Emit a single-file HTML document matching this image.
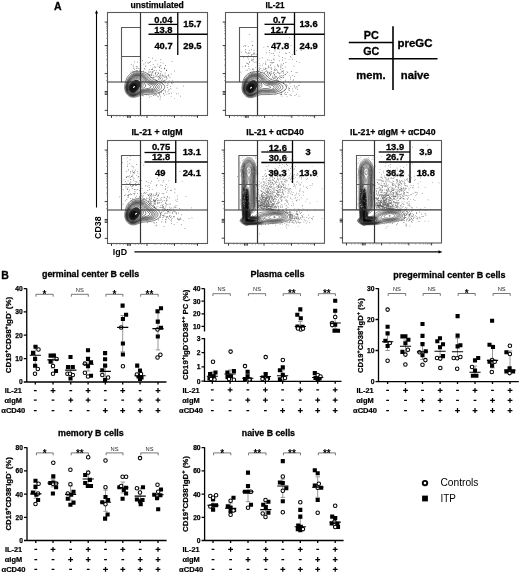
<!DOCTYPE html>
<html><head><meta charset="utf-8"><title>Figure</title>
<style>html,body{margin:0;padding:0;background:#fff;}svg{display:block;}text{font-family:"Liberation Sans", Arial, sans-serif;}</style>
</head><body>
<svg width="520" height="573" viewBox="0 0 520 573" font-family='"Liberation Sans", Arial, sans-serif'>
<rect width="520" height="573" fill="#fff"/>
<text x="54" y="9.6" font-size="10.5" font-weight="bold" stroke="#000" stroke-width="0.3" fill="#000">A</text>
<line x1="96.5" y1="12" x2="96.5" y2="207.5" stroke="#000" stroke-width="1.1"/>
<path d="M96.5 10 L98 13.5 L95 13.5 Z" fill="#000"/>
<text transform="translate(101,227.7) rotate(-90)" font-size="9.4" font-weight="bold" text-anchor="middle" textLength="22.5" lengthAdjust="spacingAndGlyphs">CD38</text>
<text x="112.8" y="254.6" font-size="9" font-weight="bold" textLength="14.2" lengthAdjust="spacingAndGlyphs" fill="#000">IgD</text>
<line x1="134.4" y1="251.9" x2="439.5" y2="251.9" stroke="#000" stroke-width="1.1"/>
<path d="M442.5 251.9 L438.5 250.3 L438.5 253.5 Z" fill="#000"/>
<rect x="107.5" y="12.5" width="100" height="103" fill="none" stroke="#5a5a5a" stroke-width="1.1"/>
<path d="M104.7 22.08h2.8 M104.7 45.56h2.8 M104.7 73.58h2.8 M104.7 110.35h2.8 M104.7 91.54h2.8 M104.7 92.94h2.8 M104.7 94.34h2.8 M111.5 115.5v2.4 M147 115.5v2.4 M174.5 115.5v2.4 M197.5 115.5v2.4 M127.6 115.5v2.4 M129 115.5v2.4 M130.4 115.5v2.4" stroke="#222" stroke-width="0.9" fill="none"/>
<path d="M106 23.25h1.5 M106 24.66h1.5 M106 26.31h1.5 M106 28.18h1.5 M106 30.53h1.5 M106 33.82h1.5 M106 38.52h1.5 M106 46.96h1.5 M106 48.64h1.5 M106 50.61h1.5 M106 52.85h1.5 M106 55.65h1.5 M106 59.57h1.5 M106 65.17h1.5 M106 76.67h1.5 M106 80.53h1.5 M155.25 115.5v1.5 M160.75 115.5v1.5 M164.6 115.5v1.5 M167.35 115.5v1.5 M169.55 115.5v1.5 M171.47 115.5v1.5 M173.12 115.5v1.5 M181.4 115.5v1.5 M186 115.5v1.5 M189.22 115.5v1.5 M191.52 115.5v1.5 M193.36 115.5v1.5 M194.97 115.5v1.5 M196.35 115.5v1.5 M116.6 115.5v1.5 M135.3 115.5v1.5 M120 115.5v1.5 M138.5 115.5v1.5 M123.4 115.5v1.5 M141.7 115.5v1.5 M125.95 115.5v1.5 M144.1 115.5v1.5" stroke="#777" stroke-width="0.6" fill="none"/>
<rect x="225.5" y="12.5" width="99" height="103" fill="none" stroke="#5a5a5a" stroke-width="1.1"/>
<path d="M222.7 22.08h2.8 M222.7 45.56h2.8 M222.7 73.58h2.8 M222.7 110.35h2.8 M222.7 91.54h2.8 M222.7 92.94h2.8 M222.7 94.34h2.8 M229.46 115.5v2.4 M264.61 115.5v2.4 M291.83 115.5v2.4 M314.6 115.5v2.4 M245.38 115.5v2.4 M246.78 115.5v2.4 M248.19 115.5v2.4" stroke="#222" stroke-width="0.9" fill="none"/>
<path d="M224 23.25h1.5 M224 24.66h1.5 M224 26.31h1.5 M224 28.18h1.5 M224 30.53h1.5 M224 33.82h1.5 M224 38.52h1.5 M224 46.96h1.5 M224 48.64h1.5 M224 50.61h1.5 M224 52.85h1.5 M224 55.65h1.5 M224 59.57h1.5 M224 65.17h1.5 M224 76.67h1.5 M224 80.53h1.5 M272.77 115.5v1.5 M278.22 115.5v1.5 M282.03 115.5v1.5 M284.75 115.5v1.5 M286.93 115.5v1.5 M288.84 115.5v1.5 M290.47 115.5v1.5 M298.66 115.5v1.5 M303.22 115.5v1.5 M306.4 115.5v1.5 M308.68 115.5v1.5 M310.5 115.5v1.5 M312.1 115.5v1.5 M313.46 115.5v1.5 M234.51 115.5v1.5 M253.02 115.5v1.5 M237.88 115.5v1.5 M256.19 115.5v1.5 M241.24 115.5v1.5 M259.36 115.5v1.5 M243.77 115.5v1.5 M261.73 115.5v1.5" stroke="#777" stroke-width="0.6" fill="none"/>
<rect x="107.5" y="140.5" width="100" height="103" fill="none" stroke="#5a5a5a" stroke-width="1.1"/>
<path d="M104.7 150.08h2.8 M104.7 173.56h2.8 M104.7 201.58h2.8 M104.7 238.35h2.8 M104.7 219.54h2.8 M104.7 220.94h2.8 M104.7 222.34h2.8 M111.5 243.5v2.4 M147 243.5v2.4 M174.5 243.5v2.4 M197.5 243.5v2.4 M127.6 243.5v2.4 M129 243.5v2.4 M130.4 243.5v2.4" stroke="#222" stroke-width="0.9" fill="none"/>
<path d="M106 151.25h1.5 M106 152.66h1.5 M106 154.31h1.5 M106 156.18h1.5 M106 158.53h1.5 M106 161.82h1.5 M106 166.52h1.5 M106 174.96h1.5 M106 176.64h1.5 M106 178.61h1.5 M106 180.85h1.5 M106 183.65h1.5 M106 187.57h1.5 M106 193.17h1.5 M106 204.67h1.5 M106 208.53h1.5 M155.25 243.5v1.5 M160.75 243.5v1.5 M164.6 243.5v1.5 M167.35 243.5v1.5 M169.55 243.5v1.5 M171.47 243.5v1.5 M173.12 243.5v1.5 M181.4 243.5v1.5 M186 243.5v1.5 M189.22 243.5v1.5 M191.52 243.5v1.5 M193.36 243.5v1.5 M194.97 243.5v1.5 M196.35 243.5v1.5 M116.6 243.5v1.5 M135.3 243.5v1.5 M120 243.5v1.5 M138.5 243.5v1.5 M123.4 243.5v1.5 M141.7 243.5v1.5 M125.95 243.5v1.5 M144.1 243.5v1.5" stroke="#777" stroke-width="0.6" fill="none"/>
<rect x="224.5" y="140.5" width="100" height="102.8" fill="none" stroke="#5a5a5a" stroke-width="1.1"/>
<path d="M221.7 150.06h2.8 M221.7 173.5h2.8 M221.7 201.46h2.8 M221.7 238.16h2.8 M221.7 219.39h2.8 M221.7 220.79h2.8 M221.7 222.19h2.8 M228.5 243.3v2.4 M264 243.3v2.4 M291.5 243.3v2.4 M314.5 243.3v2.4 M244.6 243.3v2.4 M246 243.3v2.4 M247.4 243.3v2.4" stroke="#222" stroke-width="0.9" fill="none"/>
<path d="M223 151.23h1.5 M223 152.64h1.5 M223 154.28h1.5 M223 156.15h1.5 M223 158.5h1.5 M223 161.78h1.5 M223 166.47h1.5 M223 174.9h1.5 M223 176.57h1.5 M223 178.53h1.5 M223 180.77h1.5 M223 183.56h1.5 M223 187.48h1.5 M223 193.07h1.5 M223 204.54h1.5 M223 208.4h1.5 M272.25 243.3v1.5 M277.75 243.3v1.5 M281.6 243.3v1.5 M284.35 243.3v1.5 M286.55 243.3v1.5 M288.48 243.3v1.5 M290.12 243.3v1.5 M298.4 243.3v1.5 M303 243.3v1.5 M306.22 243.3v1.5 M308.52 243.3v1.5 M310.36 243.3v1.5 M311.97 243.3v1.5 M313.35 243.3v1.5 M233.6 243.3v1.5 M252.3 243.3v1.5 M237 243.3v1.5 M255.5 243.3v1.5 M240.4 243.3v1.5 M258.7 243.3v1.5 M242.95 243.3v1.5 M261.1 243.3v1.5" stroke="#777" stroke-width="0.6" fill="none"/>
<rect x="342.5" y="140.5" width="99" height="102.5" fill="none" stroke="#5a5a5a" stroke-width="1.1"/>
<path d="M339.7 150.03h2.8 M339.7 173.4h2.8 M339.7 201.28h2.8 M339.7 237.88h2.8 M339.7 219.15h2.8 M339.7 220.55h2.8 M339.7 221.95h2.8 M346.46 243v2.4 M381.61 243v2.4 M408.83 243v2.4 M431.6 243v2.4 M362.39 243v2.4 M363.79 243v2.4 M365.19 243v2.4" stroke="#222" stroke-width="0.9" fill="none"/>
<path d="M341 151.2h1.5 M341 152.6h1.5 M341 154.24h1.5 M341 156.11h1.5 M341 158.45h1.5 M341 161.72h1.5 M341 166.39h1.5 M341 174.8h1.5 M341 176.47h1.5 M341 178.42h1.5 M341 180.65h1.5 M341 183.44h1.5 M341 187.34h1.5 M341 192.92h1.5 M341 204.36h1.5 M341 208.2h1.5 M389.77 243v1.5 M395.22 243v1.5 M399.03 243v1.5 M401.75 243v1.5 M403.93 243v1.5 M405.84 243v1.5 M407.47 243v1.5 M415.66 243v1.5 M420.22 243v1.5 M423.4 243v1.5 M425.68 243v1.5 M427.5 243v1.5 M429.1 243v1.5 M430.46 243v1.5 M351.51 243v1.5 M370.02 243v1.5 M354.88 243v1.5 M373.19 243v1.5 M358.24 243v1.5 M376.36 243v1.5 M360.77 243v1.5 M378.73 243v1.5" stroke="#777" stroke-width="0.6" fill="none"/>
<path d="M178.1 92.9h0.7v0.7h-0.7zM151.6 74.9h0.7v0.7h-0.7zM150.8 96.4h0.7v0.7h-0.7zM160.5 82.5h0.7v0.7h-0.7zM156.2 94.1h0.7v0.7h-0.7zM160.3 73.2h0.7v0.7h-0.7zM150.5 77.3h0.7v0.7h-0.7zM160 65.6h0.7v0.7h-0.7zM166.1 78.7h0.7v0.7h-0.7zM171.2 82.3h0.7v0.7h-0.7zM150.3 61.3h0.7v0.7h-0.7zM166.4 93.9h0.7v0.7h-0.7zM164.8 72.7h0.7v0.7h-0.7zM148.9 74.2h0.7v0.7h-0.7zM161.6 90.5h0.7v0.7h-0.7zM170.9 73.5h0.7v0.7h-0.7zM171.6 83h0.7v0.7h-0.7zM159.3 80.7h0.7v0.7h-0.7zM158.7 76h0.7v0.7h-0.7zM160.6 74.8h0.7v0.7h-0.7zM159.1 66.8h0.7v0.7h-0.7zM152 72.1h0.7v0.7h-0.7zM150.2 71.5h0.7v0.7h-0.7zM164.7 91.4h0.7v0.7h-0.7zM156.8 75.7h0.7v0.7h-0.7zM160.4 95.8h0.7v0.7h-0.7zM155.7 80.8h0.7v0.7h-0.7zM146.2 94.6h0.7v0.7h-0.7zM154.3 70.2h0.7v0.7h-0.7zM139.8 69.5h0.7v0.7h-0.7zM157.1 74.2h0.7v0.7h-0.7zM166 76.2h0.7v0.7h-0.7zM154.2 94.3h0.7v0.7h-0.7zM155.2 73.7h0.7v0.7h-0.7zM151.8 77h0.7v0.7h-0.7zM143.9 68h0.7v0.7h-0.7zM166 70.1h0.7v0.7h-0.7zM155.3 72.7h0.7v0.7h-0.7zM150.9 75.1h0.7v0.7h-0.7zM163.1 80.9h0.7v0.7h-0.7zM148.8 70.8h0.7v0.7h-0.7zM159.8 65.6h0.7v0.7h-0.7zM151.2 69.3h0.7v0.7h-0.7zM135.8 71.8h0.7v0.7h-0.7zM135.8 68.4h0.7v0.7h-0.7zM151.7 94.4h0.7v0.7h-0.7zM159.2 67.3h0.7v0.7h-0.7zM155.4 79.6h0.7v0.7h-0.7zM152 67.8h0.7v0.7h-0.7zM160.5 59.3h0.7v0.7h-0.7zM158.1 79.2h0.7v0.7h-0.7zM161.2 91.4h0.7v0.7h-0.7zM159.6 78.8h0.7v0.7h-0.7zM155.2 79.4h0.7v0.7h-0.7zM153.1 75.2h0.7v0.7h-0.7zM164.9 82.7h0.7v0.7h-0.7zM166.1 77.1h0.7v0.7h-0.7zM161.4 82.1h0.7v0.7h-0.7zM153.9 66.7h0.7v0.7h-0.7zM159.5 75.1h0.7v0.7h-0.7zM139.7 67.9h0.7v0.7h-0.7zM130.8 64.2h0.7v0.7h-0.7zM160 82.6h0.7v0.7h-0.7zM174 98.4h0.7v0.7h-0.7zM151.2 74.6h0.7v0.7h-0.7zM152.9 76.8h0.7v0.7h-0.7zM156.8 80.7h0.7v0.7h-0.7zM168.6 93.6h0.7v0.7h-0.7zM152 57.8h0.7v0.7h-0.7zM156.6 75.7h0.7v0.7h-0.7zM137.1 61.8h0.7v0.7h-0.7zM145.1 62.5h0.7v0.7h-0.7zM163 89.6h0.7v0.7h-0.7zM164.3 94.7h0.7v0.7h-0.7zM176.6 87.8h0.7v0.7h-0.7zM158.3 72.8h0.7v0.7h-0.7zM167.7 75h0.7v0.7h-0.7zM151.6 77.2h0.7v0.7h-0.7zM162.7 75.8h0.7v0.7h-0.7zM171.8 61.2h0.7v0.7h-0.7zM161.5 79.8h0.7v0.7h-0.7zM139.9 70.5h0.7v0.7h-0.7zM162.7 62.7h0.7v0.7h-0.7zM164 68.5h0.7v0.7h-0.7zM136.7 67.8h0.7v0.7h-0.7zM168.4 82.6h0.7v0.7h-0.7zM157.2 95.7h0.7v0.7h-0.7zM157.9 78.4h0.7v0.7h-0.7zM169.7 77.2h0.7v0.7h-0.7zM168 76.4h0.7v0.7h-0.7zM164.8 90.2h0.7v0.7h-0.7zM162 75.1h0.7v0.7h-0.7zM160.9 68.3h0.7v0.7h-0.7zM145.4 66.1h0.7v0.7h-0.7zM148.5 94.7h0.7v0.7h-0.7zM133.3 71.2h0.7v0.7h-0.7zM152.9 64.2h0.7v0.7h-0.7zM151.8 71.6h0.7v0.7h-0.7zM149.2 74.7h0.7v0.7h-0.7zM157.6 66.4h0.7v0.7h-0.7zM180.3 95.8h0.7v0.7h-0.7zM159.1 94.8h0.7v0.7h-0.7zM168.5 74.6h0.7v0.7h-0.7zM167 85h0.7v0.7h-0.7zM158.9 92.5h0.7v0.7h-0.7zM157.5 63.8h0.7v0.7h-0.7zM165.1 65h0.7v0.7h-0.7zM166.5 85.1h0.7v0.7h-0.7zM160.3 70.9h0.7v0.7h-0.7zM165.9 76.6h0.7v0.7h-0.7zM149.4 72.4h0.7v0.7h-0.7zM149.3 62.1h0.7v0.7h-0.7zM172.7 82.5h0.7v0.7h-0.7zM132.9 64.8h0.7v0.7h-0.7zM162.4 77.8h0.7v0.7h-0.7zM167.8 83.9h0.7v0.7h-0.7zM157.6 71.9h0.7v0.7h-0.7zM163.5 75.7h0.7v0.7h-0.7zM151.4 74.3h0.7v0.7h-0.7zM152.7 73.4h0.7v0.7h-0.7zM162.3 74.5h0.7v0.7h-0.7zM162.4 79.6h0.7v0.7h-0.7zM156.3 80.2h0.7v0.7h-0.7zM132.1 70.8h0.7v0.7h-0.7zM159.3 77.6h0.7v0.7h-0.7zM154.6 66.4h0.7v0.7h-0.7zM167.9 89.4h0.7v0.7h-0.7zM160.7 77h0.7v0.7h-0.7zM156.3 70.5h0.7v0.7h-0.7zM148 62.8h0.7v0.7h-0.7zM163 93.2h0.7v0.7h-0.7zM164.7 74.8h0.7v0.7h-0.7zM139.7 71.5h0.7v0.7h-0.7zM144.6 68.7h0.7v0.7h-0.7zM155.5 72.1h0.7v0.7h-0.7zM159.1 93.4h0.7v0.7h-0.7zM160.3 96.9h0.7v0.7h-0.7zM163.4 93.6h0.7v0.7h-0.7zM155.3 67.3h0.7v0.7h-0.7zM135.4 70.4h0.7v0.7h-0.7zM165.1 76.6h0.7v0.7h-0.7zM153.3 70.7h0.7v0.7h-0.7zM160.7 80.5h0.7v0.7h-0.7zM157.3 81.6h0.7v0.7h-0.7zM133.5 71.8h0.7v0.7h-0.7zM170.8 96.4h0.7v0.7h-0.7zM153.3 95.1h0.7v0.7h-0.7zM135.9 66.1h0.7v0.7h-0.7zM150.5 65.4h0.7v0.7h-0.7zM156.4 75.5h0.7v0.7h-0.7zM155.4 60.2h0.7v0.7h-0.7zM133.9 71.1h0.7v0.7h-0.7zM171.9 80.6h0.7v0.7h-0.7zM134.3 61.6h0.7v0.7h-0.7zM168.8 80.6h0.7v0.7h-0.7zM154 76.9h0.7v0.7h-0.7zM166.3 70.4h0.7v0.7h-0.7zM162.1 83.8h0.7v0.7h-0.7zM158 73.4h0.7v0.7h-0.7zM137.1 70.3h0.7v0.7h-0.7zM164 80.2h0.7v0.7h-0.7zM159 70.2h0.7v0.7h-0.7zM170.5 88.1h0.7v0.7h-0.7zM161 92.4h0.7v0.7h-0.7zM164.4 68.1h0.7v0.7h-0.7zM160.4 75.7h0.7v0.7h-0.7zM171.3 92.7h0.7v0.7h-0.7zM157.9 76.2h0.7v0.7h-0.7zM166.9 77.9h0.7v0.7h-0.7zM142.9 95.6h0.7v0.7h-0.7zM157.6 76.9h0.7v0.7h-0.7zM148.3 71.8h0.7v0.7h-0.7zM148.9 96.8h0.7v0.7h-0.7zM140.4 71.4h0.7v0.7h-0.7zM138.5 68.1h0.7v0.7h-0.7zM154.8 75.8h0.7v0.7h-0.7zM147.7 73h0.7v0.7h-0.7zM163.5 81.2h0.7v0.7h-0.7zM134 69.4h0.7v0.7h-0.7zM168.9 92.9h0.7v0.7h-0.7zM153.4 95.2h0.7v0.7h-0.7zM160.5 92.1h0.7v0.7h-0.7zM142 60.3h0.7v0.7h-0.7zM152.2 69.3h0.7v0.7h-0.7zM166.3 69.7h0.7v0.7h-0.7zM159.4 93.8h0.7v0.7h-0.7zM165.2 91.7h0.7v0.7h-0.7zM160.2 62.4h0.7v0.7h-0.7zM168.1 74.8h0.7v0.7h-0.7zM159.7 74.6h0.7v0.7h-0.7zM132.8 66.5h0.7v0.7h-0.7zM130.5 71.8h0.7v0.7h-0.7zM167 87.1h0.7v0.7h-0.7zM163.1 80.4h0.7v0.7h-0.7zM161.7 81.5h0.7v0.7h-0.7zM155.1 73.5h0.7v0.7h-0.7zM176.2 93.5h0.7v0.7h-0.7zM174.2 70.8h0.7v0.7h-0.7zM146.7 73.7h0.7v0.7h-0.7zM155.5 76.4h0.7v0.7h-0.7zM136.2 70.3h0.7v0.7h-0.7zM145.5 64.9h0.7v0.7h-0.7zM133.5 67.7h0.7v0.7h-0.7zM158.2 93.1h0.7v0.7h-0.7zM148.5 57.3h0.7v0.7h-0.7zM143.5 63.7h0.7v0.7h-0.7zM151.5 69.3h0.7v0.7h-0.7zM149.4 75.6h0.7v0.7h-0.7zM167.6 91.5h0.7v0.7h-0.7zM164.6 81.7h0.7v0.7h-0.7zM159.7 99h0.7v0.7h-0.7zM139.1 69.9h0.7v0.7h-0.7zM171.5 82.9h0.7v0.7h-0.7zM143.1 70.8h0.7v0.7h-0.7zM133.1 67.9h0.7v0.7h-0.7zM170.1 86.2h0.7v0.7h-0.7zM149 69.3h0.7v0.7h-0.7zM147.6 62.5h0.7v0.7h-0.7zM142.2 95h0.7v0.7h-0.7zM155 93.9h0.7v0.7h-0.7zM166.9 83h0.7v0.7h-0.7zM161.3 71.5h0.7v0.7h-0.7zM149.8 74.6h0.7v0.7h-0.7zM153.3 77.6h0.7v0.7h-0.7zM158.3 96.5h0.7v0.7h-0.7zM136.8 66.5h0.7v0.7h-0.7zM165.8 76.9h0.7v0.7h-0.7zM168.3 89.9h0.7v0.7h-0.7zM183.1 85.7h0.7v0.7h-0.7zM164.8 79.8h0.7v0.7h-0.7zM147.7 74.7h0.7v0.7h-0.7zM155.6 95h0.7v0.7h-0.7zM160.3 78.2h0.7v0.7h-0.7zM164 67.8h0.7v0.7h-0.7zM160.5 65.4h0.7v0.7h-0.7zM151.3 72.7h0.7v0.7h-0.7zM152.3 71.5h0.7v0.7h-0.7zM159.1 76.9h0.7v0.7h-0.7zM164.3 76.7h0.7v0.7h-0.7zM169.1 88.9h0.7v0.7h-0.7z" fill="#555"/>
<path d="M135.3 80 136.5 79.9 137.5 80.1 138.3 80.5 139.1 81.2 139.8 82.2 140.1 83.2 140.2 84.5 140.1 85.8 139.6 87 138.6 88.8 136.2 91.6 134.2 92.8 133 93 132 92.9 130.3 92 129.2 90.5 128.7 88.5 128.8 86.5 129.7 84.5 131.2 82.5 133.2 80.9Z" fill="#333" fill-rule="evenodd"/>
<path d="M133.6 83.5 135 83.4 136.2 84.1 136.8 85.2 136.9 87 136.3 89 135.2 90.5 134 91.3 132.5 91.5 131.2 91 130.5 90.2 130 89 130 87.5 130.3 86.2 131.1 85 132.2 84.1Z" fill="#0a0a0a" fill-rule="evenodd"/>
<path d="M135.9 71.5 139 71.3 142 71.6 144.8 72.3 147 73.4 149 75 151.7 78 152.9 79 154.9 80 160.2 82.1 162.9 83.8 164 85 164.6 86.2 164.7 87.5 164.2 88.8 162.9 90.2 160.8 91.7 158 92.8 155 93.6 151 94.1 143.2 94.6 141.2 95.1 136.2 96.9 134 97.3 131.2 97.1 129 96.1 127.6 95 126.4 93.5 125.4 91.5 124.9 89.8 124.7 88 124.7 86 125.6 81.2 127.1 77.5 128.1 76 129.3 74.8 130.8 73.5 132.2 72.7 134 72ZM136.8 72.8 139.2 72.7 141.5 73 143.8 73.6 145.8 74.6 147.5 76 150 78.9 151.2 80 153.1 81 158 83 160.3 84.5 161.1 85.5 161.5 86.5 161.5 87.5 161.1 88.5 160 89.7 158.5 90.7 156.5 91.6 154 92.3 150.5 92.8 145 93 143 93.3 140.8 94 136.2 95.9 134.2 96.5 132.8 96.5 131.5 96.4 129.2 95.4 128 94.3 127 93 126.2 91.5 125.7 89.8 125.5 88 125.6 86 126.6 81.8 128.3 78 129.4 76.5 130.5 75.4 131.8 74.4 133.2 73.7 135 73.1ZM136.1 73.8 138.2 73.6 140.8 73.8 142.8 74.4 144.8 75.4 146.5 76.8 149 79.8 150.1 80.8 151.9 81.8 156.1 83.5 158.1 84.8 158.8 85.5 159.2 86.5 159.2 87.5 158.9 88.2 158.3 89 157.3 89.8 154.5 91 150.8 91.8 145 92.1 143 92.4 141 93 136.8 95.1 134.8 95.8 133.2 96 132 95.9 130.8 95.6 129.5 95 128.3 94 127.3 92.8 126.7 91.5 126.2 90 126 87 126.7 83.5 128.3 79.5 130.2 76.7 131.5 75.6 132.8 74.8 134.2 74.2ZM135.7 74.5 137.8 74.3 140 74.5 142.2 75.1 144 76 145.6 77.2 148 80.3 149.2 81.4 150.8 82.3 154.8 84 156.5 85.2 157.3 86.5 157.4 87.2 157.1 88 155.8 89.2 153.7 90.2 150.5 91 145 91.3 143 91.6 141 92.4 136.8 94.7 134.8 95.4 132.2 95.6 131 95.3 129.8 94.7 128.8 93.9 127.8 92.8 126.6 90.2 126.3 87.2 126.9 84.2 128.4 80.5 130.4 77.5 131.5 76.4 132.8 75.6 134.2 74.9ZM136.1 75 138 74.9 140 75.1 141.8 75.7 143.5 76.6 145.1 78 147.2 80.8 148.2 81.8 149.8 82.8 153.5 84.5 154.9 85.5 155.6 86.8 155.5 87.5 155.2 88 153.8 89.2 151.5 89.9 149.2 90.3 144.8 90.6 142.5 91.1 140.5 92 136.5 94.4 134.5 95.2 133.2 95.3 132 95.2 130.8 94.9 129.8 94.3 128.8 93.5 127.9 92.5 126.8 90 126.6 87.2 127.2 84.2 128.9 80.5 130.8 77.8 132 76.7 133.2 75.9 134.8 75.3ZM136.1 75.5 138 75.4 139.8 75.6 141.5 76.2 143 77.1 144.5 78.5 146.5 81.3 147.5 82.4 148.8 83.2 152.2 85 153.2 85.8 153.8 86.8 153.5 87.8 152.5 88.6 150.7 89.2 144.8 89.9 142.8 90.5 140.5 91.6 136.5 94.1 134.5 94.9 133.2 95.1 132 95 130.8 94.6 129.8 94 128.8 93.2 128 92.2 127.1 90 126.8 87.2 127.4 84.5 129.1 80.8 131 78.2 133.2 76.4 134.5 75.9ZM137.1 76 140 76.4 141.4 77 142.6 77.8 144 79.2 146.4 83 147.5 83.9 150.4 85.8 151 86.5 151 87 150.4 87.8 149.2 88.2 145 89 142.8 89.7 140.5 91 136.8 93.6 135.2 94.3 133.2 94.8 131.5 94.6 130.2 94 129.2 93.3 128.4 92.2 127.7 91 127.2 89.5 127.1 88 127.6 85 128.4 83 129.3 81.2 130.5 79.5 131.6 78.2 132.8 77.4 134.2 76.6 135.8 76.1ZM135.3 77 137 76.8 138.8 77 140.5 77.6 141.8 78.5 142.7 79.5 143.6 81 145.4 85 145.6 86 145.4 86.5 144.7 87.2 136.2 93.4 134 94.3 132 94.3 130 93.4 129 92.5 128.3 91.5 127.8 90.2 127.5 89 127.6 86.2 128.7 83.2 130.9 80 133 78ZM135.8 77.8 137.2 77.7 138.8 78 140 78.6 141.2 79.5 142 80.8 142.7 82.5 143.1 84.2 143 85.8 142.6 86.8 141.6 88 136.5 92.7 135.2 93.4 134 93.9 132.8 94 131.8 93.8 130.8 93.4 129.8 92.8 128.5 91 128 89.7 127.8 88.5 128.1 86 129.2 83.2 131.5 80.2 133.5 78.6ZM135.6 78.8 137 78.7 138.2 79 139.3 79.5 140.2 80.3 141 81.5 141.5 83 141.7 84.5 141.5 85.8 141 87 140.1 88.2 136.5 92.1 135.2 92.9 134 93.4 132.8 93.5 131.8 93.4 130 92.4 128.8 90.8 128.2 88.5 128.4 86.2 129.5 83.8 131.5 81.2 133.5 79.6ZM135.3 80 136.5 79.9 137.5 80.1 138.3 80.5 139.1 81.2 139.8 82.2 140.1 83.2 140.2 84.5 140.1 85.8 139.6 87 138.6 88.8 136.2 91.6 134.2 92.8 133 93 132 92.9 130.3 92 129.2 90.5 128.7 88.5 128.8 86.5 129.7 84.5 131.2 82.5 133.2 80.9ZM134.2 81.8 136 81.5 136.8 81.8 137.6 82.2 138.2 83 138.5 83.9 138.5 86 137.5 88.8 135.9 91 134.2 92.1 133.2 92.4 132.2 92.3 130.9 91.8 129.8 90.5 129.2 88.8 129.3 87 130 85.2 131 83.8 132.5 82.6ZM133.7 83 135.2 82.9 136.6 83.5 137.3 84.8 137.4 86.8 136.8 88.8 135.6 90.5 134 91.6 132.5 91.8 131.2 91.3 130.2 90.3 129.8 89 129.7 87.5 130.2 86 131 84.7 132.2 83.7ZM132.9 84.2 134.2 84 135.5 84.5 136.2 85.5 136.4 87 136.1 88.5 135.2 90 134 90.9 132.8 91.2 131.8 90.9 131 90.2 130.4 89.2 130.2 88 130.5 86.8 131 85.8 132 84.8ZM132.8 85.2 133.8 85.1 134.8 85.5 135.3 86.2 135.5 87.2 135.3 88.5 134.8 89.5 134 90.2 133 90.5 132.2 90.4 131.5 89.9 131 89 130.9 88.2 131 87.2 131.3 86.5 132 85.7ZM132.7 86.2 133.5 86.1 134 86.3 134.4 86.8 134.6 87.5 134.5 88.2 134.1 89 133.5 89.5 133 89.7 132 89.2 131.6 88.2 131.9 87Z" fill="none" stroke="#1a1a1a" stroke-width="0.55" stroke-linejoin="round"/>
<ellipse cx="134" cy="87" rx="1.2" ry="0.7" fill="#fff" transform="rotate(-35 134 87)"/>
<path d="M271.7 62.8h0.7v0.7h-0.7zM298.2 85.1h0.7v0.7h-0.7zM253 57.6h0.7v0.7h-0.7zM287.4 92.2h0.7v0.7h-0.7zM251.7 41.3h0.7v0.7h-0.7zM286.8 95.9h0.7v0.7h-0.7zM274.7 94.1h0.7v0.7h-0.7zM283.4 77.3h0.7v0.7h-0.7zM296.1 50.3h0.7v0.7h-0.7zM266.4 70h0.7v0.7h-0.7zM288.8 88.2h0.7v0.7h-0.7zM280.7 66.5h0.7v0.7h-0.7zM294.3 84.9h0.7v0.7h-0.7zM252.8 60.7h0.7v0.7h-0.7zM259.2 69.8h0.7v0.7h-0.7zM299.1 85.4h0.7v0.7h-0.7zM283.2 72.7h0.7v0.7h-0.7zM290.3 86.4h0.7v0.7h-0.7zM275.7 73h0.7v0.7h-0.7zM288.4 89.5h0.7v0.7h-0.7zM268.1 64.9h0.7v0.7h-0.7zM273.3 72h0.7v0.7h-0.7zM273.8 78.1h0.7v0.7h-0.7zM243.1 45.9h0.7v0.7h-0.7zM290.2 56.1h0.7v0.7h-0.7zM290.7 95h0.7v0.7h-0.7zM273.3 73.1h0.7v0.7h-0.7zM299.7 82.1h0.7v0.7h-0.7zM286.2 53h0.7v0.7h-0.7zM268.6 71.8h0.7v0.7h-0.7zM279.1 56.4h0.7v0.7h-0.7zM267.7 73.7h0.7v0.7h-0.7zM258 71.4h0.7v0.7h-0.7zM295.4 54.3h0.7v0.7h-0.7zM264.8 70.9h0.7v0.7h-0.7zM240.9 51.8h0.7v0.7h-0.7zM259.7 65.2h0.7v0.7h-0.7zM273.2 53.1h0.7v0.7h-0.7zM285.1 52.7h0.7v0.7h-0.7zM283.3 63.3h0.7v0.7h-0.7zM281.4 75.3h0.7v0.7h-0.7zM274.1 77.6h0.7v0.7h-0.7zM272.6 62.2h0.7v0.7h-0.7zM294.2 86.6h0.7v0.7h-0.7zM248 64.3h0.7v0.7h-0.7zM271.5 53.3h0.7v0.7h-0.7zM276.8 77.4h0.7v0.7h-0.7zM248.4 55.6h0.7v0.7h-0.7zM292.6 90.8h0.7v0.7h-0.7zM284.5 74.5h0.7v0.7h-0.7zM279.6 74.9h0.7v0.7h-0.7zM252.4 44.7h0.7v0.7h-0.7zM267 72.5h0.7v0.7h-0.7zM277.8 65.1h0.7v0.7h-0.7zM290.8 56.9h0.7v0.7h-0.7zM276.1 76.5h0.7v0.7h-0.7zM277.9 80.4h0.7v0.7h-0.7zM269.3 52.6h0.7v0.7h-0.7zM270.3 74h0.7v0.7h-0.7zM278.2 55.4h0.7v0.7h-0.7zM273.7 59.5h0.7v0.7h-0.7zM277.4 65.6h0.7v0.7h-0.7zM280.2 78.9h0.7v0.7h-0.7zM267.3 46.1h0.7v0.7h-0.7zM257.7 70.1h0.7v0.7h-0.7zM265.4 69.4h0.7v0.7h-0.7zM283 42.9h0.7v0.7h-0.7zM252 45h0.7v0.7h-0.7zM247.4 57h0.7v0.7h-0.7zM245.4 45.5h0.7v0.7h-0.7zM272.7 76.9h0.7v0.7h-0.7zM271 73.3h0.7v0.7h-0.7zM248.1 52.6h0.7v0.7h-0.7zM278 72.3h0.7v0.7h-0.7zM296.4 61.3h0.7v0.7h-0.7zM268.7 66.5h0.7v0.7h-0.7zM285.5 62.2h0.7v0.7h-0.7zM250.3 72.3h0.7v0.7h-0.7zM285.8 73.4h0.7v0.7h-0.7zM280.8 63.7h0.7v0.7h-0.7zM252.7 54.1h0.7v0.7h-0.7zM290.7 45.3h0.7v0.7h-0.7zM252.8 59.2h0.7v0.7h-0.7zM274.5 66.5h0.7v0.7h-0.7zM246.7 53.5h0.7v0.7h-0.7zM279.2 51.8h0.7v0.7h-0.7zM283.1 83.1h0.7v0.7h-0.7zM277.4 80.8h0.7v0.7h-0.7zM287.4 84.9h0.7v0.7h-0.7zM272.2 77h0.7v0.7h-0.7zM244.5 45h0.7v0.7h-0.7zM291.8 54.6h0.7v0.7h-0.7zM259.1 62.9h0.7v0.7h-0.7zM257.2 67.8h0.7v0.7h-0.7zM292.4 75h0.7v0.7h-0.7zM281.3 71.4h0.7v0.7h-0.7zM265 67.7h0.7v0.7h-0.7zM270.4 73.8h0.7v0.7h-0.7zM277.2 78h0.7v0.7h-0.7zM275.2 76.2h0.7v0.7h-0.7zM295.2 87.8h0.7v0.7h-0.7zM281.3 93.7h0.7v0.7h-0.7zM259.5 57.9h0.7v0.7h-0.7zM254.1 53.3h0.7v0.7h-0.7zM278.9 48.8h0.7v0.7h-0.7zM257.4 64.9h0.7v0.7h-0.7zM276.8 80.2h0.7v0.7h-0.7zM245.3 49.2h0.7v0.7h-0.7zM288.8 59.4h0.7v0.7h-0.7zM273.4 62h0.7v0.7h-0.7zM284.8 94h0.7v0.7h-0.7zM283.2 75.2h0.7v0.7h-0.7zM270.9 67.3h0.7v0.7h-0.7zM286.6 70.9h0.7v0.7h-0.7zM263.4 68.6h0.7v0.7h-0.7zM269.4 73.1h0.7v0.7h-0.7zM281.2 92.3h0.7v0.7h-0.7zM248.4 58.7h0.7v0.7h-0.7zM270.5 64.4h0.7v0.7h-0.7zM252.4 59.8h0.7v0.7h-0.7zM262.8 63.4h0.7v0.7h-0.7zM245.3 66.3h0.7v0.7h-0.7zM246.1 62.8h0.7v0.7h-0.7zM294 76.2h0.7v0.7h-0.7zM253.4 70.6h0.7v0.7h-0.7zM272 75.8h0.7v0.7h-0.7zM269.9 74.6h0.7v0.7h-0.7zM288.9 74.9h0.7v0.7h-0.7zM256.9 60.7h0.7v0.7h-0.7zM291.9 59.3h0.7v0.7h-0.7zM279.5 76.3h0.7v0.7h-0.7zM265.5 64.1h0.7v0.7h-0.7zM285.2 74.4h0.7v0.7h-0.7zM253.7 50h0.7v0.7h-0.7zM283.2 82h0.7v0.7h-0.7zM282.4 68.1h0.7v0.7h-0.7zM285.4 79.8h0.7v0.7h-0.7zM270.8 77.9h0.7v0.7h-0.7zM248.9 34.1h0.7v0.7h-0.7zM252.4 68.5h0.7v0.7h-0.7zM248.2 45.9h0.7v0.7h-0.7zM293.3 79.6h0.7v0.7h-0.7zM249 61.2h0.7v0.7h-0.7zM279.2 78h0.7v0.7h-0.7zM290 78.7h0.7v0.7h-0.7zM266.8 71.1h0.7v0.7h-0.7zM283.1 72.6h0.7v0.7h-0.7zM264 72.6h0.7v0.7h-0.7zM274.9 77.3h0.7v0.7h-0.7zM255.3 67.4h0.7v0.7h-0.7zM281.5 77.5h0.7v0.7h-0.7zM270.6 72.4h0.7v0.7h-0.7zM270.4 75.1h0.7v0.7h-0.7zM255.6 61.8h0.7v0.7h-0.7zM284.8 66.8h0.7v0.7h-0.7zM288.9 52h0.7v0.7h-0.7zM282.5 70.7h0.7v0.7h-0.7zM291.3 71.3h0.7v0.7h-0.7zM265.2 63.2h0.7v0.7h-0.7zM269.1 72.3h0.7v0.7h-0.7zM265.2 68.2h0.7v0.7h-0.7zM248.5 53h0.7v0.7h-0.7zM287.3 72.1h0.7v0.7h-0.7zM252.6 72.2h0.7v0.7h-0.7zM285.1 92h0.7v0.7h-0.7zM260.4 72h0.7v0.7h-0.7zM245.8 70.4h0.7v0.7h-0.7zM280.9 77h0.7v0.7h-0.7zM271 71.3h0.7v0.7h-0.7zM251.2 60.2h0.7v0.7h-0.7zM259.3 67.5h0.7v0.7h-0.7zM298.8 95.7h0.7v0.7h-0.7zM274.6 50.6h0.7v0.7h-0.7zM247.4 56h0.7v0.7h-0.7zM269.2 50.3h0.7v0.7h-0.7zM253.7 53.8h0.7v0.7h-0.7zM249.7 69.5h0.7v0.7h-0.7zM274.5 70.6h0.7v0.7h-0.7zM268.4 67.2h0.7v0.7h-0.7zM257 69.8h0.7v0.7h-0.7zM271 60h0.7v0.7h-0.7zM273.7 76.4h0.7v0.7h-0.7zM296.5 86.2h0.7v0.7h-0.7zM263.7 72.4h0.7v0.7h-0.7zM244.9 65h0.7v0.7h-0.7zM281.4 94.2h0.7v0.7h-0.7zM288.7 81.6h0.7v0.7h-0.7zM245 51.6h0.7v0.7h-0.7zM248.5 66.1h0.7v0.7h-0.7zM278.5 72.7h0.7v0.7h-0.7zM274.3 69.2h0.7v0.7h-0.7zM275.5 69.7h0.7v0.7h-0.7zM246.9 69.8h0.7v0.7h-0.7zM273.7 70.4h0.7v0.7h-0.7zM282.2 71.3h0.7v0.7h-0.7zM278.5 80.7h0.7v0.7h-0.7zM289.6 83h0.7v0.7h-0.7zM280.7 93.9h0.7v0.7h-0.7zM299.1 62.4h0.7v0.7h-0.7zM296.7 87.6h0.7v0.7h-0.7zM249.2 62h0.7v0.7h-0.7zM271.4 62.3h0.7v0.7h-0.7zM294.6 95.3h0.7v0.7h-0.7zM245.4 45.7h0.7v0.7h-0.7zM251.4 54.1h0.7v0.7h-0.7zM240.5 71.7h0.7v0.7h-0.7zM289.1 88.1h0.7v0.7h-0.7zM284.9 74h0.7v0.7h-0.7zM247 63.2h0.7v0.7h-0.7zM270.6 73.4h0.7v0.7h-0.7zM271.1 69.1h0.7v0.7h-0.7zM274.9 78.6h0.7v0.7h-0.7zM284.8 80.9h0.7v0.7h-0.7zM279.7 72.9h0.7v0.7h-0.7zM296.7 72.3h0.7v0.7h-0.7zM286.2 84.5h0.7v0.7h-0.7zM248.6 68.2h0.7v0.7h-0.7zM255.8 54h0.7v0.7h-0.7zM282.1 57.1h0.7v0.7h-0.7zM262.1 64.7h0.7v0.7h-0.7zM280.5 67.6h0.7v0.7h-0.7zM268.9 73.1h0.7v0.7h-0.7zM274.1 71.9h0.7v0.7h-0.7zM268.2 75h0.7v0.7h-0.7zM292.2 88.5h0.7v0.7h-0.7zM279.9 94.2h0.7v0.7h-0.7zM295.6 72.4h0.7v0.7h-0.7zM285.9 94.2h0.7v0.7h-0.7zM262.2 57.5h0.7v0.7h-0.7zM267 72h0.7v0.7h-0.7zM283.3 70.6h0.7v0.7h-0.7zM281.9 64.7h0.7v0.7h-0.7zM280.7 72.6h0.7v0.7h-0.7zM276.3 76.6h0.7v0.7h-0.7zM279 60.6h0.7v0.7h-0.7zM268.2 66.6h0.7v0.7h-0.7zM294.1 48.9h0.7v0.7h-0.7zM296.2 93.8h0.7v0.7h-0.7zM249.6 52.8h0.7v0.7h-0.7zM278 80.8h0.7v0.7h-0.7zM273.9 75h0.7v0.7h-0.7zM275.9 69.1h0.7v0.7h-0.7zM269.9 62h0.7v0.7h-0.7zM274.1 74.1h0.7v0.7h-0.7zM288.9 37.5h0.7v0.7h-0.7zM280.4 69.3h0.7v0.7h-0.7zM292.7 79.9h0.7v0.7h-0.7zM247.9 62.9h0.7v0.7h-0.7zM266 75.5h0.7v0.7h-0.7zM285.8 85.7h0.7v0.7h-0.7zM293.6 65.7h0.7v0.7h-0.7zM260.5 68.1h0.7v0.7h-0.7zM264.3 72.6h0.7v0.7h-0.7zM277.2 64h0.7v0.7h-0.7zM251.9 69.3h0.7v0.7h-0.7zM285 80.8h0.7v0.7h-0.7zM280.1 76.4h0.7v0.7h-0.7zM253.4 68.8h0.7v0.7h-0.7zM282.3 59.7h0.7v0.7h-0.7zM297 89h0.7v0.7h-0.7zM277.5 72.2h0.7v0.7h-0.7zM244.1 79.2h0.7v0.7h-0.7zM284.7 58h0.7v0.7h-0.7zM259 69.2h0.7v0.7h-0.7zM280.1 76.9h0.7v0.7h-0.7zM256.7 71.1h0.7v0.7h-0.7zM282.9 77.4h0.7v0.7h-0.7zM265.5 61.6h0.7v0.7h-0.7zM267.9 46.5h0.7v0.7h-0.7zM252.9 52.8h0.7v0.7h-0.7zM288.4 87.5h0.7v0.7h-0.7zM262.5 70.6h0.7v0.7h-0.7zM270.8 71.2h0.7v0.7h-0.7zM256.9 63.1h0.7v0.7h-0.7zM284.2 93.4h0.7v0.7h-0.7zM281 93.8h0.7v0.7h-0.7zM270 65.3h0.7v0.7h-0.7zM265.8 71.4h0.7v0.7h-0.7zM242.4 66.6h0.7v0.7h-0.7zM251.3 55h0.7v0.7h-0.7zM250.6 72.5h0.7v0.7h-0.7zM269.2 75.9h0.7v0.7h-0.7zM273.5 58.8h0.7v0.7h-0.7zM275.8 80.1h0.7v0.7h-0.7zM273.9 55.3h0.7v0.7h-0.7zM253.9 52.4h0.7v0.7h-0.7zM267 59.6h0.7v0.7h-0.7zM266.7 73.6h0.7v0.7h-0.7zM300.9 50.3h0.7v0.7h-0.7zM245.8 52.3h0.7v0.7h-0.7zM270.7 68h0.7v0.7h-0.7zM281.6 95.8h0.7v0.7h-0.7zM279.3 73.5h0.7v0.7h-0.7zM273.2 78.2h0.7v0.7h-0.7zM280.4 65.6h0.7v0.7h-0.7zM277.4 70.4h0.7v0.7h-0.7zM249.1 50.2h0.7v0.7h-0.7zM266 52.5h0.7v0.7h-0.7zM284.4 89.7h0.7v0.7h-0.7zM251.1 49h0.7v0.7h-0.7zM277.1 71.6h0.7v0.7h-0.7zM251.5 58.8h0.7v0.7h-0.7zM254.1 61.9h0.7v0.7h-0.7zM277.3 78.8h0.7v0.7h-0.7zM266.6 68.3h0.7v0.7h-0.7zM278 66h0.7v0.7h-0.7zM285.8 85.7h0.7v0.7h-0.7zM243.2 57.3h0.7v0.7h-0.7zM276.3 79h0.7v0.7h-0.7zM264.4 69.4h0.7v0.7h-0.7zM274.3 74.2h0.7v0.7h-0.7zM276 69h0.7v0.7h-0.7zM274.7 67.9h0.7v0.7h-0.7zM290.1 76.7h0.7v0.7h-0.7zM261.6 70.4h0.7v0.7h-0.7zM289.2 90.1h0.7v0.7h-0.7zM263.5 47.4h0.7v0.7h-0.7zM268.7 59.7h0.7v0.7h-0.7zM289.7 94.5h0.7v0.7h-0.7zM282.5 75.7h0.7v0.7h-0.7zM278.4 77.2h0.7v0.7h-0.7zM263.6 68.9h0.7v0.7h-0.7z" fill="#555"/>
<path d="M252.9 80.2 254 80.2 255 80.5 255.8 81 256.5 81.8 257.1 82.8 257.3 83.8 257.4 85 257.1 86.2 255.7 89.2 254.6 90.8 253.4 92 252.2 92.8 251.2 93.2 250 93.3 249 93.1 247.5 92.2 246.3 90.5 245.9 88.5 246.2 86.5 247.2 84.5 248.8 82.6 251 80.9Z" fill="#333" fill-rule="evenodd"/>
<path d="M251.1 83.8 252.5 83.8 253.6 84.5 254.1 85.8 254.1 87.5 253.6 89.2 252.5 90.8 251.2 91.7 249.8 91.8 248.5 91.3 247.8 90.4 247.3 89.2 247.3 87.8 247.6 86.5 248.5 85.2 249.8 84.3Z" fill="#0a0a0a" fill-rule="evenodd"/>
<path d="M253.5 71.8 255.5 71.6 257.8 71.6 259.8 71.9 262 72.6 263.8 73.4 265.2 74.4 266.5 75.5 269 78.2 270.5 79.2 272.7 80 279.2 81.6 282.8 82.9 284.8 84.2 286.1 85.8 286.5 87.2 286.1 88.8 284.9 90.2 282.8 91.7 280 92.8 276.8 93.7 270.8 94.5 261 94.6 258.5 95.2 253.8 97.1 251.5 97.6 249.2 97.6 247 96.8 245.5 95.8 244.2 94.5 243.1 92.8 242.4 91 242.1 89.2 242 87.2 242.2 85 242.7 82.5 243.3 80.2 244.2 78.2 245.3 76.5 246.5 75.1 248 73.9 249.8 72.9 251.5 72.2ZM254.6 73 258.2 73.2 261.5 74.1 264.2 75.8 267.4 79.2 269 80.4 271 81.2 277.2 82.7 280.2 83.9 281.8 85 282.6 86 283 87.2 282.7 88.5 281.6 89.8 280 90.8 277.8 91.7 275 92.5 269.8 93.1 262.8 93.1 260.8 93.3 258.4 94 253.8 96.2 251.2 96.8 249 96.7 247 96 245.8 95.1 244.6 93.8 243.7 92.2 243.1 90.5 242.8 88.8 242.8 86.8 243.1 84.8 243.8 82.2 245.5 78.5 246.5 77 247.8 75.7 249.2 74.6 250.8 73.9 252.5 73.3ZM253.6 74 255.8 73.9 257.8 74.1 259.8 74.6 261.5 75.3 263.5 76.8 266.2 80 267.8 81.2 269.9 82 275.9 83.5 278.8 84.8 279.8 85.7 280.3 86.5 280.5 87.5 280.2 88.3 279.4 89.2 278 90.2 276.2 91 274 91.6 269.5 92.2 262.8 92.1 260.8 92.3 258.2 93.2 253.5 95.7 251.5 96.2 249.2 96.2 247.2 95.5 246 94.7 245 93.5 244.2 92.2 243.6 90.8 243.3 89.2 243.3 87.5 243.9 84 245.6 79.8 247.6 77 248.8 76 250.2 75 252 74.3ZM253.3 74.8 255 74.6 257 74.7 259 75.2 260.8 75.9 262.8 77.4 265.2 80.6 266.8 81.8 268.8 82.6 274.5 84.1 277 85.3 277.8 86 278.2 86.7 278.3 87.5 278 88.2 277.2 89.1 276 89.9 272.5 90.9 269 91.4 262.8 91.3 260.5 91.6 258.2 92.5 253.8 95.1 251.8 95.8 249.5 95.9 247.2 95.1 246.1 94.2 245.2 93.2 244.5 92 244 90.8 243.7 89.2 243.6 87.8 244.1 84.8 245.8 80.5 247.8 77.7 249 76.6 250.3 75.8 251.8 75.1ZM253.8 75.2 255.5 75.2 257.2 75.4 258.8 75.8 260.2 76.5 262.1 78 264.5 81.2 265.5 82.2 267.5 83.2 272.5 84.5 274.5 85.2 275.3 85.8 276 86.5 276.3 87.2 276.1 88 275.4 88.8 274.5 89.3 271.5 90.3 268 90.6 262.5 90.5 260.5 90.9 258.2 91.9 253.8 94.7 251.7 95.5 249.5 95.6 247.5 94.9 246.5 94.2 245.5 93.2 244.9 92.2 244.3 90.7 243.9 89.2 243.9 87.8 244.4 84.8 246.2 80.8 248.2 77.9 249.5 76.8 250.8 76.1 252.2 75.5ZM253.7 75.8 256.8 75.9 258.2 76.3 259.8 77 261.6 78.5 263.8 81.8 264.8 82.8 266.5 83.8 271 85 272.9 85.8 274.1 86.8 274.2 87.2 274.1 87.8 273 88.8 270.5 89.6 267.8 89.8 262.8 89.8 260.8 90.2 258.5 91.3 253.8 94.4 251.8 95.2 249.5 95.3 247.5 94.6 246.5 93.9 245.7 93 244.9 91.8 244.4 90.5 244.1 87.8 244.6 85 246.3 81.2 247.4 79.5 248.5 78.3 250.8 76.6 252.2 76ZM252.7 76.5 254.2 76.3 256 76.4 257.8 76.9 259.1 77.5 260.1 78.2 261 79.2 263 82.8 264 84 265.5 84.9 269.7 86.2 270.4 86.8 270.6 87.5 270 88 268.5 88.4 263.2 88.6 261.2 89.1 258.8 90.4 254 93.9 252 94.8 249.8 95 248.8 94.9 247.5 94.3 245.8 92.8 244.7 90.5 244.4 88 244.8 85.5 246.2 82.2 248.2 79.3 250.2 77.5ZM252.7 77.2 254.5 77.1 256.2 77.3 258 78 259.2 78.9 260.3 80.2 261 81.8 261.8 84.5 261.9 86 261.6 86.8 260.7 87.8 254 93.4 252.8 94.1 251.5 94.5 250.2 94.7 249.2 94.6 247.2 93.7 246.2 92.8 245.6 91.8 245 90.5 244.8 89.2 244.9 86.5 246 83.5 248.2 80.2 250.2 78.3 251.5 77.6ZM253.5 78 255 78 256.2 78.3 257.5 79 258.6 80 259.4 81.2 259.9 83 260.1 84.5 259.9 86 259.3 87.2 258.4 88.5 254 92.8 252.8 93.6 251.5 94.1 250.2 94.3 249 94.1 248 93.7 247 93 245.7 91.2 245.3 90 245.1 88.8 245.4 86.2 246.6 83.5 249 80.3 251.2 78.6ZM253.2 79 254.5 79 255.8 79.3 256.8 79.9 257.6 80.8 258.3 82 258.7 83.2 258.7 84.8 258.5 86 258 87.2 257 88.8 255.2 91 253.8 92.4 252.8 93.1 251.5 93.6 250.2 93.8 249 93.7 247.2 92.7 246.5 91.8 245.9 90.8 245.5 88.5 245.8 86.2 247 83.8 249 81.3 251 79.7ZM252.9 80.2 254 80.2 255 80.5 255.8 81 256.5 81.8 257.1 82.8 257.3 83.8 257.4 85 257.1 86.2 255.7 89.2 254.6 90.8 253.4 92 252.2 92.8 251.2 93.2 250 93.3 249 93.1 247.5 92.2 246.3 90.5 245.9 88.5 246.2 86.5 247.2 84.5 248.8 82.6 251 80.9ZM251.7 82 253.5 81.9 254.2 82.1 255 82.7 255.5 83.5 255.8 84.5 255.7 86.5 254.8 89 253.2 91.2 251.5 92.4 250.5 92.7 249.5 92.6 248.1 92 247.1 90.8 246.5 89 246.6 87.2 247.1 85.8 248.2 84.2 249.8 82.9ZM251.3 83.2 252.8 83.2 253.5 83.6 254 84 254.6 85.5 254.6 87.2 253.9 89.2 252.8 90.9 251.2 91.9 249.8 92.1 248.5 91.6 247.5 90.5 247 89 247.1 87.5 247.6 86 248.5 84.8 249.8 83.8ZM250.4 84.5 251.8 84.4 252.8 84.8 253.4 85.8 253.7 87.2 253.4 88.8 252.5 90.3 251.2 91.3 250 91.5 249 91.2 248.2 90.5 247.7 89.5 247.5 88.2 247.8 87 248.3 86 249.2 85.1ZM250.2 85.5 251.2 85.4 252 85.8 252.6 86.5 252.8 87.5 252.6 88.8 252.1 89.8 251.3 90.5 250.2 90.8 249.5 90.6 248.8 90.1 248.3 89.2 248.1 88.5 248.3 87.5 248.8 86.6 249.5 85.8ZM250.2 86.5 250.8 86.4 251.4 86.8 251.8 87.2 251.9 88 251.5 89.2 250.9 89.8 250.2 90 249.8 89.9 249.2 89.5 248.9 88.5 249.2 87.2Z" fill="none" stroke="#1a1a1a" stroke-width="0.55" stroke-linejoin="round"/>
<ellipse cx="251" cy="87.8" rx="1.2" ry="0.7" fill="#fff" transform="rotate(-35 251 87.8)"/>
<path d="M129.2 189.8h0.7v0.7h-0.7zM153.9 206.3h0.7v0.7h-0.7zM135.1 183.1h0.7v0.7h-0.7zM156.4 207.8h0.7v0.7h-0.7zM156.5 194.2h0.7v0.7h-0.7zM142 196.9h0.7v0.7h-0.7zM161.4 221.5h0.7v0.7h-0.7zM158.6 203h0.7v0.7h-0.7zM151.3 201.1h0.7v0.7h-0.7zM149.5 198.5h0.7v0.7h-0.7zM137.7 176.8h0.7v0.7h-0.7zM177.5 219h0.7v0.7h-0.7zM160 173.9h0.7v0.7h-0.7zM125.5 194.6h0.7v0.7h-0.7zM180.6 218.8h0.7v0.7h-0.7zM167.6 186.7h0.7v0.7h-0.7zM156.3 184.7h0.7v0.7h-0.7zM157.8 202.4h0.7v0.7h-0.7zM160.1 205.4h0.7v0.7h-0.7zM134.8 189.2h0.7v0.7h-0.7zM133.3 185.1h0.7v0.7h-0.7zM161.8 207.2h0.7v0.7h-0.7zM149.3 203.8h0.7v0.7h-0.7zM153.4 203.8h0.7v0.7h-0.7zM143.4 193.1h0.7v0.7h-0.7zM148.4 201.9h0.7v0.7h-0.7zM163.6 197h0.7v0.7h-0.7zM129 194.3h0.7v0.7h-0.7zM151.2 196.8h0.7v0.7h-0.7zM131.5 184.2h0.7v0.7h-0.7zM161.9 193.2h0.7v0.7h-0.7zM163.4 215h0.7v0.7h-0.7zM174.7 211.2h0.7v0.7h-0.7zM128.3 195.1h0.7v0.7h-0.7zM174.2 211.4h0.7v0.7h-0.7zM191.4 207.6h0.7v0.7h-0.7zM180.9 224.2h0.7v0.7h-0.7zM136.6 182.1h0.7v0.7h-0.7zM152.9 193.7h0.7v0.7h-0.7zM156.5 192.2h0.7v0.7h-0.7zM165.5 222h0.7v0.7h-0.7zM148.9 187.1h0.7v0.7h-0.7zM132.8 167.6h0.7v0.7h-0.7zM178.5 219.4h0.7v0.7h-0.7zM124.4 184.4h0.7v0.7h-0.7zM128.1 176.5h0.7v0.7h-0.7zM132.4 175.8h0.7v0.7h-0.7zM157.7 195.1h0.7v0.7h-0.7zM157.9 199.7h0.7v0.7h-0.7zM156.8 196.2h0.7v0.7h-0.7zM146 191.9h0.7v0.7h-0.7zM134.9 197.2h0.7v0.7h-0.7zM167 209h0.7v0.7h-0.7zM170.2 217.2h0.7v0.7h-0.7zM153.1 199.8h0.7v0.7h-0.7zM139.3 197.3h0.7v0.7h-0.7zM155.3 203.6h0.7v0.7h-0.7zM160.9 202.2h0.7v0.7h-0.7zM130.8 200.4h0.7v0.7h-0.7zM130.1 181.4h0.7v0.7h-0.7zM129.7 159.5h0.7v0.7h-0.7zM175.8 213.2h0.7v0.7h-0.7zM162.9 215h0.7v0.7h-0.7zM155.8 199.5h0.7v0.7h-0.7zM168.1 211.3h0.7v0.7h-0.7zM131.6 165.8h0.7v0.7h-0.7zM164.5 208.8h0.7v0.7h-0.7zM134.6 192.7h0.7v0.7h-0.7zM163.1 206h0.7v0.7h-0.7zM176.7 222.4h0.7v0.7h-0.7zM156.3 222.2h0.7v0.7h-0.7zM154.1 206.7h0.7v0.7h-0.7zM172.2 213h0.7v0.7h-0.7zM164 199.9h0.7v0.7h-0.7zM171.1 216.6h0.7v0.7h-0.7zM122.8 155.2h0.7v0.7h-0.7zM144 192.2h0.7v0.7h-0.7zM167.6 217h0.7v0.7h-0.7zM170.6 220.4h0.7v0.7h-0.7zM121.5 181.1h0.7v0.7h-0.7zM127.9 169h0.7v0.7h-0.7zM145.6 199.1h0.7v0.7h-0.7zM159.9 199.7h0.7v0.7h-0.7zM163.7 226.1h0.7v0.7h-0.7zM141.6 188.2h0.7v0.7h-0.7zM164.2 210h0.7v0.7h-0.7zM165.7 201.4h0.7v0.7h-0.7zM158 194.5h0.7v0.7h-0.7zM148.7 185.1h0.7v0.7h-0.7zM131.5 194.3h0.7v0.7h-0.7zM155 199.8h0.7v0.7h-0.7zM157.5 200.6h0.7v0.7h-0.7zM176.1 212.4h0.7v0.7h-0.7zM124.1 195.1h0.7v0.7h-0.7zM125 181.1h0.7v0.7h-0.7zM149.2 196.6h0.7v0.7h-0.7zM119.4 196.5h0.7v0.7h-0.7zM188.7 218.1h0.7v0.7h-0.7zM161.8 210.6h0.7v0.7h-0.7zM176.6 201.1h0.7v0.7h-0.7zM150.7 198.7h0.7v0.7h-0.7zM154.5 201.1h0.7v0.7h-0.7zM173.9 216.3h0.7v0.7h-0.7zM160.5 184.6h0.7v0.7h-0.7zM156.7 206.3h0.7v0.7h-0.7zM158.6 180.6h0.7v0.7h-0.7zM174.6 206.3h0.7v0.7h-0.7zM128.3 191.6h0.7v0.7h-0.7zM131.9 188.3h0.7v0.7h-0.7zM132.9 177.5h0.7v0.7h-0.7zM120.8 185.9h0.7v0.7h-0.7zM134.2 171.3h0.7v0.7h-0.7zM154.3 200.5h0.7v0.7h-0.7zM165.8 210.2h0.7v0.7h-0.7zM178.6 219.7h0.7v0.7h-0.7zM163.2 207.9h0.7v0.7h-0.7zM172.8 211.1h0.7v0.7h-0.7zM154 203.8h0.7v0.7h-0.7zM152.6 195.6h0.7v0.7h-0.7zM130.1 172.6h0.7v0.7h-0.7zM165.6 219.7h0.7v0.7h-0.7zM170 190.1h0.7v0.7h-0.7zM166.6 199.5h0.7v0.7h-0.7zM175.5 207h0.7v0.7h-0.7zM165 186h0.7v0.7h-0.7zM163.4 216.6h0.7v0.7h-0.7zM155.6 225.6h0.7v0.7h-0.7zM130.7 194.4h0.7v0.7h-0.7zM134.6 191.1h0.7v0.7h-0.7zM132.5 170.2h0.7v0.7h-0.7zM169.6 210.5h0.7v0.7h-0.7zM154.8 207.1h0.7v0.7h-0.7zM170.8 206.9h0.7v0.7h-0.7zM139.1 190.3h0.7v0.7h-0.7zM172.8 210.6h0.7v0.7h-0.7zM168.9 216.3h0.7v0.7h-0.7zM132.2 185.3h0.7v0.7h-0.7zM156.6 184.4h0.7v0.7h-0.7zM179.3 208.1h0.7v0.7h-0.7zM157.2 200.5h0.7v0.7h-0.7zM156.1 198.5h0.7v0.7h-0.7zM162.4 205.5h0.7v0.7h-0.7zM148.9 200.4h0.7v0.7h-0.7zM165 219.4h0.7v0.7h-0.7zM152.4 188.9h0.7v0.7h-0.7zM157.1 198.3h0.7v0.7h-0.7zM168.9 219.4h0.7v0.7h-0.7zM161.2 212h0.7v0.7h-0.7zM137 189.2h0.7v0.7h-0.7zM162.2 205.7h0.7v0.7h-0.7zM154.4 206.4h0.7v0.7h-0.7zM162.5 209.2h0.7v0.7h-0.7zM159.4 199.9h0.7v0.7h-0.7zM127 195h0.7v0.7h-0.7zM160.6 207h0.7v0.7h-0.7zM162.5 217.3h0.7v0.7h-0.7zM151 193.1h0.7v0.7h-0.7zM153.8 207.2h0.7v0.7h-0.7zM130.5 182.4h0.7v0.7h-0.7zM130.8 175.8h0.7v0.7h-0.7zM171.8 218.1h0.7v0.7h-0.7zM183 220.4h0.7v0.7h-0.7zM165.4 188.2h0.7v0.7h-0.7zM127.7 197.4h0.7v0.7h-0.7zM167.4 196.7h0.7v0.7h-0.7zM151.8 201.5h0.7v0.7h-0.7zM167.2 211.6h0.7v0.7h-0.7zM191.6 217.6h0.7v0.7h-0.7zM148 195.2h0.7v0.7h-0.7zM124.8 200.5h0.7v0.7h-0.7zM150.5 202.1h0.7v0.7h-0.7zM184.6 228h0.7v0.7h-0.7zM167 209h0.7v0.7h-0.7zM153.8 199.8h0.7v0.7h-0.7zM162.7 204.3h0.7v0.7h-0.7zM171.1 223h0.7v0.7h-0.7zM169.2 209.3h0.7v0.7h-0.7zM164.6 215.8h0.7v0.7h-0.7zM165.1 189.3h0.7v0.7h-0.7zM127.7 180.6h0.7v0.7h-0.7zM164.1 196.8h0.7v0.7h-0.7zM150.2 204.6h0.7v0.7h-0.7zM132.8 172.6h0.7v0.7h-0.7zM138.4 176h0.7v0.7h-0.7zM125.9 171h0.7v0.7h-0.7zM159.9 197.9h0.7v0.7h-0.7zM178.5 218.8h0.7v0.7h-0.7zM126 176.5h0.7v0.7h-0.7zM159.9 217.3h0.7v0.7h-0.7zM173.8 217.4h0.7v0.7h-0.7zM134.3 172.8h0.7v0.7h-0.7zM137.8 198.4h0.7v0.7h-0.7zM165.9 204.7h0.7v0.7h-0.7zM136 174.9h0.7v0.7h-0.7zM127.3 166.1h0.7v0.7h-0.7zM133.3 184.3h0.7v0.7h-0.7zM149.4 197.1h0.7v0.7h-0.7zM161.5 197h0.7v0.7h-0.7zM173.4 208.7h0.7v0.7h-0.7zM136.1 195.8h0.7v0.7h-0.7zM135.1 185.2h0.7v0.7h-0.7zM175.5 179.1h0.7v0.7h-0.7zM167.4 203.9h0.7v0.7h-0.7zM179.9 217.7h0.7v0.7h-0.7zM170.2 203.8h0.7v0.7h-0.7zM145.9 181.1h0.7v0.7h-0.7zM145.1 192.8h0.7v0.7h-0.7zM162.7 181.7h0.7v0.7h-0.7zM131.4 176.1h0.7v0.7h-0.7zM174.5 192.5h0.7v0.7h-0.7zM153.9 197.2h0.7v0.7h-0.7zM133.9 194.6h0.7v0.7h-0.7zM158 219.5h0.7v0.7h-0.7zM132.5 174.6h0.7v0.7h-0.7zM150.4 182.7h0.7v0.7h-0.7zM148.2 195.1h0.7v0.7h-0.7zM155.7 194.3h0.7v0.7h-0.7zM140.7 161.9h0.7v0.7h-0.7zM149.9 200.3h0.7v0.7h-0.7zM149.3 198.7h0.7v0.7h-0.7zM130.3 198.1h0.7v0.7h-0.7zM129.7 183.3h0.7v0.7h-0.7zM168 218.4h0.7v0.7h-0.7zM149.9 201.2h0.7v0.7h-0.7zM149.6 193h0.7v0.7h-0.7zM155.4 201.7h0.7v0.7h-0.7zM169.7 215.1h0.7v0.7h-0.7zM126.7 188.1h0.7v0.7h-0.7zM166.2 198.2h0.7v0.7h-0.7zM175.5 207.2h0.7v0.7h-0.7zM150.6 195.8h0.7v0.7h-0.7zM181.9 181.4h0.7v0.7h-0.7zM149.3 189.2h0.7v0.7h-0.7zM142.9 199.7h0.7v0.7h-0.7zM155.3 200.6h0.7v0.7h-0.7zM150.9 203.1h0.7v0.7h-0.7zM137.7 198.2h0.7v0.7h-0.7zM134 189h0.7v0.7h-0.7zM126.5 183.3h0.7v0.7h-0.7zM133.1 179.8h0.7v0.7h-0.7zM150.8 194.2h0.7v0.7h-0.7zM162.3 215.1h0.7v0.7h-0.7zM156.1 193.2h0.7v0.7h-0.7zM165.5 207.4h0.7v0.7h-0.7zM130.9 186.6h0.7v0.7h-0.7zM132.6 199.2h0.7v0.7h-0.7zM131.9 198.3h0.7v0.7h-0.7zM150.8 194.9h0.7v0.7h-0.7zM148.2 201.4h0.7v0.7h-0.7zM154.5 222.8h0.7v0.7h-0.7zM134.2 193h0.7v0.7h-0.7zM125.6 186.5h0.7v0.7h-0.7zM163.2 210.8h0.7v0.7h-0.7zM130.3 193.6h0.7v0.7h-0.7zM130.2 185.1h0.7v0.7h-0.7zM165.2 202.5h0.7v0.7h-0.7zM161.9 185.1h0.7v0.7h-0.7zM128.2 204h0.7v0.7h-0.7zM141.1 193.6h0.7v0.7h-0.7zM167.1 216.3h0.7v0.7h-0.7zM179.6 171.1h0.7v0.7h-0.7zM171.3 220.9h0.7v0.7h-0.7zM141 195.5h0.7v0.7h-0.7zM127.4 164.5h0.7v0.7h-0.7zM165 209.1h0.7v0.7h-0.7zM174.5 188.4h0.7v0.7h-0.7zM171.2 189.7h0.7v0.7h-0.7zM130.1 179.1h0.7v0.7h-0.7zM132.9 193.4h0.7v0.7h-0.7zM140.9 180.2h0.7v0.7h-0.7zM149.1 199.3h0.7v0.7h-0.7zM146.2 197.8h0.7v0.7h-0.7zM143.5 198h0.7v0.7h-0.7zM160.8 213.5h0.7v0.7h-0.7zM153 199.2h0.7v0.7h-0.7zM154.3 202.8h0.7v0.7h-0.7zM170.7 209.5h0.7v0.7h-0.7zM176.4 213.7h0.7v0.7h-0.7zM161.7 204.9h0.7v0.7h-0.7zM169.1 209.6h0.7v0.7h-0.7zM161.2 199.6h0.7v0.7h-0.7zM122.8 189.5h0.7v0.7h-0.7zM168.2 211h0.7v0.7h-0.7zM165.3 203h0.7v0.7h-0.7zM145.3 185.5h0.7v0.7h-0.7zM127.4 161.6h0.7v0.7h-0.7zM153.5 200.4h0.7v0.7h-0.7zM136.6 189.6h0.7v0.7h-0.7zM162.3 219.4h0.7v0.7h-0.7zM158.9 210h0.7v0.7h-0.7zM133.6 172.1h0.7v0.7h-0.7zM150 200.4h0.7v0.7h-0.7zM165.2 221.6h0.7v0.7h-0.7zM175.7 205.2h0.7v0.7h-0.7zM130.2 155.8h0.7v0.7h-0.7zM166.8 216.3h0.7v0.7h-0.7zM165.9 184.1h0.7v0.7h-0.7zM159 202.2h0.7v0.7h-0.7zM174.9 211.9h0.7v0.7h-0.7zM162.4 209.3h0.7v0.7h-0.7zM166.7 213.3h0.7v0.7h-0.7zM149.7 202.8h0.7v0.7h-0.7zM126.9 189.4h0.7v0.7h-0.7zM172 212.3h0.7v0.7h-0.7zM137.3 193.2h0.7v0.7h-0.7zM153.5 222.3h0.7v0.7h-0.7zM166.9 210.5h0.7v0.7h-0.7zM151.2 180.7h0.7v0.7h-0.7zM132.4 186.3h0.7v0.7h-0.7zM127.7 186.8h0.7v0.7h-0.7zM166.4 191.8h0.7v0.7h-0.7zM126.8 157.5h0.7v0.7h-0.7zM165.7 218.7h0.7v0.7h-0.7zM130.7 179.4h0.7v0.7h-0.7zM128.5 194.3h0.7v0.7h-0.7zM149.6 200.9h0.7v0.7h-0.7zM142.2 195.7h0.7v0.7h-0.7zM132.8 171.9h0.7v0.7h-0.7zM139.9 197.7h0.7v0.7h-0.7zM178.8 218.8h0.7v0.7h-0.7zM174.6 188.9h0.7v0.7h-0.7zM147.5 190.3h0.7v0.7h-0.7zM152.6 205.1h0.7v0.7h-0.7zM167.1 189.9h0.7v0.7h-0.7zM148.4 200.8h0.7v0.7h-0.7zM167.4 209.3h0.7v0.7h-0.7zM153.9 201.1h0.7v0.7h-0.7zM143.8 198.2h0.7v0.7h-0.7zM169.1 197.6h0.7v0.7h-0.7zM157.8 217.9h0.7v0.7h-0.7zM138.4 182.9h0.7v0.7h-0.7zM154.9 200.7h0.7v0.7h-0.7zM147 222.1h0.7v0.7h-0.7zM162.6 204.3h0.7v0.7h-0.7zM158.1 208.9h0.7v0.7h-0.7zM153.3 205.4h0.7v0.7h-0.7zM132.7 166.4h0.7v0.7h-0.7zM134.7 181h0.7v0.7h-0.7zM157.1 178.1h0.7v0.7h-0.7zM129.1 175.6h0.7v0.7h-0.7zM167.7 212.2h0.7v0.7h-0.7zM162.4 207.6h0.7v0.7h-0.7zM126.4 176.9h0.7v0.7h-0.7zM127.7 196.8h0.7v0.7h-0.7zM123.7 179.4h0.7v0.7h-0.7zM168.8 203.8h0.7v0.7h-0.7zM151.1 194.1h0.7v0.7h-0.7zM165.5 206.4h0.7v0.7h-0.7zM178.1 212.7h0.7v0.7h-0.7zM126.5 199h0.7v0.7h-0.7zM166.3 217h0.7v0.7h-0.7zM163.3 180h0.7v0.7h-0.7zM135.9 185.2h0.7v0.7h-0.7zM153.8 195.3h0.7v0.7h-0.7zM166.1 203.5h0.7v0.7h-0.7zM169.6 212.6h0.7v0.7h-0.7zM157.3 203.6h0.7v0.7h-0.7zM173.7 207.2h0.7v0.7h-0.7zM136.2 181.4h0.7v0.7h-0.7zM150.8 198h0.7v0.7h-0.7zM138.9 196.2h0.7v0.7h-0.7zM157 202.5h0.7v0.7h-0.7zM181.1 214.5h0.7v0.7h-0.7zM166.6 200.4h0.7v0.7h-0.7zM175.5 199.8h0.7v0.7h-0.7zM139.8 181.3h0.7v0.7h-0.7zM139.4 180.1h0.7v0.7h-0.7zM169.3 206.8h0.7v0.7h-0.7zM177.2 195.6h0.7v0.7h-0.7zM165.9 215.9h0.7v0.7h-0.7zM147.6 194.2h0.7v0.7h-0.7zM147.8 182.2h0.7v0.7h-0.7zM132.9 184.6h0.7v0.7h-0.7zM185.7 196.1h0.7v0.7h-0.7zM125.9 177.2h0.7v0.7h-0.7zM122.7 203.7h0.7v0.7h-0.7zM135 169.7h0.7v0.7h-0.7zM154 202.7h0.7v0.7h-0.7zM143.1 195.5h0.7v0.7h-0.7zM127.9 170.4h0.7v0.7h-0.7zM137.7 172.9h0.7v0.7h-0.7zM170.6 208.2h0.7v0.7h-0.7zM169 215.7h0.7v0.7h-0.7zM166.9 196.2h0.7v0.7h-0.7zM127.4 176h0.7v0.7h-0.7zM173.8 224.1h0.7v0.7h-0.7zM164.5 208h0.7v0.7h-0.7zM177.1 218.1h0.7v0.7h-0.7zM131.7 171.4h0.7v0.7h-0.7zM137 171.1h0.7v0.7h-0.7zM166.1 199.9h0.7v0.7h-0.7zM158.8 192.8h0.7v0.7h-0.7zM136.2 164.3h0.7v0.7h-0.7zM158.2 195.5h0.7v0.7h-0.7zM163.1 193.5h0.7v0.7h-0.7zM148.9 194.6h0.7v0.7h-0.7zM143.6 193h0.7v0.7h-0.7zM150.1 195.2h0.7v0.7h-0.7zM143.5 164.8h0.7v0.7h-0.7zM135.7 197.9h0.7v0.7h-0.7zM122.1 162.5h0.7v0.7h-0.7zM173.1 216.1h0.7v0.7h-0.7zM165.1 212.7h0.7v0.7h-0.7zM130.1 171.2h0.7v0.7h-0.7zM127.4 189.1h0.7v0.7h-0.7zM163.9 200.1h0.7v0.7h-0.7zM177.2 198.7h0.7v0.7h-0.7zM168.5 180.5h0.7v0.7h-0.7zM155.9 185.6h0.7v0.7h-0.7zM164.3 213.5h0.7v0.7h-0.7zM153.5 201.6h0.7v0.7h-0.7zM133.8 178.4h0.7v0.7h-0.7zM179.6 218.8h0.7v0.7h-0.7zM128.1 195.5h0.7v0.7h-0.7zM161.5 211.8h0.7v0.7h-0.7zM147.6 198.2h0.7v0.7h-0.7zM129.8 177.2h0.7v0.7h-0.7zM129.3 163.2h0.7v0.7h-0.7zM155 195.1h0.7v0.7h-0.7zM171.2 219.5h0.7v0.7h-0.7zM159.6 207.3h0.7v0.7h-0.7zM129.1 182.8h0.7v0.7h-0.7zM156.4 224.7h0.7v0.7h-0.7zM147.4 185.7h0.7v0.7h-0.7zM162.3 200.7h0.7v0.7h-0.7zM163.1 207.3h0.7v0.7h-0.7zM155.2 203.7h0.7v0.7h-0.7z" fill="#555"/>
<path d="M135.2 207.5 136.5 207.4 137.5 207.6 138.3 208 139.2 208.8 139.8 209.8 140.1 210.8 140.3 212 140.1 213.2 139.7 214.5 138.8 216 137.5 217.8 136.2 219.1 134.2 220.3 133 220.5 132 220.4 130.3 219.5 129.2 218 128.7 216 128.8 214 129.7 212 131.2 210 133.2 208.4Z" fill="#333" fill-rule="evenodd"/>
<path d="M133.6 211 135 210.9 136.2 211.6 136.8 212.8 136.9 214.5 136.3 216.5 135.2 218 134 218.8 132.5 219 131.2 218.5 130.5 217.7 130 216.5 130 215 130.5 213.5 131.2 212.4 132.2 211.6Z" fill="#0a0a0a" fill-rule="evenodd"/>
<path d="M135.9 199 139.2 198.8 142.5 199.1 145.5 200.1 148 201.6 149.5 203 152.8 206.7 157.7 210 159.6 211.8 160.3 213 160.6 214.5 160.3 216 159.5 217.2 158.6 218.2 157.2 219.2 153.8 220.7 150 221.5 142.6 222.2 135.2 224.7 133.2 224.9 131.5 224.7 130 224.2 128.5 223.3 127.2 222 126.1 220.5 125.4 218.8 124.9 217 124.8 215 124.9 213 125.9 208 126.6 206 127.4 204.5 129.5 202 132.2 200.2 134 199.5ZM136.7 200.2 139.5 200.2 142.2 200.6 144.8 201.6 146.8 202.8 148 204 151 207.6 155.6 210.8 157.1 212.2 157.7 213.2 158 214.5 157.7 215.8 157.1 216.8 155.2 218.3 152.5 219.5 149.5 220.2 144.2 220.7 142.4 221 140.2 221.7 136.5 223.4 134.8 223.9 133 224 131.5 223.9 130 223.3 128.8 222.5 127.7 221.5 126.7 220 126.1 218.5 125.6 216.8 125.5 215 125.7 213 126.9 208.5 128.4 205.2 130.5 202.9 131.8 201.9 133.2 201.1 135 200.6ZM136 201.2 138.5 201.1 141 201.4 143.5 202.2 145.5 203.4 147 204.8 149.9 208.2 154.1 211.2 155.4 212.5 155.9 213.5 156.1 214.5 155.9 215.5 155.4 216.2 154 217.6 151.8 218.6 149 219.3 144.2 219.7 142.2 220.2 140 221 136.2 222.8 134.8 223.3 133.2 223.5 131.8 223.4 130.2 222.9 129 222.1 127.9 221 127.1 219.8 126.1 217 126.1 214 126.9 210.5 128.4 206.8 130.2 204.2 131.5 203.1 132.8 202.3 134.2 201.7ZM135.7 202 138 201.8 140.5 202.1 142.8 202.8 144.8 204 146.1 205.2 148.9 208.8 152.6 211.5 153.9 212.8 154.3 213.5 154.5 214.5 154.4 215.2 153.9 216 152.8 217.1 151 217.9 148.7 218.5 144.2 219 142.2 219.4 140.2 220.3 136.2 222.4 134.8 222.9 133.2 223.1 132 223.1 130.5 222.6 129.2 221.8 127.6 220 126.9 218.5 126.5 217.2 126.4 214.5 127.1 211.2 128.7 207.5 130.5 204.9 132.8 203.1 134.2 202.4ZM136.1 202.5 138.2 202.4 140.2 202.7 142.2 203.4 144.1 204.5 145.4 205.8 148 209.2 151.5 211.9 152.5 212.9 153.1 214.2 153 215 152.6 215.8 151.3 216.8 149.5 217.5 144 218.4 141.8 219 140 219.9 136.5 221.9 134.5 222.7 133 222.8 131.8 222.7 130.5 222.3 129.2 221.5 127.6 219.5 126.8 217 126.7 214.2 127.4 211.2 129.2 207.5 131 205.1 133.2 203.4 134.5 202.9ZM136 203 137.8 202.9 139.8 203.1 141.6 203.8 143.2 204.7 144.6 206 147.2 209.6 150.9 212.8 151.6 213.8 151.6 214.8 150.9 215.8 149.8 216.5 148.2 217 144.2 217.7 142.2 218.3 140.2 219.2 136.8 221.4 135.2 222.1 133.5 222.5 131.8 222.4 130.5 222 129.4 221.2 128.4 220.2 127.6 219 127.2 217.8 126.9 216.2 127.1 213.2 127.6 211.5 128.6 209.2 130.8 206 132 204.8 133.2 203.9 134.5 203.4ZM136.8 203.5 138.5 203.6 140 203.9 141.5 204.5 142.9 205.5 144 206.8 146.2 210.2 149.1 213 149.6 213.8 149.6 214.5 149.1 215.2 148 215.9 143.8 217 141.5 218 135.5 221.7 133.5 222.2 131.5 222.1 130.2 221.5 129.2 220.8 128.4 219.8 127.7 218.5 127.3 217.2 127.1 215.8 127.5 212.8 128.1 211 129.2 209 130.3 207.2 131.5 205.9 132.8 204.8 134 204.2 135.5 203.7ZM135.2 204.5 137 204.3 138.8 204.4 140.5 205.1 141.9 206 142.8 207 143.6 208.2 145.8 212.8 146 213.8 145.3 214.8 140.8 217.5 136.2 220.9 134 221.8 132 221.8 130 220.9 129 220 128.3 219 127.5 216.7 127.6 214 128.6 211 130.8 207.6 132.8 205.7 134 204.9ZM135.7 205.2 137.2 205.2 138.8 205.5 140 206 141.2 207 142.1 208.2 142.9 210 143.3 212 143.3 213.2 142.8 214.2 141.8 215.5 136.5 220.2 135.2 220.9 134 221.4 132.8 221.5 131.8 221.3 130.8 220.9 129.8 220.2 128.5 218.5 128 217.2 127.8 216 128.1 213.5 129.3 210.8 131.5 207.7 133.5 206.1ZM135.5 206.2 136.8 206.1 138 206.4 139.2 206.9 140.2 207.8 141.1 209 141.6 210.5 141.8 212 141.6 213.2 141.1 214.5 140.2 215.8 137.7 218.5 136.3 219.8 135.2 220.4 134 220.9 132.8 221 131.8 220.9 130 219.9 128.8 218.2 128.2 216 128.4 213.8 129.4 211.5 131.2 209 133.5 207.1ZM135.2 207.5 136.5 207.4 137.5 207.6 138.3 208 139.2 208.8 139.8 209.8 140.1 210.8 140.3 212 140.1 213.2 139.7 214.5 138.8 216 137.5 217.8 136.2 219.1 134.2 220.3 133 220.5 132 220.4 130.3 219.5 129.2 218 128.7 216 128.8 214 129.7 212 131.2 210 133.2 208.4ZM135.5 209 137 209.3 137.8 209.9 138.2 210.6 138.7 212.5 138.3 214.5 137.1 217 135.5 218.9 133.8 219.8 132.8 219.9 131.8 219.7 130.4 218.8 129.5 217.2 129.2 215.5 129.5 213.8 130.5 212 131.8 210.7 133.8 209.4ZM133.7 210.5 135.2 210.4 136.6 211 137.3 212.2 137.4 214.2 136.8 216.2 135.6 218 134 219.1 132.5 219.3 131.2 218.8 130.3 217.8 129.8 216.5 129.7 215 130.2 213.5 131 212.3 132.2 211.2ZM133 211.8 134.2 211.5 135.5 212 136.2 213 136.4 214.5 136.1 216 135.2 217.5 134 218.4 132.8 218.7 131.8 218.4 131 217.8 130.4 216.8 130.2 215.5 130.5 214.2 131 213.2 132 212.3ZM132.8 212.8 133.8 212.6 134.8 213 135.3 213.8 135.5 214.8 135.3 216 134.8 217 134 217.7 133 218 132.2 217.9 131.5 217.4 131 216.5 130.9 215.8 131 214.8 131.3 214 132 213.2ZM132.7 213.8 133.5 213.6 134 213.8 134.4 214.2 134.6 215 134.5 215.8 134.1 216.5 133.6 217 133 217.2 132 216.8 131.6 215.8 131.9 214.5Z" fill="none" stroke="#1a1a1a" stroke-width="0.55" stroke-linejoin="round"/>
<ellipse cx="136" cy="213.7" rx="1.2" ry="0.7" fill="#fff" transform="rotate(-35 136 213.7)"/>
<path d="M269.1 186.6h0.7v0.7h-0.7zM277.7 190.3h0.7v0.7h-0.7zM256.9 201h0.7v0.7h-0.7zM287.5 213.4h0.7v0.7h-0.7zM299.9 213.4h0.7v0.7h-0.7zM263.2 197.3h0.7v0.7h-0.7zM272.5 204.1h0.7v0.7h-0.7zM258.2 206.2h0.7v0.7h-0.7zM277.3 195h0.7v0.7h-0.7zM268.7 205.5h0.7v0.7h-0.7zM264.7 202.7h0.7v0.7h-0.7zM278.6 183.8h0.7v0.7h-0.7zM274.8 196.4h0.7v0.7h-0.7zM294.6 217.9h0.7v0.7h-0.7zM302.7 191h0.7v0.7h-0.7zM271.8 205.3h0.7v0.7h-0.7zM299.6 190.8h0.7v0.7h-0.7zM308 214.8h0.7v0.7h-0.7zM272.6 208.8h0.7v0.7h-0.7zM274.5 189.1h0.7v0.7h-0.7zM277.2 178.2h0.7v0.7h-0.7zM263.8 207.3h0.7v0.7h-0.7zM273.5 200.9h0.7v0.7h-0.7zM263.8 202.9h0.7v0.7h-0.7zM271.5 208.5h0.7v0.7h-0.7zM298.9 221.7h0.7v0.7h-0.7zM267.6 204.1h0.7v0.7h-0.7zM296.2 215.9h0.7v0.7h-0.7zM273.7 208.6h0.7v0.7h-0.7zM267.3 193.4h0.7v0.7h-0.7zM268 191h0.7v0.7h-0.7zM278.1 185.6h0.7v0.7h-0.7zM268.4 184.4h0.7v0.7h-0.7zM272.4 196.8h0.7v0.7h-0.7zM290.2 218.1h0.7v0.7h-0.7zM287.6 187.7h0.7v0.7h-0.7zM302.6 208.6h0.7v0.7h-0.7zM264.4 207.7h0.7v0.7h-0.7zM272.2 197.9h0.7v0.7h-0.7zM262.8 192.2h0.7v0.7h-0.7zM263.3 197.1h0.7v0.7h-0.7zM269.4 199.6h0.7v0.7h-0.7zM276.1 206.5h0.7v0.7h-0.7zM260.6 202h0.7v0.7h-0.7zM287.7 193.3h0.7v0.7h-0.7zM297 214h0.7v0.7h-0.7zM299.3 210.7h0.7v0.7h-0.7zM256.9 198.7h0.7v0.7h-0.7zM271.3 202.5h0.7v0.7h-0.7zM271.1 204.4h0.7v0.7h-0.7zM266.2 207.1h0.7v0.7h-0.7zM269.4 186.3h0.7v0.7h-0.7zM269.3 208.7h0.7v0.7h-0.7zM259.3 185.9h0.7v0.7h-0.7zM295.8 214.2h0.7v0.7h-0.7zM267.6 202.9h0.7v0.7h-0.7zM277 204.8h0.7v0.7h-0.7zM261 182.6h0.7v0.7h-0.7zM260 206.4h0.7v0.7h-0.7zM288.6 220.6h0.7v0.7h-0.7zM290.1 217.7h0.7v0.7h-0.7zM267.4 204.6h0.7v0.7h-0.7zM290 196.9h0.7v0.7h-0.7zM270.1 201.6h0.7v0.7h-0.7zM267.1 188h0.7v0.7h-0.7zM262.5 208.6h0.7v0.7h-0.7zM262 197.6h0.7v0.7h-0.7zM290.2 212.4h0.7v0.7h-0.7zM300.2 213.3h0.7v0.7h-0.7zM299.4 184.5h0.7v0.7h-0.7zM270 182.6h0.7v0.7h-0.7zM273.4 179.9h0.7v0.7h-0.7zM272.5 208.7h0.7v0.7h-0.7zM290.4 216.3h0.7v0.7h-0.7zM307.4 173.2h0.7v0.7h-0.7zM282.2 192h0.7v0.7h-0.7zM266.6 205.6h0.7v0.7h-0.7zM266.1 205h0.7v0.7h-0.7zM260.6 201.4h0.7v0.7h-0.7zM267.9 204.6h0.7v0.7h-0.7zM258.3 200.4h0.7v0.7h-0.7zM266.3 206h0.7v0.7h-0.7zM265.9 195.7h0.7v0.7h-0.7zM257 185.1h0.7v0.7h-0.7zM271.9 175.6h0.7v0.7h-0.7zM262.9 181h0.7v0.7h-0.7zM269 196.8h0.7v0.7h-0.7zM290.8 215.4h0.7v0.7h-0.7zM257.8 194.2h0.7v0.7h-0.7zM268 207.9h0.7v0.7h-0.7zM296.2 211h0.7v0.7h-0.7zM266.8 207.1h0.7v0.7h-0.7zM263 198.9h0.7v0.7h-0.7zM277.1 192.1h0.7v0.7h-0.7zM288.8 191.4h0.7v0.7h-0.7zM289.5 213.7h0.7v0.7h-0.7zM258.6 204.8h0.7v0.7h-0.7zM268 188.5h0.7v0.7h-0.7zM278.9 182.4h0.7v0.7h-0.7zM291.2 176.5h0.7v0.7h-0.7zM267.6 205.5h0.7v0.7h-0.7zM290.2 213.6h0.7v0.7h-0.7zM274.2 173h0.7v0.7h-0.7zM271.4 201.5h0.7v0.7h-0.7zM265.5 193.7h0.7v0.7h-0.7zM265.3 176.3h0.7v0.7h-0.7zM280.7 211.1h0.7v0.7h-0.7zM295 196.9h0.7v0.7h-0.7zM264.1 199.5h0.7v0.7h-0.7zM304.4 162.3h0.7v0.7h-0.7zM264.5 197.6h0.7v0.7h-0.7zM292.8 220.4h0.7v0.7h-0.7zM278 187h0.7v0.7h-0.7zM269.9 202.6h0.7v0.7h-0.7zM268.8 189.1h0.7v0.7h-0.7zM275.5 168.8h0.7v0.7h-0.7zM266.1 176h0.7v0.7h-0.7zM275.4 175.5h0.7v0.7h-0.7zM306.2 222.8h0.7v0.7h-0.7zM297.6 216.1h0.7v0.7h-0.7zM265.8 208.6h0.7v0.7h-0.7zM263.6 195.7h0.7v0.7h-0.7zM291.3 178.1h0.7v0.7h-0.7zM286.9 221.2h0.7v0.7h-0.7zM291.4 162.8h0.7v0.7h-0.7zM260.9 186.8h0.7v0.7h-0.7zM292.9 215.7h0.7v0.7h-0.7zM276.2 184h0.7v0.7h-0.7zM274.4 207.3h0.7v0.7h-0.7zM274.7 168.1h0.7v0.7h-0.7zM278 195.1h0.7v0.7h-0.7zM271.6 203.7h0.7v0.7h-0.7zM275.4 206.2h0.7v0.7h-0.7zM287.1 212.2h0.7v0.7h-0.7zM272.4 198.3h0.7v0.7h-0.7zM292.4 220.5h0.7v0.7h-0.7zM271.7 191.1h0.7v0.7h-0.7zM294.1 215.9h0.7v0.7h-0.7zM259.1 198h0.7v0.7h-0.7zM263.2 178.3h0.7v0.7h-0.7zM272.1 193.8h0.7v0.7h-0.7zM288.9 214h0.7v0.7h-0.7zM281.6 204.3h0.7v0.7h-0.7zM278.2 203.3h0.7v0.7h-0.7zM281.7 206.8h0.7v0.7h-0.7zM301.9 215.5h0.7v0.7h-0.7zM264.5 202.6h0.7v0.7h-0.7zM270.1 187.1h0.7v0.7h-0.7zM278.9 209.3h0.7v0.7h-0.7zM262.4 195h0.7v0.7h-0.7zM271.9 176.6h0.7v0.7h-0.7zM308.3 218.1h0.7v0.7h-0.7zM301.1 219.4h0.7v0.7h-0.7zM256.4 193h0.7v0.7h-0.7zM295.2 216.6h0.7v0.7h-0.7zM275.9 190h0.7v0.7h-0.7zM282.4 210.1h0.7v0.7h-0.7zM269.5 200.1h0.7v0.7h-0.7zM289.7 214h0.7v0.7h-0.7zM268.4 202.7h0.7v0.7h-0.7zM282.2 189.7h0.7v0.7h-0.7zM260.8 190.9h0.7v0.7h-0.7zM260.5 202.9h0.7v0.7h-0.7zM269.8 188.9h0.7v0.7h-0.7zM291.8 214.4h0.7v0.7h-0.7zM265.1 193.4h0.7v0.7h-0.7zM302.1 216.2h0.7v0.7h-0.7zM263.1 207.8h0.7v0.7h-0.7zM271.3 208h0.7v0.7h-0.7zM260.2 207.1h0.7v0.7h-0.7zM297.7 174.3h0.7v0.7h-0.7zM258.2 200.4h0.7v0.7h-0.7zM290.8 220.2h0.7v0.7h-0.7zM285.5 175.3h0.7v0.7h-0.7zM271.1 176.4h0.7v0.7h-0.7zM257.4 204.3h0.7v0.7h-0.7zM274.1 189.9h0.7v0.7h-0.7zM279.6 195.2h0.7v0.7h-0.7zM277.7 205.7h0.7v0.7h-0.7zM294.2 208.4h0.7v0.7h-0.7zM271.6 210.1h0.7v0.7h-0.7zM265.5 197.1h0.7v0.7h-0.7zM294.2 185.4h0.7v0.7h-0.7zM293.8 184.2h0.7v0.7h-0.7zM260.6 197.7h0.7v0.7h-0.7zM263 207.9h0.7v0.7h-0.7zM273 198.9h0.7v0.7h-0.7zM262.7 196.9h0.7v0.7h-0.7zM271.8 206.5h0.7v0.7h-0.7zM262 193.2h0.7v0.7h-0.7zM263 201.8h0.7v0.7h-0.7zM268.6 196.1h0.7v0.7h-0.7zM265.1 208.9h0.7v0.7h-0.7zM263.9 184.6h0.7v0.7h-0.7zM289.9 216.5h0.7v0.7h-0.7zM273.8 183.5h0.7v0.7h-0.7zM260.8 207.9h0.7v0.7h-0.7zM272.7 199.7h0.7v0.7h-0.7zM279.2 194.2h0.7v0.7h-0.7zM276.5 204.4h0.7v0.7h-0.7zM309.3 169.8h0.7v0.7h-0.7zM277.6 192.9h0.7v0.7h-0.7zM269.7 197.7h0.7v0.7h-0.7zM263.1 206.3h0.7v0.7h-0.7zM270.9 196.5h0.7v0.7h-0.7zM265 202.3h0.7v0.7h-0.7zM275.1 201.3h0.7v0.7h-0.7zM266.5 178.1h0.7v0.7h-0.7zM271.2 206.7h0.7v0.7h-0.7zM267.6 205.9h0.7v0.7h-0.7zM270.4 185.3h0.7v0.7h-0.7zM274.1 177.8h0.7v0.7h-0.7zM259.5 203.8h0.7v0.7h-0.7zM273.4 203.8h0.7v0.7h-0.7zM269.1 190.1h0.7v0.7h-0.7zM279.3 161.6h0.7v0.7h-0.7zM273.4 194.8h0.7v0.7h-0.7zM290.9 215.1h0.7v0.7h-0.7zM283.2 211.8h0.7v0.7h-0.7zM264.7 199.7h0.7v0.7h-0.7zM266.3 204.2h0.7v0.7h-0.7zM267.5 203.2h0.7v0.7h-0.7zM272 203.1h0.7v0.7h-0.7zM293.4 178h0.7v0.7h-0.7zM290.6 214.9h0.7v0.7h-0.7zM262.7 206.8h0.7v0.7h-0.7zM261.3 207.2h0.7v0.7h-0.7zM263.6 188.5h0.7v0.7h-0.7zM262 208.6h0.7v0.7h-0.7zM282.6 196.4h0.7v0.7h-0.7zM256.5 186h0.7v0.7h-0.7zM280.8 191.7h0.7v0.7h-0.7zM260.1 204.2h0.7v0.7h-0.7zM292.3 217.8h0.7v0.7h-0.7zM268.7 199.1h0.7v0.7h-0.7zM264.7 190.4h0.7v0.7h-0.7zM269.5 178.8h0.7v0.7h-0.7zM288.4 204.4h0.7v0.7h-0.7zM267 206.1h0.7v0.7h-0.7zM269.8 202h0.7v0.7h-0.7zM259.5 200.8h0.7v0.7h-0.7zM287.6 224.7h0.7v0.7h-0.7zM281.2 196h0.7v0.7h-0.7zM264.7 198.3h0.7v0.7h-0.7zM264.1 201.2h0.7v0.7h-0.7zM271.2 206.2h0.7v0.7h-0.7zM296.2 217.8h0.7v0.7h-0.7zM271.9 196.2h0.7v0.7h-0.7zM265.7 208.9h0.7v0.7h-0.7zM264.9 208.4h0.7v0.7h-0.7zM275.3 206.2h0.7v0.7h-0.7zM263 184.2h0.7v0.7h-0.7zM278 196.3h0.7v0.7h-0.7zM266 209.6h0.7v0.7h-0.7zM267.7 191.7h0.7v0.7h-0.7zM290.1 215.3h0.7v0.7h-0.7zM268.7 201.3h0.7v0.7h-0.7zM295.3 221.3h0.7v0.7h-0.7zM265.7 205.7h0.7v0.7h-0.7zM266.5 198.1h0.7v0.7h-0.7zM264.5 201.2h0.7v0.7h-0.7zM297.4 215.9h0.7v0.7h-0.7zM265.7 194.7h0.7v0.7h-0.7zM286.3 200.8h0.7v0.7h-0.7zM269.7 208.2h0.7v0.7h-0.7zM261.8 198.2h0.7v0.7h-0.7zM264.4 195.6h0.7v0.7h-0.7zM259.7 206.1h0.7v0.7h-0.7zM272.1 209.7h0.7v0.7h-0.7zM265 190.8h0.7v0.7h-0.7zM268.6 187.3h0.7v0.7h-0.7zM261.6 195.3h0.7v0.7h-0.7zM264 201.8h0.7v0.7h-0.7zM266 205.4h0.7v0.7h-0.7zM293.6 169.1h0.7v0.7h-0.7zM265.1 173.3h0.7v0.7h-0.7zM321.9 218.2h0.7v0.7h-0.7zM309.7 202.8h0.7v0.7h-0.7zM267.5 200.6h0.7v0.7h-0.7zM274.9 206.1h0.7v0.7h-0.7zM287.7 191.8h0.7v0.7h-0.7zM257 185.2h0.7v0.7h-0.7zM289.5 192.4h0.7v0.7h-0.7zM259.5 202.7h0.7v0.7h-0.7zM269 205.7h0.7v0.7h-0.7zM287.1 165.2h0.7v0.7h-0.7zM278.3 186.8h0.7v0.7h-0.7zM263.3 186.8h0.7v0.7h-0.7zM265.2 224h0.7v0.7h-0.7zM268.1 165.4h0.7v0.7h-0.7zM285 181.8h0.7v0.7h-0.7zM283.9 165.7h0.7v0.7h-0.7zM269.5 177.8h0.7v0.7h-0.7zM261.3 208.3h0.7v0.7h-0.7zM279.5 186.2h0.7v0.7h-0.7zM289.2 219.1h0.7v0.7h-0.7zM261.2 203.9h0.7v0.7h-0.7zM273.9 195.8h0.7v0.7h-0.7zM268.2 224h0.7v0.7h-0.7zM281.6 167.5h0.7v0.7h-0.7zM291.6 167.5h0.7v0.7h-0.7zM257.8 192.5h0.7v0.7h-0.7zM285.1 221.5h0.7v0.7h-0.7zM265 185.1h0.7v0.7h-0.7zM298.5 193.2h0.7v0.7h-0.7zM278.1 187.3h0.7v0.7h-0.7zM289.7 217.8h0.7v0.7h-0.7zM261.9 200.7h0.7v0.7h-0.7zM270.8 182.3h0.7v0.7h-0.7zM299.5 212.1h0.7v0.7h-0.7zM284.3 197.2h0.7v0.7h-0.7zM284.4 203.8h0.7v0.7h-0.7zM292.6 215.4h0.7v0.7h-0.7zM265 189.6h0.7v0.7h-0.7zM258.5 204.7h0.7v0.7h-0.7zM262.5 199.5h0.7v0.7h-0.7zM267.2 208.6h0.7v0.7h-0.7zM264.8 170.1h0.7v0.7h-0.7zM271.9 207h0.7v0.7h-0.7zM292.3 215.1h0.7v0.7h-0.7zM262.5 207.9h0.7v0.7h-0.7zM261.8 197.1h0.7v0.7h-0.7zM287.7 220h0.7v0.7h-0.7zM261.4 207.2h0.7v0.7h-0.7zM269 198.8h0.7v0.7h-0.7zM284.6 183.9h0.7v0.7h-0.7zM268.6 209.4h0.7v0.7h-0.7zM270.9 205.5h0.7v0.7h-0.7zM291.4 218h0.7v0.7h-0.7zM286.8 180.3h0.7v0.7h-0.7zM297.4 214h0.7v0.7h-0.7zM263.1 202.7h0.7v0.7h-0.7zM272.1 182.1h0.7v0.7h-0.7zM262.1 202.4h0.7v0.7h-0.7zM280 187.9h0.7v0.7h-0.7zM299.7 189.5h0.7v0.7h-0.7zM258.7 200.7h0.7v0.7h-0.7zM266.2 198.1h0.7v0.7h-0.7zM306.7 186.4h0.7v0.7h-0.7zM275.5 182.4h0.7v0.7h-0.7zM262.7 185.2h0.7v0.7h-0.7zM274.4 191.4h0.7v0.7h-0.7zM276.9 185.2h0.7v0.7h-0.7zM266.3 199.2h0.7v0.7h-0.7zM281.4 197.5h0.7v0.7h-0.7zM269.9 202.5h0.7v0.7h-0.7zM268.1 205.6h0.7v0.7h-0.7zM268.4 183.7h0.7v0.7h-0.7zM268.2 199.7h0.7v0.7h-0.7zM262.6 203h0.7v0.7h-0.7zM266.8 196.9h0.7v0.7h-0.7zM257.1 201.5h0.7v0.7h-0.7zM262.9 202.7h0.7v0.7h-0.7zM261.4 205.8h0.7v0.7h-0.7zM274 203.9h0.7v0.7h-0.7zM282.6 179.2h0.7v0.7h-0.7zM296.6 213.6h0.7v0.7h-0.7zM292.2 194.2h0.7v0.7h-0.7zM264.7 192.8h0.7v0.7h-0.7zM266 205.6h0.7v0.7h-0.7zM259.8 199.4h0.7v0.7h-0.7zM267.8 206.9h0.7v0.7h-0.7zM284.2 187h0.7v0.7h-0.7zM266.2 194.8h0.7v0.7h-0.7zM269.7 197.1h0.7v0.7h-0.7zM317.1 176.2h0.7v0.7h-0.7zM267.2 190.9h0.7v0.7h-0.7zM287.7 207.3h0.7v0.7h-0.7zM257.4 193.8h0.7v0.7h-0.7zM280.2 189.8h0.7v0.7h-0.7zM257 184.9h0.7v0.7h-0.7zM276.4 189.7h0.7v0.7h-0.7zM270.4 223.4h0.7v0.7h-0.7zM282.1 206.9h0.7v0.7h-0.7zM260.8 201.6h0.7v0.7h-0.7zM259.7 201.1h0.7v0.7h-0.7zM264.5 201.7h0.7v0.7h-0.7zM293.6 183.4h0.7v0.7h-0.7zM287.7 222h0.7v0.7h-0.7zM266.7 205.9h0.7v0.7h-0.7zM264.7 205.2h0.7v0.7h-0.7zM268.2 199.3h0.7v0.7h-0.7zM297.8 222.3h0.7v0.7h-0.7zM271.6 201.4h0.7v0.7h-0.7zM286.7 195.9h0.7v0.7h-0.7zM305.5 175.4h0.7v0.7h-0.7zM258.7 197.9h0.7v0.7h-0.7zM266.2 183.5h0.7v0.7h-0.7zM290.3 179.3h0.7v0.7h-0.7zM266.4 197.5h0.7v0.7h-0.7zM268.6 191.5h0.7v0.7h-0.7zM263.4 161.8h0.7v0.7h-0.7zM276 196.4h0.7v0.7h-0.7zM271.8 183.2h0.7v0.7h-0.7zM293.6 223.2h0.7v0.7h-0.7zM306.4 217.1h0.7v0.7h-0.7zM286.1 164.2h0.7v0.7h-0.7zM273.3 204.7h0.7v0.7h-0.7zM283.5 194.3h0.7v0.7h-0.7zM274.3 178.3h0.7v0.7h-0.7zM270 207h0.7v0.7h-0.7zM258.1 200.9h0.7v0.7h-0.7zM258.9 180.9h0.7v0.7h-0.7zM292.6 213.5h0.7v0.7h-0.7zM270.2 180.9h0.7v0.7h-0.7zM279.6 190.5h0.7v0.7h-0.7zM291.9 218.5h0.7v0.7h-0.7zM296.1 213.4h0.7v0.7h-0.7zM287.6 175.9h0.7v0.7h-0.7zM260.2 208.4h0.7v0.7h-0.7zM289.6 213.9h0.7v0.7h-0.7zM258.2 202.7h0.7v0.7h-0.7zM271.5 186.3h0.7v0.7h-0.7zM268.1 195.2h0.7v0.7h-0.7zM264.8 204.8h0.7v0.7h-0.7zM267.2 150.2h0.7v0.7h-0.7zM276.1 181.4h0.7v0.7h-0.7zM280.6 188.9h0.7v0.7h-0.7zM286.2 211.6h0.7v0.7h-0.7zM289.4 176.9h0.7v0.7h-0.7zM278.1 206.1h0.7v0.7h-0.7zM266.2 203.1h0.7v0.7h-0.7zM290.8 212.4h0.7v0.7h-0.7zM269.3 194.6h0.7v0.7h-0.7zM263 208.1h0.7v0.7h-0.7zM295.9 221.8h0.7v0.7h-0.7zM307.9 171.7h0.7v0.7h-0.7zM268 182.2h0.7v0.7h-0.7zM279.8 179h0.7v0.7h-0.7zM300.9 197.5h0.7v0.7h-0.7zM276.5 168.9h0.7v0.7h-0.7zM257.7 191.8h0.7v0.7h-0.7zM283.1 196.9h0.7v0.7h-0.7zM274.5 197.9h0.7v0.7h-0.7zM267.3 194.7h0.7v0.7h-0.7zM282.7 194.6h0.7v0.7h-0.7zM272.5 204.8h0.7v0.7h-0.7zM286.4 188.1h0.7v0.7h-0.7zM289.6 211.3h0.7v0.7h-0.7zM263.8 203.1h0.7v0.7h-0.7zM263.9 192.3h0.7v0.7h-0.7zM274.5 174.8h0.7v0.7h-0.7zM266.1 199.9h0.7v0.7h-0.7zM268.4 197.6h0.7v0.7h-0.7zM277.9 179.3h0.7v0.7h-0.7zM270.6 195.5h0.7v0.7h-0.7zM272.5 179.8h0.7v0.7h-0.7zM266.1 186.9h0.7v0.7h-0.7zM266.1 190.9h0.7v0.7h-0.7zM285.9 180.6h0.7v0.7h-0.7zM267.4 192.5h0.7v0.7h-0.7zM300.1 184.5h0.7v0.7h-0.7zM266.9 186.1h0.7v0.7h-0.7zM271.8 176.3h0.7v0.7h-0.7zM272.9 209.3h0.7v0.7h-0.7zM270.5 200.8h0.7v0.7h-0.7zM261.7 198.6h0.7v0.7h-0.7zM257.9 207.2h0.7v0.7h-0.7zM279.2 174.9h0.7v0.7h-0.7zM265.9 203.8h0.7v0.7h-0.7zM281.2 185.8h0.7v0.7h-0.7zM277.6 194.5h0.7v0.7h-0.7zM262.6 203.2h0.7v0.7h-0.7zM256.6 201.9h0.7v0.7h-0.7zM303.1 191.9h0.7v0.7h-0.7zM261 204.3h0.7v0.7h-0.7zM262.4 196.4h0.7v0.7h-0.7zM291.4 159.6h0.7v0.7h-0.7zM264.1 208h0.7v0.7h-0.7zM272.3 182.2h0.7v0.7h-0.7zM270.6 196.1h0.7v0.7h-0.7zM266.3 206h0.7v0.7h-0.7zM257.4 195.5h0.7v0.7h-0.7zM292 214.4h0.7v0.7h-0.7zM264.4 204.8h0.7v0.7h-0.7zM270.1 194.7h0.7v0.7h-0.7zM275.6 207.3h0.7v0.7h-0.7zM264.2 174.5h0.7v0.7h-0.7zM264.1 207.2h0.7v0.7h-0.7zM266.8 201.4h0.7v0.7h-0.7zM297.7 218.8h0.7v0.7h-0.7zM270.2 201.6h0.7v0.7h-0.7zM281.1 181.4h0.7v0.7h-0.7zM274.9 163.1h0.7v0.7h-0.7zM269.8 193.7h0.7v0.7h-0.7zM292.4 216.6h0.7v0.7h-0.7zM266.8 206.6h0.7v0.7h-0.7zM284.9 196.3h0.7v0.7h-0.7zM298.4 218.6h0.7v0.7h-0.7zM266.9 201h0.7v0.7h-0.7zM265.1 208.5h0.7v0.7h-0.7zM277.5 191.2h0.7v0.7h-0.7zM262.6 206h0.7v0.7h-0.7zM270.3 176.8h0.7v0.7h-0.7zM285.3 185.6h0.7v0.7h-0.7zM277.6 202.2h0.7v0.7h-0.7zM259.2 208h0.7v0.7h-0.7zM261.5 196.2h0.7v0.7h-0.7zM309.6 216.9h0.7v0.7h-0.7zM301.8 215.5h0.7v0.7h-0.7zM268 204.7h0.7v0.7h-0.7zM290.8 213.7h0.7v0.7h-0.7zM259 206.6h0.7v0.7h-0.7zM268.2 200.1h0.7v0.7h-0.7zM259.2 196.7h0.7v0.7h-0.7zM285.6 178.6h0.7v0.7h-0.7zM272.5 191.6h0.7v0.7h-0.7zM289.1 188.7h0.7v0.7h-0.7zM256.9 185.2h0.7v0.7h-0.7zM270.7 193.3h0.7v0.7h-0.7zM265.2 198.1h0.7v0.7h-0.7zM266.8 196.9h0.7v0.7h-0.7zM264.2 200.8h0.7v0.7h-0.7zM259.7 203.9h0.7v0.7h-0.7zM265.4 195.6h0.7v0.7h-0.7zM262.8 189h0.7v0.7h-0.7zM270.4 210h0.7v0.7h-0.7zM266.2 208.4h0.7v0.7h-0.7zM267.1 201.1h0.7v0.7h-0.7zM258.1 203.3h0.7v0.7h-0.7zM281.3 200.4h0.7v0.7h-0.7zM266.9 207h0.7v0.7h-0.7zM283.3 187.3h0.7v0.7h-0.7zM271.1 197.6h0.7v0.7h-0.7zM258.9 200.1h0.7v0.7h-0.7zM292.1 215.5h0.7v0.7h-0.7zM268.6 208.9h0.7v0.7h-0.7zM260.6 196.7h0.7v0.7h-0.7zM263.2 204.5h0.7v0.7h-0.7zM260 205.4h0.7v0.7h-0.7zM268.4 208.4h0.7v0.7h-0.7zM258.4 189.8h0.7v0.7h-0.7zM283.7 174.8h0.7v0.7h-0.7zM273.9 206.3h0.7v0.7h-0.7zM264.7 206.2h0.7v0.7h-0.7zM269.4 204.1h0.7v0.7h-0.7zM266.3 185.3h0.7v0.7h-0.7zM294.1 215.6h0.7v0.7h-0.7zM285.2 207.9h0.7v0.7h-0.7zM267.2 198.3h0.7v0.7h-0.7zM278.5 202.2h0.7v0.7h-0.7zM276.1 193.5h0.7v0.7h-0.7zM292.9 176.4h0.7v0.7h-0.7zM274.4 198.5h0.7v0.7h-0.7zM282 189.1h0.7v0.7h-0.7zM261.7 200.5h0.7v0.7h-0.7zM267.8 192.3h0.7v0.7h-0.7zM290.3 193.4h0.7v0.7h-0.7zM261.4 224.8h0.7v0.7h-0.7zM266.9 205.6h0.7v0.7h-0.7zM262.4 197.8h0.7v0.7h-0.7zM263 198.8h0.7v0.7h-0.7zM290.2 168.3h0.7v0.7h-0.7zM262.4 198.5h0.7v0.7h-0.7zM273.8 201.6h0.7v0.7h-0.7zM261.4 203.5h0.7v0.7h-0.7zM294.4 219.3h0.7v0.7h-0.7zM264.4 199.6h0.7v0.7h-0.7zM259.3 200.7h0.7v0.7h-0.7zM268.6 208.5h0.7v0.7h-0.7zM284.4 223.2h0.7v0.7h-0.7zM267.3 205.2h0.7v0.7h-0.7zM307.5 220.8h0.7v0.7h-0.7zM269.2 198.8h0.7v0.7h-0.7zM267.6 202.3h0.7v0.7h-0.7zM285.2 187.3h0.7v0.7h-0.7zM289.6 210.5h0.7v0.7h-0.7zM282.2 178.4h0.7v0.7h-0.7zM278 185.6h0.7v0.7h-0.7zM269.4 197.8h0.7v0.7h-0.7zM263.2 195h0.7v0.7h-0.7zM267.9 196.2h0.7v0.7h-0.7zM270.1 201.2h0.7v0.7h-0.7zM277 197.3h0.7v0.7h-0.7zM262.4 201.5h0.7v0.7h-0.7zM281.4 222.4h0.7v0.7h-0.7zM296.5 212.5h0.7v0.7h-0.7zM295.4 187.8h0.7v0.7h-0.7zM262.8 208h0.7v0.7h-0.7zM295.3 177.4h0.7v0.7h-0.7zM281.3 187.1h0.7v0.7h-0.7zM262.7 197h0.7v0.7h-0.7zM264.5 200.5h0.7v0.7h-0.7zM260.2 207h0.7v0.7h-0.7zM280.2 198.7h0.7v0.7h-0.7zM289.4 218.9h0.7v0.7h-0.7zM282.9 184.8h0.7v0.7h-0.7zM283.1 177.1h0.7v0.7h-0.7zM280.6 223.6h0.7v0.7h-0.7zM280.8 175.1h0.7v0.7h-0.7zM267.4 201.3h0.7v0.7h-0.7zM271.4 205.5h0.7v0.7h-0.7zM267.1 205.2h0.7v0.7h-0.7zM263.8 204.1h0.7v0.7h-0.7zM276.8 182.3h0.7v0.7h-0.7zM268.1 180.2h0.7v0.7h-0.7zM273.8 192.1h0.7v0.7h-0.7zM267.6 195.5h0.7v0.7h-0.7zM267.2 194.5h0.7v0.7h-0.7zM276.2 186.6h0.7v0.7h-0.7zM263.6 204.3h0.7v0.7h-0.7zM295.6 194.6h0.7v0.7h-0.7zM274.9 206.2h0.7v0.7h-0.7zM262.3 201.7h0.7v0.7h-0.7zM293.5 222.2h0.7v0.7h-0.7zM266.9 201.2h0.7v0.7h-0.7zM274.6 197.9h0.7v0.7h-0.7zM265.2 200.1h0.7v0.7h-0.7zM270.9 206.4h0.7v0.7h-0.7zM256.1 185.1h0.7v0.7h-0.7zM272.5 223.5h0.7v0.7h-0.7zM266.1 197.1h0.7v0.7h-0.7zM269.5 199.9h0.7v0.7h-0.7zM268.1 205.1h0.7v0.7h-0.7zM267.5 202.5h0.7v0.7h-0.7zM272.6 183.5h0.7v0.7h-0.7zM285.6 180.9h0.7v0.7h-0.7zM287.4 196.9h0.7v0.7h-0.7zM263.8 204.4h0.7v0.7h-0.7zM289.3 211h0.7v0.7h-0.7zM305.6 219.9h0.7v0.7h-0.7zM261.8 191h0.7v0.7h-0.7zM273.2 185.6h0.7v0.7h-0.7zM290.2 188.1h0.7v0.7h-0.7zM261.6 199.8h0.7v0.7h-0.7zM269.7 204.3h0.7v0.7h-0.7zM314.4 174.4h0.7v0.7h-0.7zM294.6 217.2h0.7v0.7h-0.7zM265.7 199.2h0.7v0.7h-0.7zM268.8 203.2h0.7v0.7h-0.7zM299.4 222.7h0.7v0.7h-0.7zM268.4 206.1h0.7v0.7h-0.7zM303.5 221.9h0.7v0.7h-0.7zM259.8 203.6h0.7v0.7h-0.7zM258 205.1h0.7v0.7h-0.7zM285.2 188.6h0.7v0.7h-0.7zM284.3 188.6h0.7v0.7h-0.7zM262.6 204.3h0.7v0.7h-0.7zM269.3 204.9h0.7v0.7h-0.7zM272.5 200.1h0.7v0.7h-0.7zM289.7 212.3h0.7v0.7h-0.7zM302.9 194.8h0.7v0.7h-0.7zM273.1 209.7h0.7v0.7h-0.7zM271.7 191h0.7v0.7h-0.7zM265.9 191.7h0.7v0.7h-0.7zM258.6 200.6h0.7v0.7h-0.7zM277.4 176.6h0.7v0.7h-0.7zM297.2 197.4h0.7v0.7h-0.7zM280.9 170.8h0.7v0.7h-0.7zM262.3 192.8h0.7v0.7h-0.7zM303.3 185.7h0.7v0.7h-0.7zM257.8 201.2h0.7v0.7h-0.7zM264.3 202.1h0.7v0.7h-0.7zM266.4 201.7h0.7v0.7h-0.7zM273 199h0.7v0.7h-0.7zM289.6 189.9h0.7v0.7h-0.7zM261.5 203.3h0.7v0.7h-0.7zM268.8 183h0.7v0.7h-0.7zM283.9 179.4h0.7v0.7h-0.7zM260.8 194.5h0.7v0.7h-0.7zM259.2 183.9h0.7v0.7h-0.7zM293.5 178.2h0.7v0.7h-0.7zM268.2 200h0.7v0.7h-0.7zM266 202.5h0.7v0.7h-0.7zM291.1 214.2h0.7v0.7h-0.7zM288.2 184.6h0.7v0.7h-0.7zM271.4 199.2h0.7v0.7h-0.7zM295.6 218.4h0.7v0.7h-0.7zM271.6 199.1h0.7v0.7h-0.7zM270.2 196.2h0.7v0.7h-0.7zM276.3 197.4h0.7v0.7h-0.7zM259.7 202.8h0.7v0.7h-0.7zM279.3 201.7h0.7v0.7h-0.7zM312.2 217.6h0.7v0.7h-0.7zM261.7 196.1h0.7v0.7h-0.7zM288.8 212.9h0.7v0.7h-0.7zM269.5 181.5h0.7v0.7h-0.7zM286.3 208.2h0.7v0.7h-0.7zM296.4 217.1h0.7v0.7h-0.7zM271.9 198.4h0.7v0.7h-0.7zM271.2 184.3h0.7v0.7h-0.7zM299 199.5h0.7v0.7h-0.7zM291.2 181.2h0.7v0.7h-0.7zM268 202.1h0.7v0.7h-0.7zM289.6 214.5h0.7v0.7h-0.7zM285.6 225.8h0.7v0.7h-0.7zM283.8 179.3h0.7v0.7h-0.7zM270.7 180.6h0.7v0.7h-0.7zM309.2 222.3h0.7v0.7h-0.7zM285.6 179.8h0.7v0.7h-0.7zM289.8 220.5h0.7v0.7h-0.7zM257.7 173h0.7v0.7h-0.7zM290.4 198.3h0.7v0.7h-0.7zM307.1 188.3h0.7v0.7h-0.7zM301.1 214.9h0.7v0.7h-0.7zM292.4 222.3h0.7v0.7h-0.7zM271 201.8h0.7v0.7h-0.7zM280.8 187.1h0.7v0.7h-0.7zM285.8 205.1h0.7v0.7h-0.7zM267.6 197h0.7v0.7h-0.7zM278.7 189.5h0.7v0.7h-0.7zM270.3 208.4h0.7v0.7h-0.7zM276.9 192.1h0.7v0.7h-0.7zM267.3 201.2h0.7v0.7h-0.7zM290.3 215.5h0.7v0.7h-0.7zM270.7 210h0.7v0.7h-0.7zM280.7 223.4h0.7v0.7h-0.7zM260.8 200.4h0.7v0.7h-0.7zM297.7 221.5h0.7v0.7h-0.7zM302 205.1h0.7v0.7h-0.7zM271 189.7h0.7v0.7h-0.7zM273 200.3h0.7v0.7h-0.7zM272.4 208.9h0.7v0.7h-0.7zM256.3 198.1h0.7v0.7h-0.7zM267.3 196.2h0.7v0.7h-0.7zM281.9 192.8h0.7v0.7h-0.7zM281.1 176.1h0.7v0.7h-0.7zM292.1 215.7h0.7v0.7h-0.7zM312.1 183.6h0.7v0.7h-0.7zM260.6 199.1h0.7v0.7h-0.7zM291.7 194.5h0.7v0.7h-0.7zM278.1 209.6h0.7v0.7h-0.7zM271.5 198.5h0.7v0.7h-0.7zM266.4 194.1h0.7v0.7h-0.7zM265.5 199.7h0.7v0.7h-0.7zM261.1 193.5h0.7v0.7h-0.7zM262.8 204.2h0.7v0.7h-0.7zM265.8 203.7h0.7v0.7h-0.7zM286 209.8h0.7v0.7h-0.7zM283.1 187.5h0.7v0.7h-0.7zM263.5 199.2h0.7v0.7h-0.7zM282 184.1h0.7v0.7h-0.7zM292.1 201.5h0.7v0.7h-0.7zM278.2 180.6h0.7v0.7h-0.7zM280.4 204.7h0.7v0.7h-0.7zM288.7 215.2h0.7v0.7h-0.7zM274.8 208.4h0.7v0.7h-0.7zM258.4 205h0.7v0.7h-0.7zM285.9 169.5h0.7v0.7h-0.7zM295 166.1h0.7v0.7h-0.7zM297.7 208.8h0.7v0.7h-0.7zM276.7 203h0.7v0.7h-0.7zM273.5 204.1h0.7v0.7h-0.7zM300.4 217.7h0.7v0.7h-0.7zM297.1 217.9h0.7v0.7h-0.7zM268.3 201.5h0.7v0.7h-0.7zM295.2 221.3h0.7v0.7h-0.7zM267.7 197.6h0.7v0.7h-0.7zM291.4 221.7h0.7v0.7h-0.7zM284 211h0.7v0.7h-0.7zM274.3 187.8h0.7v0.7h-0.7zM311.7 184.9h0.7v0.7h-0.7zM272.3 188h0.7v0.7h-0.7zM290.5 215.2h0.7v0.7h-0.7zM259.9 204.8h0.7v0.7h-0.7zM258.3 204.7h0.7v0.7h-0.7zM265.6 179.1h0.7v0.7h-0.7zM288.7 170.6h0.7v0.7h-0.7zM301.2 212.3h0.7v0.7h-0.7zM256.2 166.6h0.7v0.7h-0.7zM299.9 217.7h0.7v0.7h-0.7zM278 185.1h0.7v0.7h-0.7zM259.5 206.1h0.7v0.7h-0.7zM274 202.6h0.7v0.7h-0.7zM276.9 201.2h0.7v0.7h-0.7zM289.6 177.8h0.7v0.7h-0.7zM261.4 202.5h0.7v0.7h-0.7zM266.2 175.1h0.7v0.7h-0.7zM287.3 202.2h0.7v0.7h-0.7zM262.1 204.1h0.7v0.7h-0.7zM294.6 195.6h0.7v0.7h-0.7zM271.2 194.8h0.7v0.7h-0.7zM276.2 203h0.7v0.7h-0.7zM278.8 163.2h0.7v0.7h-0.7zM267.8 203.4h0.7v0.7h-0.7zM291.1 191.5h0.7v0.7h-0.7zM280.3 206.4h0.7v0.7h-0.7zM274.9 196.3h0.7v0.7h-0.7zM287.7 195.6h0.7v0.7h-0.7zM284.1 181.2h0.7v0.7h-0.7zM273 184.3h0.7v0.7h-0.7zM287.8 225h0.7v0.7h-0.7zM267.4 202.6h0.7v0.7h-0.7zM303.4 214.4h0.7v0.7h-0.7zM264.3 201.5h0.7v0.7h-0.7zM293.4 175.5h0.7v0.7h-0.7zM271.1 196.4h0.7v0.7h-0.7zM279.9 185h0.7v0.7h-0.7zM265.5 198.2h0.7v0.7h-0.7zM276.4 193.1h0.7v0.7h-0.7zM259.8 201h0.7v0.7h-0.7zM267.7 193.5h0.7v0.7h-0.7zM265.9 203.8h0.7v0.7h-0.7zM273.6 205h0.7v0.7h-0.7zM270.5 206h0.7v0.7h-0.7zM281.6 199.2h0.7v0.7h-0.7zM297.4 215.8h0.7v0.7h-0.7zM299.3 219.3h0.7v0.7h-0.7zM274.4 206.8h0.7v0.7h-0.7zM277.1 188h0.7v0.7h-0.7zM311.3 218.1h0.7v0.7h-0.7zM289.2 221.8h0.7v0.7h-0.7zM267.6 195.3h0.7v0.7h-0.7zM260.6 205.4h0.7v0.7h-0.7zM268.5 201.7h0.7v0.7h-0.7zM264.4 201.1h0.7v0.7h-0.7zM263.5 204.4h0.7v0.7h-0.7zM269.1 206.2h0.7v0.7h-0.7zM268.1 187.9h0.7v0.7h-0.7zM265.4 201.2h0.7v0.7h-0.7zM264.2 187.3h0.7v0.7h-0.7zM277.1 203.4h0.7v0.7h-0.7zM270.3 206.4h0.7v0.7h-0.7zM276.3 207.6h0.7v0.7h-0.7zM260.4 182.7h0.7v0.7h-0.7zM269.5 197.2h0.7v0.7h-0.7zM296.9 213.1h0.7v0.7h-0.7zM275 195h0.7v0.7h-0.7zM294.1 217.7h0.7v0.7h-0.7zM256.7 202.5h0.7v0.7h-0.7zM288.3 190.5h0.7v0.7h-0.7zM268.7 203.8h0.7v0.7h-0.7zM294.8 185.8h0.7v0.7h-0.7zM285.9 212.6h0.7v0.7h-0.7zM263.3 208.8h0.7v0.7h-0.7zM276.7 194.3h0.7v0.7h-0.7zM265.8 207.9h0.7v0.7h-0.7zM264.8 204.6h0.7v0.7h-0.7zM261.6 202.2h0.7v0.7h-0.7zM266.9 208.9h0.7v0.7h-0.7zM272 193.1h0.7v0.7h-0.7zM262.1 204.1h0.7v0.7h-0.7zM269.5 204.5h0.7v0.7h-0.7zM280.7 181.1h0.7v0.7h-0.7zM281 200.7h0.7v0.7h-0.7zM285.9 199.6h0.7v0.7h-0.7zM279.4 189h0.7v0.7h-0.7zM259.7 205.1h0.7v0.7h-0.7zM270.7 205.7h0.7v0.7h-0.7zM286.3 220.7h0.7v0.7h-0.7zM284.8 198.5h0.7v0.7h-0.7zM293.3 203.6h0.7v0.7h-0.7zM281.2 201h0.7v0.7h-0.7zM288.7 189.1h0.7v0.7h-0.7zM288.8 220.7h0.7v0.7h-0.7zM294.2 174.1h0.7v0.7h-0.7zM271.3 187.3h0.7v0.7h-0.7zM273.5 208.5h0.7v0.7h-0.7zM261 206.9h0.7v0.7h-0.7zM260.9 194.9h0.7v0.7h-0.7zM267.7 208.5h0.7v0.7h-0.7zM270.2 207.8h0.7v0.7h-0.7zM261.5 207.5h0.7v0.7h-0.7zM272 204.4h0.7v0.7h-0.7zM265.3 197.1h0.7v0.7h-0.7zM300.9 178.6h0.7v0.7h-0.7zM260.9 202.2h0.7v0.7h-0.7zM264 192.4h0.7v0.7h-0.7zM300.5 222.1h0.7v0.7h-0.7zM263.7 200.8h0.7v0.7h-0.7zM266.5 166.3h0.7v0.7h-0.7zM267.8 202.9h0.7v0.7h-0.7zM262.8 199.7h0.7v0.7h-0.7zM260.6 190h0.7v0.7h-0.7zM272 196.7h0.7v0.7h-0.7zM266.2 203.6h0.7v0.7h-0.7zM261.3 194.2h0.7v0.7h-0.7zM264.3 193.2h0.7v0.7h-0.7zM280.1 207.2h0.7v0.7h-0.7zM258.4 194.4h0.7v0.7h-0.7zM261.5 191.4h0.7v0.7h-0.7zM264.8 181.7h0.7v0.7h-0.7zM259.6 196.8h0.7v0.7h-0.7zM263 200.7h0.7v0.7h-0.7zM272.6 183.4h0.7v0.7h-0.7zM258.6 207.7h0.7v0.7h-0.7zM270.4 205.7h0.7v0.7h-0.7zM261.7 187.8h0.7v0.7h-0.7zM286.1 224.1h0.7v0.7h-0.7zM265.9 198.7h0.7v0.7h-0.7zM268.8 206h0.7v0.7h-0.7zM266.6 207h0.7v0.7h-0.7zM274.9 181.7h0.7v0.7h-0.7zM294.4 218.3h0.7v0.7h-0.7zM292.1 220.7h0.7v0.7h-0.7zM264.9 204.4h0.7v0.7h-0.7zM272.1 206h0.7v0.7h-0.7zM265.6 206.2h0.7v0.7h-0.7zM288.1 178.4h0.7v0.7h-0.7zM279.4 187.1h0.7v0.7h-0.7zM260.4 207.4h0.7v0.7h-0.7zM266.6 192.3h0.7v0.7h-0.7zM265 204.2h0.7v0.7h-0.7zM267.7 206.4h0.7v0.7h-0.7zM282 223.7h0.7v0.7h-0.7zM267.7 206.2h0.7v0.7h-0.7zM289.5 187.9h0.7v0.7h-0.7zM265.6 199.6h0.7v0.7h-0.7zM282.1 191.2h0.7v0.7h-0.7zM297.3 173.2h0.7v0.7h-0.7zM298.2 217.7h0.7v0.7h-0.7zM261.8 203.2h0.7v0.7h-0.7zM263.7 196.6h0.7v0.7h-0.7zM288.8 212.1h0.7v0.7h-0.7zM283 193.2h0.7v0.7h-0.7zM270.7 193.1h0.7v0.7h-0.7zM272.2 175.8h0.7v0.7h-0.7zM270.1 200.6h0.7v0.7h-0.7zM265.8 188.1h0.7v0.7h-0.7zM288.1 202.9h0.7v0.7h-0.7zM252.2 215.2h0.7v0.7h-0.7zM292.1 214.6h0.7v0.7h-0.7zM266.5 209h0.7v0.7h-0.7zM269.4 185.9h0.7v0.7h-0.7zM295.5 213.8h0.7v0.7h-0.7zM280.6 175.9h0.7v0.7h-0.7zM263.2 178.4h0.7v0.7h-0.7zM284.5 174.9h0.7v0.7h-0.7zM303.8 219.1h0.7v0.7h-0.7zM293.9 210.9h0.7v0.7h-0.7zM259.9 202.8h0.7v0.7h-0.7zM286.5 212.4h0.7v0.7h-0.7zM259.7 199.3h0.7v0.7h-0.7zM299.2 190.7h0.7v0.7h-0.7zM263.1 203.2h0.7v0.7h-0.7zM274.8 187h0.7v0.7h-0.7zM269.5 175.2h0.7v0.7h-0.7zM278.4 206h0.7v0.7h-0.7zM291.1 218.6h0.7v0.7h-0.7zM266.2 196.1h0.7v0.7h-0.7zM299.3 195.3h0.7v0.7h-0.7zM269.8 206.2h0.7v0.7h-0.7zM256.4 200.2h0.7v0.7h-0.7zM270.3 172.6h0.7v0.7h-0.7zM269.2 210.1h0.7v0.7h-0.7zM258.6 196.6h0.7v0.7h-0.7zM278.8 191.6h0.7v0.7h-0.7zM280.2 197.1h0.7v0.7h-0.7zM297.2 217.6h0.7v0.7h-0.7zM282.7 191.8h0.7v0.7h-0.7zM279.5 197.8h0.7v0.7h-0.7zM268.3 188.3h0.7v0.7h-0.7zM273.9 196.8h0.7v0.7h-0.7zM289.4 222.2h0.7v0.7h-0.7zM301 177.1h0.7v0.7h-0.7zM267.4 202.7h0.7v0.7h-0.7zM270.9 192h0.7v0.7h-0.7zM261.3 195.7h0.7v0.7h-0.7zM300.7 172.6h0.7v0.7h-0.7zM276.7 190.3h0.7v0.7h-0.7zM290.3 214.2h0.7v0.7h-0.7zM281.6 183.3h0.7v0.7h-0.7zM282.9 151.2h0.7v0.7h-0.7zM278.1 194.4h0.7v0.7h-0.7zM287.5 189.6h0.7v0.7h-0.7zM267.8 182.3h0.7v0.7h-0.7zM262.3 202h0.7v0.7h-0.7zM314.7 209.6h0.7v0.7h-0.7zM262 202h0.7v0.7h-0.7zM290.6 218.8h0.7v0.7h-0.7zM304.6 220.5h0.7v0.7h-0.7zM256.7 174.2h0.7v0.7h-0.7zM263.7 197.2h0.7v0.7h-0.7zM277 190.7h0.7v0.7h-0.7zM256.1 197.2h0.7v0.7h-0.7zM268.3 204.8h0.7v0.7h-0.7zM277.9 192.4h0.7v0.7h-0.7zM287.3 213.1h0.7v0.7h-0.7zM272.6 179.6h0.7v0.7h-0.7zM296.2 218.5h0.7v0.7h-0.7zM259 206.2h0.7v0.7h-0.7zM298.7 209.6h0.7v0.7h-0.7zM286.5 222.5h0.7v0.7h-0.7zM263.4 182.3h0.7v0.7h-0.7zM277.2 186.5h0.7v0.7h-0.7zM275.4 199.6h0.7v0.7h-0.7zM271.5 209.6h0.7v0.7h-0.7zM269.1 198.1h0.7v0.7h-0.7zM286.4 227.8h0.7v0.7h-0.7zM278.1 210.5h0.7v0.7h-0.7zM294.7 198.1h0.7v0.7h-0.7zM279.4 183.5h0.7v0.7h-0.7zM306.9 209.8h0.7v0.7h-0.7zM275.2 174.4h0.7v0.7h-0.7zM261 204.2h0.7v0.7h-0.7zM279.7 187h0.7v0.7h-0.7zM264.2 193.4h0.7v0.7h-0.7zM298.2 217.3h0.7v0.7h-0.7zM279 165.3h0.7v0.7h-0.7zM291.5 189.4h0.7v0.7h-0.7zM261.2 199.1h0.7v0.7h-0.7zM272.7 203.8h0.7v0.7h-0.7zM265.8 203h0.7v0.7h-0.7zM257.6 202.2h0.7v0.7h-0.7zM262.2 176.4h0.7v0.7h-0.7zM302.2 216.7h0.7v0.7h-0.7zM273 200.7h0.7v0.7h-0.7zM272.9 207h0.7v0.7h-0.7zM297.9 225.9h0.7v0.7h-0.7zM282.1 209.8h0.7v0.7h-0.7zM269.7 204.3h0.7v0.7h-0.7zM273.1 209.4h0.7v0.7h-0.7zM272.4 178.8h0.7v0.7h-0.7zM257.9 206.8h0.7v0.7h-0.7zM257.1 190.3h0.7v0.7h-0.7zM272.9 203.5h0.7v0.7h-0.7zM267 209.1h0.7v0.7h-0.7zM293.1 204.9h0.7v0.7h-0.7zM270.9 209.5h0.7v0.7h-0.7zM279.4 184.4h0.7v0.7h-0.7zM261.2 204.1h0.7v0.7h-0.7zM265.4 204.9h0.7v0.7h-0.7zM290.5 217h0.7v0.7h-0.7zM262.3 193.5h0.7v0.7h-0.7zM296.3 192.8h0.7v0.7h-0.7zM267.2 205.3h0.7v0.7h-0.7zM259.7 202.4h0.7v0.7h-0.7zM266.9 190.3h0.7v0.7h-0.7zM265.1 200.6h0.7v0.7h-0.7zM297.7 214.6h0.7v0.7h-0.7zM268.6 206.1h0.7v0.7h-0.7zM269.1 180.3h0.7v0.7h-0.7zM260.7 195.5h0.7v0.7h-0.7zM268.2 192.8h0.7v0.7h-0.7zM296.8 211.2h0.7v0.7h-0.7zM272.2 177.1h0.7v0.7h-0.7zM280.2 198.9h0.7v0.7h-0.7zM283 210.3h0.7v0.7h-0.7zM264.3 205.6h0.7v0.7h-0.7zM289.9 219.1h0.7v0.7h-0.7zM276.5 202.8h0.7v0.7h-0.7zM260.5 201.9h0.7v0.7h-0.7zM266.6 180.5h0.7v0.7h-0.7zM282.2 196.3h0.7v0.7h-0.7zM259.1 233.5h0.7v0.7h-0.7zM270.5 209.8h0.7v0.7h-0.7zM282.1 164.4h0.7v0.7h-0.7zM259.3 201.5h0.7v0.7h-0.7zM266.2 191.8h0.7v0.7h-0.7zM266 200.3h0.7v0.7h-0.7zM306.8 198.8h0.7v0.7h-0.7zM277.3 194.1h0.7v0.7h-0.7zM260.5 206.6h0.7v0.7h-0.7zM305.9 187.3h0.7v0.7h-0.7zM297.1 181.4h0.7v0.7h-0.7zM296.9 174.9h0.7v0.7h-0.7zM292.8 192.2h0.7v0.7h-0.7zM266.4 197h0.7v0.7h-0.7zM272.7 180.1h0.7v0.7h-0.7zM299 176.7h0.7v0.7h-0.7zM264.7 185.9h0.7v0.7h-0.7zM296.4 200.5h0.7v0.7h-0.7zM271 206.7h0.7v0.7h-0.7zM316.7 200.9h0.7v0.7h-0.7zM264.5 183.3h0.7v0.7h-0.7zM267.6 190.4h0.7v0.7h-0.7zM257.5 202h0.7v0.7h-0.7zM258.3 207.1h0.7v0.7h-0.7zM288.1 211.9h0.7v0.7h-0.7zM278.1 200.5h0.7v0.7h-0.7zM264.4 181.6h0.7v0.7h-0.7zM266.7 185.6h0.7v0.7h-0.7zM268.2 179.9h0.7v0.7h-0.7zM278.4 175.1h0.7v0.7h-0.7zM312.1 219.3h0.7v0.7h-0.7zM269.7 193.9h0.7v0.7h-0.7zM264 206h0.7v0.7h-0.7zM262.3 204.6h0.7v0.7h-0.7zM289.7 213.4h0.7v0.7h-0.7zM283.6 190h0.7v0.7h-0.7zM299.6 176.4h0.7v0.7h-0.7zM271.8 201.4h0.7v0.7h-0.7zM266.7 204.3h0.7v0.7h-0.7zM293.5 186.2h0.7v0.7h-0.7zM277.9 166.9h0.7v0.7h-0.7zM264.2 204h0.7v0.7h-0.7zM271.4 196.2h0.7v0.7h-0.7zM300.6 217h0.7v0.7h-0.7zM283.5 182.8h0.7v0.7h-0.7zM286 163.8h0.7v0.7h-0.7zM279.8 192h0.7v0.7h-0.7zM266.2 198.1h0.7v0.7h-0.7zM294 167.9h0.7v0.7h-0.7zM273.7 198.7h0.7v0.7h-0.7zM271.5 197.5h0.7v0.7h-0.7zM265.8 207.8h0.7v0.7h-0.7zM281.2 194.6h0.7v0.7h-0.7zM273.7 203h0.7v0.7h-0.7zM263.2 207.9h0.7v0.7h-0.7zM305.9 172.9h0.7v0.7h-0.7zM277.9 191.6h0.7v0.7h-0.7zM278.3 194.3h0.7v0.7h-0.7zM269 193h0.7v0.7h-0.7zM276.6 190.1h0.7v0.7h-0.7zM269.4 207.6h0.7v0.7h-0.7zM286.5 209.8h0.7v0.7h-0.7zM296.5 181.7h0.7v0.7h-0.7zM272.8 187.5h0.7v0.7h-0.7zM313.4 216.1h0.7v0.7h-0.7zM258 184.7h0.7v0.7h-0.7zM262.4 197.8h0.7v0.7h-0.7zM257.2 201.1h0.7v0.7h-0.7zM272.6 209.8h0.7v0.7h-0.7zM265 205h0.7v0.7h-0.7zM275.9 181.6h0.7v0.7h-0.7zM273.7 192.3h0.7v0.7h-0.7zM277.3 170.7h0.7v0.7h-0.7zM275.1 171.4h0.7v0.7h-0.7zM276.3 199h0.7v0.7h-0.7zM274.9 192.4h0.7v0.7h-0.7zM275.2 195.5h0.7v0.7h-0.7zM266.6 192h0.7v0.7h-0.7zM286.7 211.1h0.7v0.7h-0.7zM237.3 176h0.7v0.7h-0.7zM266.5 206.3h0.7v0.7h-0.7zM272.8 199.7h0.7v0.7h-0.7zM294.5 219.9h0.7v0.7h-0.7zM309.7 185h0.7v0.7h-0.7zM270 193.4h0.7v0.7h-0.7zM270.4 180h0.7v0.7h-0.7zM277.2 179.1h0.7v0.7h-0.7zM283.1 185h0.7v0.7h-0.7zM287.4 199.9h0.7v0.7h-0.7zM270.6 186.3h0.7v0.7h-0.7zM285.4 188.7h0.7v0.7h-0.7zM285.4 212.1h0.7v0.7h-0.7zM270.1 189.1h0.7v0.7h-0.7zM307.4 178.3h0.7v0.7h-0.7zM273.6 206.5h0.7v0.7h-0.7zM266.3 203.2h0.7v0.7h-0.7zM266.6 201.6h0.7v0.7h-0.7zM275.2 182.8h0.7v0.7h-0.7zM261 207h0.7v0.7h-0.7zM272.6 191.6h0.7v0.7h-0.7zM281.9 181.5h0.7v0.7h-0.7zM275.3 204.8h0.7v0.7h-0.7zM276.4 180.5h0.7v0.7h-0.7zM278.4 192.3h0.7v0.7h-0.7zM270.3 191.6h0.7v0.7h-0.7zM273.4 199.4h0.7v0.7h-0.7zM267.5 193.4h0.7v0.7h-0.7zM278.2 207.7h0.7v0.7h-0.7zM295.9 200.2h0.7v0.7h-0.7zM284.8 196.4h0.7v0.7h-0.7zM271.7 204.6h0.7v0.7h-0.7zM270.6 176.2h0.7v0.7h-0.7zM296 222.7h0.7v0.7h-0.7zM262 207.4h0.7v0.7h-0.7zM266.5 199.4h0.7v0.7h-0.7zM257.4 190.9h0.7v0.7h-0.7zM264 203.6h0.7v0.7h-0.7zM263.8 208.2h0.7v0.7h-0.7zM262.4 205.3h0.7v0.7h-0.7zM261.3 185.5h0.7v0.7h-0.7zM290.1 173.6h0.7v0.7h-0.7zM262.3 193.6h0.7v0.7h-0.7zM275.2 195.6h0.7v0.7h-0.7zM269.4 204.8h0.7v0.7h-0.7zM267.1 198.3h0.7v0.7h-0.7zM265.8 208.7h0.7v0.7h-0.7zM273.7 196.9h0.7v0.7h-0.7zM270.3 193.3h0.7v0.7h-0.7zM259.2 194.8h0.7v0.7h-0.7zM271.6 200.4h0.7v0.7h-0.7zM289.7 211.7h0.7v0.7h-0.7zM289.2 214h0.7v0.7h-0.7zM301.3 182.5h0.7v0.7h-0.7zM283 169.5h0.7v0.7h-0.7zM290 220h0.7v0.7h-0.7zM259.5 202.8h0.7v0.7h-0.7zM277.3 170.7h0.7v0.7h-0.7zM279.7 178.2h0.7v0.7h-0.7zM275.3 224.7h0.7v0.7h-0.7zM267.2 185.8h0.7v0.7h-0.7zM269.9 204.3h0.7v0.7h-0.7zM285 191.5h0.7v0.7h-0.7zM290.9 217.2h0.7v0.7h-0.7zM265.8 203.3h0.7v0.7h-0.7zM260.8 201h0.7v0.7h-0.7zM262.8 208.8h0.7v0.7h-0.7zM266 188.2h0.7v0.7h-0.7zM270 191.2h0.7v0.7h-0.7zM286.9 157.2h0.7v0.7h-0.7zM274.4 196.4h0.7v0.7h-0.7zM306.1 179.2h0.7v0.7h-0.7zM268.4 203.2h0.7v0.7h-0.7zM260 198.4h0.7v0.7h-0.7zM267.8 210.1h0.7v0.7h-0.7zM295.9 174.8h0.7v0.7h-0.7zM298.5 182.8h0.7v0.7h-0.7zM264.9 199.8h0.7v0.7h-0.7zM262.7 176h0.7v0.7h-0.7zM272.5 192.1h0.7v0.7h-0.7zM277.1 176.5h0.7v0.7h-0.7zM267.4 168.7h0.7v0.7h-0.7zM283.1 184.1h0.7v0.7h-0.7zM262.8 193.9h0.7v0.7h-0.7zM281.5 186.1h0.7v0.7h-0.7zM274.3 181h0.7v0.7h-0.7zM267.1 209.2h0.7v0.7h-0.7zM279.5 211.1h0.7v0.7h-0.7zM261.9 207.4h0.7v0.7h-0.7zM277.1 176.1h0.7v0.7h-0.7zM299.8 187.9h0.7v0.7h-0.7zM272.7 194.8h0.7v0.7h-0.7zM266.5 201.2h0.7v0.7h-0.7zM263.3 191.7h0.7v0.7h-0.7zM281 197.2h0.7v0.7h-0.7zM262.1 178.8h0.7v0.7h-0.7zM264.3 202.6h0.7v0.7h-0.7zM292.2 217h0.7v0.7h-0.7zM274.1 203.6h0.7v0.7h-0.7zM290.8 220h0.7v0.7h-0.7zM257.9 205.3h0.7v0.7h-0.7zM262.8 205.6h0.7v0.7h-0.7zM284.3 176.1h0.7v0.7h-0.7zM261.7 196.4h0.7v0.7h-0.7zM293.2 220.3h0.7v0.7h-0.7zM269.3 196.4h0.7v0.7h-0.7zM297.7 219.7h0.7v0.7h-0.7zM273.4 191.7h0.7v0.7h-0.7zM291.7 199.4h0.7v0.7h-0.7zM281.3 181.8h0.7v0.7h-0.7zM285.3 202.9h0.7v0.7h-0.7zM291.2 205.3h0.7v0.7h-0.7zM282.6 185.8h0.7v0.7h-0.7zM260.8 200.1h0.7v0.7h-0.7zM265.8 209.2h0.7v0.7h-0.7zM278.3 186.1h0.7v0.7h-0.7zM268.6 191.8h0.7v0.7h-0.7zM261.1 204.7h0.7v0.7h-0.7zM311.8 166.4h0.7v0.7h-0.7zM294.8 220.1h0.7v0.7h-0.7zM261.9 186h0.7v0.7h-0.7zM266 209.5h0.7v0.7h-0.7zM288 169.3h0.7v0.7h-0.7zM305 201.4h0.7v0.7h-0.7zM275.5 209.4h0.7v0.7h-0.7zM292.3 217.5h0.7v0.7h-0.7zM290.9 166h0.7v0.7h-0.7zM269.8 184.2h0.7v0.7h-0.7zM286.9 201h0.7v0.7h-0.7zM258 188.8h0.7v0.7h-0.7zM284.9 211.1h0.7v0.7h-0.7zM270.6 176.6h0.7v0.7h-0.7zM278 207.5h0.7v0.7h-0.7zM278.1 199.5h0.7v0.7h-0.7zM296.8 213.1h0.7v0.7h-0.7zM301.9 206.4h0.7v0.7h-0.7zM293.4 218h0.7v0.7h-0.7zM265.8 202.4h0.7v0.7h-0.7zM268.5 205.8h0.7v0.7h-0.7zM296.7 199.5h0.7v0.7h-0.7zM275.7 189.9h0.7v0.7h-0.7zM273.1 188.8h0.7v0.7h-0.7zM274.9 198.4h0.7v0.7h-0.7zM284.8 178.9h0.7v0.7h-0.7zM280.5 176.8h0.7v0.7h-0.7zM280.5 195.6h0.7v0.7h-0.7zM266.9 189h0.7v0.7h-0.7zM288.8 175.2h0.7v0.7h-0.7zM264 203.1h0.7v0.7h-0.7zM266.5 190.7h0.7v0.7h-0.7zM269.6 198.1h0.7v0.7h-0.7zM267.8 200.7h0.7v0.7h-0.7zM286.6 205.8h0.7v0.7h-0.7zM291.3 216.4h0.7v0.7h-0.7zM267.1 200h0.7v0.7h-0.7zM264.8 202.6h0.7v0.7h-0.7zM296.1 184.4h0.7v0.7h-0.7zM266.5 180.5h0.7v0.7h-0.7zM264.7 199.1h0.7v0.7h-0.7zM285.5 200.3h0.7v0.7h-0.7zM280.7 186.6h0.7v0.7h-0.7zM258.4 199.9h0.7v0.7h-0.7zM273.3 189.7h0.7v0.7h-0.7zM265.8 197.9h0.7v0.7h-0.7zM266.6 197h0.7v0.7h-0.7zM261.1 190.8h0.7v0.7h-0.7zM297 214.5h0.7v0.7h-0.7zM281.6 199.7h0.7v0.7h-0.7zM303.6 216.7h0.7v0.7h-0.7zM268.8 198.4h0.7v0.7h-0.7zM268.2 206.4h0.7v0.7h-0.7zM260.9 207.8h0.7v0.7h-0.7zM279.6 223.7h0.7v0.7h-0.7zM258.4 206.3h0.7v0.7h-0.7zM321.9 188.6h0.7v0.7h-0.7zM282.2 205.8h0.7v0.7h-0.7z" fill="#707070"/>
<path d="M246.7 188.5 247.2 188.5 247.7 189 248.3 191 248.7 194 249.1 201 249.2 204.8 248.3 211.2 248 217.8 248.4 218.5 249.2 219 254.2 219.4 255.7 219.8 256.6 220.2 256.8 220.5 256.6 221 255.9 221.5 255 221.8 252 222.2 247 222.3 245.5 221.8 244.8 220.8 245 217.8 244.7 214 244.6 205.5 245 196.2 245.5 191 246 189.3Z" fill="#333" fill-rule="evenodd"/>
<path d="M246.5 192.8 246.8 192.6 247 192.8 247.5 194.7 248.2 203 248.2 206.3 247.3 218 247.8 219 248.8 219.6 252.7 220 253.9 220.5 254 220.8 253.8 221 252.8 221.4 251 221.6 247 221.6 246 221.2 245.5 220.5 245.7 218 245.2 214 245.1 204.2 245.8 195.7 246 194.1Z" fill="#000" fill-rule="evenodd"/>
<path d="M247.4 157.8 248.8 157.5 250 157.7 251.2 158.2 252.5 159.2 253.6 160.5 254.6 162.2 255.9 166 256.3 168.5 256.4 171 255.9 179.2 256 194 256.6 200 257 202.1 257.8 204.1 258.2 204.8 259 205.3 262.5 205.8 264 206.2 265.5 206.9 268.1 208.5 269.5 209.1 281.2 211.1 284 211.9 286.5 213 287.8 213.8 288.7 214.8 289.3 215.8 289.6 216.8 289.5 217.8 289 218.8 288.2 219.7 287 220.6 285.2 221.5 283.2 222.2 277.2 223.3 266.8 223.8 258.8 224.7 249.5 224.9 246.5 225.5 245.2 225.2 242.2 223.4 241 222.5 240.4 221.8 240.1 221 240.2 220 240.6 219.2 242.1 217.8 242.4 216.2 242.2 212.4 241.6 207.5 241.4 204.8 241.7 184.8 241.7 178.2 241.2 171.8 241.3 168.5 242.1 164.8 243.4 161.5 245.2 159.1 246.2 158.3ZM247.6 159 249 158.8 250.5 159.2 251.8 160 253 161.4 254.1 163.2 254.9 165.2 255.4 167.5 255.6 170 255.6 172.8 255.1 178.5 255.1 188 255.3 195.8 256 205.2 256 207.5 255.6 209.5 254.6 211.2 253.5 212.2 251.2 213.5 250.8 214.1 250.4 215.2 250.5 216.2 251 216.6 251.8 216.6 254.7 216.2 255.6 215.8 257 214.3 258.2 213.4 260 212.6 262 212.2 271.5 211.2 276.5 211.3 279.8 211.9 282.8 212.6 285 213.6 286.6 214.8 287.5 216 287.6 217.5 287 218.8 285.5 220.1 284 220.8 282.2 221.4 277.2 222.4 274 222.7 266.2 222.8 258.5 224.1 249.5 224.5 246.8 224.9 245.8 224.8 244.8 224.4 242.1 222.8 241.1 221.8 240.8 221 240.8 220.2 241.2 219.5 242.5 217.9 242.8 216.5 242 204.8 242.5 183.2 242.4 178 241.9 171.8 242.1 168.8 242.8 165 244 162.2 245.8 160.1ZM248.6 159.8 249.8 159.9 251 160.4 252.2 161.5 253.1 162.8 253.9 164.2 254.6 166.2 255 168.2 255.1 170.5 254.6 178.2 254.5 186.2 254.7 196 255.2 204.2 255.1 206.8 254.7 208.8 253.9 210.2 253 211.3 251 212.7 250.5 213.3 250 215.2 250.2 216.5 250.5 216.8 251.5 217 255.3 216.8 256.8 216.2 259.5 214.6 262.2 213.7 271.2 212.1 273.8 212 276.2 212.1 279 212.5 281.8 213.2 283.8 214 285.3 215 286.1 216.2 286.2 217.5 285.5 218.8 284.2 219.8 281.2 220.9 276.8 221.8 273.5 222 266.2 222 264.5 222.3 260.8 223.4 258.2 223.8 254.5 224.1 249.2 224.3 246.8 224.6 245.5 224.4 244.5 223.9 242.5 222.6 241.7 221.8 241.3 221 241.3 220.2 242.8 218.1 243 216.8 242.4 204.5 243 182 243 177.8 242.5 171.8 242.6 168.8 243.3 165.2 244.8 162.3 246.5 160.5 247.5 160ZM248.4 160.5 249.5 160.5 250.8 161.1 251.8 161.9 252.8 163.1 253.6 164.8 254.2 166.5 254.7 170.5 254.2 178 254.1 185.8 254.6 206 254.2 208.2 253.4 209.8 252.5 210.9 250.8 212.2 250.2 213 249.8 215.5 250 216.8 250.5 217.1 251.5 217.2 256.3 217 258 216.5 261.5 215 268.5 213.3 272.5 212.6 276 212.6 278.5 213 281 213.6 282.8 214.3 284.1 215.2 284.9 216.2 285 217.5 284.4 218.5 283.2 219.4 280.8 220.4 277 221.2 273.5 221.5 266 221.4 264.2 221.8 260.5 223.1 258.2 223.6 247 224.4 245.8 224.2 244.5 223.7 242.8 222.5 241.9 221.5 241.7 220.8 241.7 220.2 243 218 243.2 216.8 242.6 204.2 242.9 192.8 243.4 180.8 243.4 177.5 242.9 172 242.9 169.2 243.6 166 244.8 163.2 245.5 162.2 246.5 161.3 247.5 160.7ZM247.8 161.2 249 161.1 250.2 161.4 251.2 162.1 252.2 163.2 253.1 164.8 253.8 166.5 254.2 168.2 254.4 170.5 253.8 179.2 253.8 189 254.2 203 254.2 205.8 253.8 207.8 253.1 209.2 252.2 210.4 250.5 211.9 250.1 212.8 249.7 215 249.8 216.8 250.2 217.2 251 217.4 257.2 217.2 259 216.8 262.5 215.6 270.2 213.6 273 213.1 275.8 213.1 280 213.9 281.8 214.6 283 215.4 283.7 216.2 283.9 217.2 283.4 218.2 282.5 219 279.8 220.1 275.8 220.9 272.8 221 267 220.7 265.2 220.9 259.5 223.1 257 223.6 254 223.8 246 224.1 243.8 223 242.8 222.2 242.2 221.5 242 221 242 220.2 243.1 218.2 243.3 217 242.8 202.8 243.1 192 243.7 184 243.8 179.5 243.2 172.2 243.3 169.2 243.8 166.5 244.8 164 246.2 162.2ZM248 161.8 249 161.6 250.2 162 251.2 162.7 252.1 163.8 252.9 165 253.5 166.8 254.1 170.5 253.4 179.2 253.4 188.8 253.9 202.8 253.8 205.5 253.5 207.2 252.9 208.8 252 210 250.5 211.4 250 212.3 249.5 215.2 249.5 216.5 249.7 217 250.2 217.4 251.2 217.5 256.5 217.5 259.5 217.3 261.5 216.9 270.8 214 273.2 213.6 275.5 213.5 279.2 214.2 280.8 214.8 282 215.5 282.6 216.2 282.8 217.2 282.4 218 281.5 218.8 278.8 219.9 275.2 220.5 272.8 220.6 267.2 220.1 265.2 220.1 264 220.6 261.7 222 259.8 222.8 257.5 223.3 254.5 223.7 246 223.9 244 223 242.5 221.5 242.3 221 242.3 220.2 243.2 218.3 243.5 217 243 206.2 243 201.5 243.3 191.5 244 184 244.2 179.5 244.1 177 243.5 172.2 243.6 169.5 244.1 166.8 245.1 164.2 246.5 162.6ZM247.7 162.5 248.8 162.3 249.8 162.4 250.8 163 251.8 164 252.5 165.2 253.1 166.8 253.5 168.5 253.7 170.5 253 179 253.1 188.5 253.4 205.2 253.1 207 252.5 208.5 251.8 209.5 250.2 211.1 249.8 212.2 249.3 215.5 249.5 217.1 250 217.5 250.8 217.7 259.5 217.9 263.8 218.2 266.4 216.5 269.8 215 272.5 214.3 275.2 214.1 278.2 214.6 279.8 215.2 280.7 215.8 281.3 216.5 281.3 217.2 280.9 218 280.2 218.5 279 219.1 277.2 219.6 273.8 220 270.5 219.8 264.2 218.6 263.8 218.9 262.3 221 260.8 222.1 258.5 222.9 255 223.5 246.2 223.8 244.2 222.9 242.8 221.5 242.6 221 242.6 220.2 243.4 218.2 243.6 217.2 243.2 205.5 243.3 197.8 243.6 190.5 244.4 183.8 244.5 180.2 244.5 177.2 243.9 172.2 243.9 169.8 244.4 167.2 245.2 165 246.3 163.5ZM248.5 163 249.2 163 250.2 163.4 251 164 251.8 165 252.9 167.8 253.3 171 252.6 178.8 253 205 252.7 206.8 252.2 208 250.2 210.4 249.8 211.4 249.2 214.3 249.2 217 249.6 217.5 250.5 217.8 257 218.1 259.8 218.4 261.3 219 261.8 219.5 261.9 220 261.5 221 260.7 221.8 259.5 222.3 258 222.8 254 223.4 246.8 223.7 245.5 223.4 244 222.5 243.1 221.5 242.8 220.5 243.7 217.5 243.4 205.2 243.6 195 243.9 190 244.8 183.8 245 180.2 244.9 177.2 244.3 172.2 244.3 169.8 244.8 167.2 245.8 165.1 247 163.6ZM272.9 215 275.2 214.9 277.5 215.3 279.2 216.2 279.5 216.8 279.5 217.2 278.9 218 277.8 218.6 276.2 219.1 274.5 219.3 272.8 219.2 271 218.9 269.5 218.4 268.8 217.8 268.8 217 269.7 216.2 271.1 215.5ZM248.6 164 249.5 164.1 250.2 164.5 251.5 165.9 252.4 168.2 252.8 171 251.9 178.8 252.4 204.5 251.8 207.2 250 209.9 249.5 211.1 249.1 213.8 249 217 249.5 217.8 250.1 218 256.2 218.4 259 218.8 260.4 219.5 260.7 220 260.8 220.5 260.4 221.2 259.8 221.8 257.2 222.7 253.5 223.2 247 223.4 245.7 223.2 244.5 222.5 243.7 221.8 243.2 220.8 244 217.5 243.6 206.5 243.7 201.2 244.1 190.5 245.4 183.2 245.7 180 245.6 177.2 244.9 172.2 244.9 169.5 245.4 167.5 246.2 165.6 247.2 164.5ZM273.8 216.7 274.8 216.6 275.5 217 275 217.5 274 217.5 273.5 217.2 273.5 217ZM248.2 165 249 164.9 249.8 165.2 251 166.3 251.9 168.5 252.2 171 252.1 172.8 251.4 176.8 251.2 178.8 251.8 204.2 251.4 206.5 249.8 209.4 249.2 211 248.9 213.2 248.8 217 249.1 217.8 250 218.2 255.5 218.5 258.2 219 259.7 219.8 260 220.5 259.6 221.2 258.5 222 256.8 222.5 254.5 222.9 246.2 223.1 244.5 222.2 243.8 221.5 243.6 220.8 244.1 217.5 243.8 205 244.2 192.5 244.7 188.5 246 183 246.3 179.5 246.2 177 245.4 172.5 245.4 170.2 245.7 168.2 246.3 166.8 247.2 165.6ZM248 166 249.2 165.9 250.5 166.8 251.4 168.5 251.7 171 251.6 173 250.7 176.8 250.5 178.5 251.3 204 250.9 206 249.5 209.2 249.1 210.8 248.8 213.5 248.6 217 248.8 217.8 249.5 218.3 256.8 219 258.5 219.5 259.3 220.2 259.2 221 258.3 221.8 256.8 222.3 254.5 222.7 251.5 222.9 246.2 222.9 245.2 222.5 244.5 222 243.8 220.8 244.3 217.8 244 205 244.4 192.2 245.1 188 246.7 183 247.1 179.2 247 177 246 172.8 245.9 170.2 246.2 168.8 246.6 167.5 247.2 166.6ZM248.6 166.8 249.5 166.9 250.5 168 251.1 169.5 251.2 171.2 250.9 173.8 249.5 177.5 249.3 178.5 249.7 182.2 250.7 203 250.5 205.5 249.2 209.1 248.9 210.8 248.5 217.2 248.8 218 249.5 218.4 256.5 219.1 258.2 219.8 258.8 220.5 258.6 221 258.1 221.5 255.8 222.3 252.5 222.7 247 222.8 246 222.7 245.1 222.2 244.4 221.5 244 220.8 244.5 217.8 244.1 207.5 244.2 202.5 244.5 193.5 244.9 189.8 245.8 186.9 247.5 183.5 248.3 179 248.1 177.5 246.6 173.2 246.4 171.8 246.4 170.2 246.7 168.8 247.2 167.8 247.8 167.2ZM248.7 169 249.2 169.2 249.7 169.8 250 171.2 249.5 173 248.8 173.5 248 172.8 247.6 171.2 248 169.6ZM247 187 247.5 187 248 187.4 248.4 188.2 248.8 189.8 249.2 193 249.7 201 249.7 205 248.5 211.5 248.2 217.6 248.8 218.4 249.5 218.8 255 219.2 256.8 219.7 257.5 220.2 257.7 220.8 257.3 221.2 255.5 222 252 222.5 246.8 222.5 245.2 221.9 244.8 221.4 244.4 220.8 244.7 217.8 244.5 214 244.4 204.8 244.9 193.8 245.5 189.2 246.2 187.6ZM246.7 188.5 247.2 188.5 247.7 189 248.3 191 248.7 194 249.1 201 249.2 204.8 248.3 211.2 248 217.8 248.4 218.5 249.2 219 254.2 219.4 255.7 219.8 256.6 220.2 256.8 220.5 256.6 221 255.9 221.5 255 221.8 252 222.2 247 222.3 245.5 221.8 244.8 220.8 245 217.8 244.7 214 244.6 205.5 245 196.2 245.5 191 246 189.3ZM246.5 191.5 246.8 191.4 247.1 191.8 247.6 193.5 248.4 202.5 248.4 205.8 247.5 218 247.9 218.8 248.8 219.4 253 219.8 254 220.1 254.7 220.5 254.6 221 253.3 221.5 251.2 221.8 247 221.8 246 221.5 245.3 220.5 245.5 218 245.1 213.8 245.1 203 245.7 194.5 246 192.6ZM246.5 195.8 246.8 195.7 246.9 196 247.2 197.3 247.7 201.2 247.9 204.8 247.3 215 247 216.5 246.5 217.8 246 217 245.6 215 245.4 207 245.8 199.7 246 197.5ZM246.5 218.2 247.5 219.2 248.5 220 251.5 220.4 251.9 220.8 251 221.1 247.8 221.3 246.5 221.1 246 220.5 245.9 220 246 219.3ZM246.4 201.2 246.5 201 246.8 201.1 247 201.9 247.3 205.5 246.8 213.8 246.5 215 246.3 214.9 246 213.6 245.8 207.2 246 203.4Z" fill="none" stroke="#1a1a1a" stroke-width="0.45" stroke-linejoin="round"/>
<path d="M242.9 186.6h0.6v0.6h-0.6zM241 165.7h0.6v0.6h-0.6zM253.6 201.7h0.6v0.6h-0.6zM248.8 181.7h0.6v0.6h-0.6zM247.7 175.8h0.6v0.6h-0.6zM249.7 159.4h0.6v0.6h-0.6zM253.6 171h0.6v0.6h-0.6zM250.4 187.5h0.6v0.6h-0.6zM248.5 171h0.6v0.6h-0.6zM245 158.4h0.6v0.6h-0.6zM248.5 187h0.6v0.6h-0.6zM256.8 172.3h0.6v0.6h-0.6zM249.5 201.3h0.6v0.6h-0.6zM247.9 193h0.6v0.6h-0.6zM255 194.6h0.6v0.6h-0.6zM240.5 203.6h0.6v0.6h-0.6zM240.6 199.3h0.6v0.6h-0.6zM253.3 173.6h0.6v0.6h-0.6zM256 186.4h0.6v0.6h-0.6zM240.4 169.8h0.6v0.6h-0.6zM239.9 166.8h0.6v0.6h-0.6zM239.7 167h0.6v0.6h-0.6zM249.6 161.9h0.6v0.6h-0.6zM241.9 168.8h0.6v0.6h-0.6zM249.3 168h0.6v0.6h-0.6zM251.1 192h0.6v0.6h-0.6zM239.8 169.5h0.6v0.6h-0.6zM254.7 158.5h0.6v0.6h-0.6zM243.9 178.6h0.6v0.6h-0.6zM249.2 166.8h0.6v0.6h-0.6zM245.7 192.9h0.6v0.6h-0.6zM245.5 167.9h0.6v0.6h-0.6zM246.6 185.8h0.6v0.6h-0.6zM239.6 165.4h0.6v0.6h-0.6zM247 181.8h0.6v0.6h-0.6zM244.1 202.4h0.6v0.6h-0.6zM245.8 172.2h0.6v0.6h-0.6zM242.4 184.2h0.6v0.6h-0.6zM245.4 179.5h0.6v0.6h-0.6zM251.7 159.7h0.6v0.6h-0.6zM256.7 157.1h0.6v0.6h-0.6zM242.9 201.1h0.6v0.6h-0.6zM254.7 174.2h0.6v0.6h-0.6zM250.3 192.7h0.6v0.6h-0.6zM241.3 178.1h0.6v0.6h-0.6zM239.8 200.8h0.6v0.6h-0.6zM255 166.4h0.6v0.6h-0.6zM243.6 181.9h0.6v0.6h-0.6zM241.4 185.3h0.6v0.6h-0.6zM251 198.5h0.6v0.6h-0.6zM251.9 157.6h0.6v0.6h-0.6zM255.2 175.4h0.6v0.6h-0.6zM248.3 181.4h0.6v0.6h-0.6zM245 187.5h0.6v0.6h-0.6zM245.1 163.6h0.6v0.6h-0.6zM243.1 185.1h0.6v0.6h-0.6zM250.6 193.1h0.6v0.6h-0.6zM256 195.2h0.6v0.6h-0.6zM241 168h0.6v0.6h-0.6zM246.3 179.6h0.6v0.6h-0.6zM245.7 171.9h0.6v0.6h-0.6zM240.9 176.7h0.6v0.6h-0.6zM249.9 175.4h0.6v0.6h-0.6zM256.7 206.6h0.6v0.6h-0.6zM244.3 156.7h0.6v0.6h-0.6zM252.2 206.7h0.6v0.6h-0.6zM255.3 157.8h0.6v0.6h-0.6zM244.2 160.2h0.6v0.6h-0.6zM255.6 167h0.6v0.6h-0.6zM252.6 171.3h0.6v0.6h-0.6zM250.8 201.9h0.6v0.6h-0.6zM242.9 201h0.6v0.6h-0.6zM244.4 206h0.6v0.6h-0.6zM241.3 176.9h0.6v0.6h-0.6zM255.2 156.8h0.6v0.6h-0.6zM253.7 189.5h0.6v0.6h-0.6zM241 204.1h0.6v0.6h-0.6zM248.8 161.7h0.6v0.6h-0.6zM243.2 200.3h0.6v0.6h-0.6zM252.9 156.1h0.6v0.6h-0.6zM249.5 195.2h0.6v0.6h-0.6zM256 182.4h0.6v0.6h-0.6zM252.2 204.6h0.6v0.6h-0.6zM241.3 202.8h0.6v0.6h-0.6zM246 158.5h0.6v0.6h-0.6zM249.6 182.7h0.6v0.6h-0.6zM255.5 169h0.6v0.6h-0.6zM246 179.5h0.6v0.6h-0.6zM242.8 159.5h0.6v0.6h-0.6zM244.5 175.3h0.6v0.6h-0.6zM243.8 177.9h0.6v0.6h-0.6zM242.2 156.2h0.6v0.6h-0.6zM245.5 181.4h0.6v0.6h-0.6zM243.9 203.9h0.6v0.6h-0.6zM248.4 159.3h0.6v0.6h-0.6zM255.1 206.5h0.6v0.6h-0.6zM256.2 182.2h0.6v0.6h-0.6zM242.3 167.3h0.6v0.6h-0.6zM249.5 207.8h0.6v0.6h-0.6zM251.3 181.3h0.6v0.6h-0.6zM242.2 179.4h0.6v0.6h-0.6zM248.8 176.1h0.6v0.6h-0.6zM243 203.2h0.6v0.6h-0.6zM245.9 163h0.6v0.6h-0.6zM245.2 167.3h0.6v0.6h-0.6zM253.8 171.2h0.6v0.6h-0.6zM243.6 159.3h0.6v0.6h-0.6zM249 201.2h0.6v0.6h-0.6zM249.7 182.1h0.6v0.6h-0.6zM245.3 188.2h0.6v0.6h-0.6zM255.8 203.4h0.6v0.6h-0.6zM245.3 182.5h0.6v0.6h-0.6zM245.2 170.8h0.6v0.6h-0.6zM251.6 184.4h0.6v0.6h-0.6zM248 182.8h0.6v0.6h-0.6zM252.2 172h0.6v0.6h-0.6zM242.2 168.4h0.6v0.6h-0.6zM242.1 175.1h0.6v0.6h-0.6zM252.4 195.3h0.6v0.6h-0.6zM246.3 164.8h0.6v0.6h-0.6zM254.5 209.3h0.6v0.6h-0.6zM243.6 168.6h0.6v0.6h-0.6zM243.7 170.6h0.6v0.6h-0.6zM254.6 162.6h0.6v0.6h-0.6zM245.8 177h0.6v0.6h-0.6zM241.4 175.9h0.6v0.6h-0.6zM243.4 192.5h0.6v0.6h-0.6zM253 203.9h0.6v0.6h-0.6zM244.1 169.3h0.6v0.6h-0.6zM249.2 199.3h0.6v0.6h-0.6zM254.1 172.5h0.6v0.6h-0.6zM250.2 177.8h0.6v0.6h-0.6zM252.7 162.9h0.6v0.6h-0.6zM256.6 203.8h0.6v0.6h-0.6zM244.7 176h0.6v0.6h-0.6zM254.8 193.5h0.6v0.6h-0.6zM249.1 157.4h0.6v0.6h-0.6zM243 193.3h0.6v0.6h-0.6zM241.8 168.1h0.6v0.6h-0.6zM245.2 180.2h0.6v0.6h-0.6zM241.9 192h0.6v0.6h-0.6zM253 165.1h0.6v0.6h-0.6zM249.3 184.2h0.6v0.6h-0.6zM240.3 200.7h0.6v0.6h-0.6zM254.9 164.7h0.6v0.6h-0.6zM249.9 181h0.6v0.6h-0.6zM247.3 165.8h0.6v0.6h-0.6zM242 163.7h0.6v0.6h-0.6zM247.7 182.2h0.6v0.6h-0.6zM255.6 180.4h0.6v0.6h-0.6zM249.7 190.4h0.6v0.6h-0.6zM247.5 201.9h0.6v0.6h-0.6zM250.1 193.8h0.6v0.6h-0.6zM249.1 174h0.6v0.6h-0.6zM250.4 182h0.6v0.6h-0.6zM243 192h0.6v0.6h-0.6zM242.1 200.9h0.6v0.6h-0.6zM239.7 192.5h0.6v0.6h-0.6zM254.1 182.9h0.6v0.6h-0.6zM239.6 163.1h0.6v0.6h-0.6zM244 202.5h0.6v0.6h-0.6zM249.7 171.1h0.6v0.6h-0.6zM248.2 177.7h0.6v0.6h-0.6zM255.3 203.3h0.6v0.6h-0.6zM243.2 167.1h0.6v0.6h-0.6zM241.5 204.9h0.6v0.6h-0.6zM242.3 168.3h0.6v0.6h-0.6zM248.2 160.7h0.6v0.6h-0.6zM244.6 183.5h0.6v0.6h-0.6zM247.5 198.5h0.6v0.6h-0.6zM251.5 177.5h0.6v0.6h-0.6zM245.1 201.1h0.6v0.6h-0.6zM251.1 177.2h0.6v0.6h-0.6zM239.8 199.6h0.6v0.6h-0.6zM249.1 162h0.6v0.6h-0.6zM255.4 171.2h0.6v0.6h-0.6zM255.8 162.6h0.6v0.6h-0.6zM249.5 195.6h0.6v0.6h-0.6zM256.7 181.1h0.6v0.6h-0.6zM243.6 191.1h0.6v0.6h-0.6zM244.7 168.8h0.6v0.6h-0.6zM247.3 195.3h0.6v0.6h-0.6zM248.4 209.1h0.6v0.6h-0.6zM253.8 160.2h0.6v0.6h-0.6zM247.3 173.1h0.6v0.6h-0.6zM240.3 202.5h0.6v0.6h-0.6zM251.7 201.6h0.6v0.6h-0.6zM243.4 202.7h0.6v0.6h-0.6zM254.9 168.1h0.6v0.6h-0.6zM243.2 186.1h0.6v0.6h-0.6zM244.7 160.6h0.6v0.6h-0.6zM241.9 179.1h0.6v0.6h-0.6zM244.8 186.8h0.6v0.6h-0.6zM250 169.8h0.6v0.6h-0.6zM244.2 178.6h0.6v0.6h-0.6zM240.3 175.6h0.6v0.6h-0.6zM249.8 160.5h0.6v0.6h-0.6zM252.4 159.7h0.6v0.6h-0.6zM241.4 197.8h0.6v0.6h-0.6zM246.9 156.2h0.6v0.6h-0.6zM240.7 208.8h0.6v0.6h-0.6zM239.8 204h0.6v0.6h-0.6zM246.1 208.8h0.6v0.6h-0.6zM244.5 198h0.6v0.6h-0.6zM254.8 156.1h0.6v0.6h-0.6zM239.7 162.2h0.6v0.6h-0.6zM250.8 173h0.6v0.6h-0.6zM252.3 165.7h0.6v0.6h-0.6zM246.8 159.2h0.6v0.6h-0.6zM248.3 205.1h0.6v0.6h-0.6zM243.8 204.7h0.6v0.6h-0.6zM243.9 197h0.6v0.6h-0.6zM240.4 169.5h0.6v0.6h-0.6zM255.4 201.6h0.6v0.6h-0.6zM240 199.8h0.6v0.6h-0.6zM241.9 173.3h0.6v0.6h-0.6zM252.2 162.8h0.6v0.6h-0.6zM247.5 163.3h0.6v0.6h-0.6zM248.5 177.9h0.6v0.6h-0.6zM244.7 200.5h0.6v0.6h-0.6zM242.3 160.1h0.6v0.6h-0.6zM253.5 179h0.6v0.6h-0.6zM241.7 175h0.6v0.6h-0.6zM244.7 203.7h0.6v0.6h-0.6zM252.7 164.2h0.6v0.6h-0.6zM244.7 191.1h0.6v0.6h-0.6zM256.1 173.3h0.6v0.6h-0.6zM242.6 190.6h0.6v0.6h-0.6zM248.7 200h0.6v0.6h-0.6zM248.9 200.1h0.6v0.6h-0.6zM248.3 201.2h0.6v0.6h-0.6zM253.1 171.7h0.6v0.6h-0.6zM240.3 170.8h0.6v0.6h-0.6zM249.1 162.6h0.6v0.6h-0.6zM253.3 169.7h0.6v0.6h-0.6zM240.4 162.4h0.6v0.6h-0.6zM249.1 197.9h0.6v0.6h-0.6zM247.2 158.5h0.6v0.6h-0.6zM246.6 166.3h0.6v0.6h-0.6zM248.9 198.3h0.6v0.6h-0.6zM250.4 197.1h0.6v0.6h-0.6zM251.8 208.1h0.6v0.6h-0.6zM255.2 176.5h0.6v0.6h-0.6zM251 158.4h0.6v0.6h-0.6zM257 199.2h0.6v0.6h-0.6zM251.1 171.3h0.6v0.6h-0.6zM244.2 197.4h0.6v0.6h-0.6zM242.1 157h0.6v0.6h-0.6zM240.7 157.9h0.6v0.6h-0.6zM244.2 188h0.6v0.6h-0.6zM241.6 192.6h0.6v0.6h-0.6zM251.5 186.1h0.6v0.6h-0.6zM251.6 184.5h0.6v0.6h-0.6zM250.2 187.9h0.6v0.6h-0.6zM246.2 163h0.6v0.6h-0.6zM247.6 159.4h0.6v0.6h-0.6zM244 174.7h0.6v0.6h-0.6zM255.6 185.3h0.6v0.6h-0.6zM239.8 169.3h0.6v0.6h-0.6zM245.1 165.6h0.6v0.6h-0.6z" fill="#9a9a9a"/>
<path d="M379.4 208.2h0.7v0.7h-0.7zM415.9 216.2h0.7v0.7h-0.7zM403.2 191.6h0.7v0.7h-0.7zM390.3 198.1h0.7v0.7h-0.7zM384.2 197.6h0.7v0.7h-0.7zM377.4 199.9h0.7v0.7h-0.7zM385.7 177.3h0.7v0.7h-0.7zM380.9 184.8h0.7v0.7h-0.7zM384.4 201.5h0.7v0.7h-0.7zM387.4 205.2h0.7v0.7h-0.7zM403.4 187h0.7v0.7h-0.7zM398 221.2h0.7v0.7h-0.7zM391.6 189.9h0.7v0.7h-0.7zM379.8 188.1h0.7v0.7h-0.7zM383.7 202.3h0.7v0.7h-0.7zM395.5 196h0.7v0.7h-0.7zM380.9 155.9h0.7v0.7h-0.7zM414.1 180h0.7v0.7h-0.7zM404.9 195.3h0.7v0.7h-0.7zM387.4 195.3h0.7v0.7h-0.7zM413 214.2h0.7v0.7h-0.7zM393.8 201.1h0.7v0.7h-0.7zM384.6 193.7h0.7v0.7h-0.7zM385.8 223.4h0.7v0.7h-0.7zM394.3 196.1h0.7v0.7h-0.7zM405.8 212.8h0.7v0.7h-0.7zM382.1 197.1h0.7v0.7h-0.7zM386.6 199.6h0.7v0.7h-0.7zM382.3 191.8h0.7v0.7h-0.7zM380.5 205.2h0.7v0.7h-0.7zM399.3 198h0.7v0.7h-0.7zM406.7 211h0.7v0.7h-0.7zM377.9 202h0.7v0.7h-0.7zM385.6 186.4h0.7v0.7h-0.7zM408.8 203.5h0.7v0.7h-0.7zM384.3 204.2h0.7v0.7h-0.7zM380.4 201.5h0.7v0.7h-0.7zM389 196.2h0.7v0.7h-0.7zM396.1 194.5h0.7v0.7h-0.7zM381 177.1h0.7v0.7h-0.7zM378.9 172.2h0.7v0.7h-0.7zM383.7 196.7h0.7v0.7h-0.7zM377.3 182.2h0.7v0.7h-0.7zM410.9 214.9h0.7v0.7h-0.7zM389 204.4h0.7v0.7h-0.7zM394 196h0.7v0.7h-0.7zM386.6 205.8h0.7v0.7h-0.7zM385.6 181.7h0.7v0.7h-0.7zM376 203.2h0.7v0.7h-0.7zM415.7 218.4h0.7v0.7h-0.7zM388.7 206.6h0.7v0.7h-0.7zM428 221.4h0.7v0.7h-0.7zM398.9 207.7h0.7v0.7h-0.7zM404.7 217.1h0.7v0.7h-0.7zM380.2 206.3h0.7v0.7h-0.7zM387.8 173.7h0.7v0.7h-0.7zM395 209h0.7v0.7h-0.7zM400.1 187.6h0.7v0.7h-0.7zM427.8 199.6h0.7v0.7h-0.7zM389.9 198.4h0.7v0.7h-0.7zM403.3 167h0.7v0.7h-0.7zM394.9 209h0.7v0.7h-0.7zM385.9 206h0.7v0.7h-0.7zM410.1 199.4h0.7v0.7h-0.7zM381.6 176.7h0.7v0.7h-0.7zM384.9 203.8h0.7v0.7h-0.7zM379.3 194.6h0.7v0.7h-0.7zM381.5 207.7h0.7v0.7h-0.7zM398 187.7h0.7v0.7h-0.7zM378.9 205.6h0.7v0.7h-0.7zM393.2 181h0.7v0.7h-0.7zM393.9 188.7h0.7v0.7h-0.7zM385.6 178.3h0.7v0.7h-0.7zM386.9 171.5h0.7v0.7h-0.7zM393.7 195.6h0.7v0.7h-0.7zM391.5 193.1h0.7v0.7h-0.7zM405.9 211h0.7v0.7h-0.7zM397.3 194.3h0.7v0.7h-0.7zM397.3 193.5h0.7v0.7h-0.7zM388.6 197.6h0.7v0.7h-0.7zM380.7 187.6h0.7v0.7h-0.7zM385.7 203.2h0.7v0.7h-0.7zM389.3 196.9h0.7v0.7h-0.7zM395.3 194.7h0.7v0.7h-0.7zM389.1 200.3h0.7v0.7h-0.7zM425.3 213.1h0.7v0.7h-0.7zM373.6 199.4h0.7v0.7h-0.7zM380.5 179.6h0.7v0.7h-0.7zM411.7 208.4h0.7v0.7h-0.7zM409.5 214.2h0.7v0.7h-0.7zM414.9 179.1h0.7v0.7h-0.7zM394.8 171.2h0.7v0.7h-0.7zM402 206.8h0.7v0.7h-0.7zM380.1 202.7h0.7v0.7h-0.7zM400.1 190.5h0.7v0.7h-0.7zM387.9 205.3h0.7v0.7h-0.7zM393.7 176.7h0.7v0.7h-0.7zM381 192.3h0.7v0.7h-0.7zM424.6 207.1h0.7v0.7h-0.7zM396.9 208h0.7v0.7h-0.7zM409.8 205.9h0.7v0.7h-0.7zM377.3 194.5h0.7v0.7h-0.7zM393.6 183.5h0.7v0.7h-0.7zM395.6 191.5h0.7v0.7h-0.7zM381.9 203.5h0.7v0.7h-0.7zM387.6 206.6h0.7v0.7h-0.7zM378.8 183.7h0.7v0.7h-0.7zM392.3 182.9h0.7v0.7h-0.7zM409 176.3h0.7v0.7h-0.7zM394.9 186h0.7v0.7h-0.7zM396.1 202.5h0.7v0.7h-0.7zM383.9 203.2h0.7v0.7h-0.7zM392.9 190.2h0.7v0.7h-0.7zM382.7 195.7h0.7v0.7h-0.7zM390.9 203.1h0.7v0.7h-0.7zM387.7 178.8h0.7v0.7h-0.7zM376.7 179.5h0.7v0.7h-0.7zM410.5 213.6h0.7v0.7h-0.7zM376.9 182h0.7v0.7h-0.7zM376.4 205.9h0.7v0.7h-0.7zM402 181.5h0.7v0.7h-0.7zM390.3 207h0.7v0.7h-0.7zM393 201.1h0.7v0.7h-0.7zM396.8 191.7h0.7v0.7h-0.7zM384.6 205.4h0.7v0.7h-0.7zM393.5 196.2h0.7v0.7h-0.7zM384.9 203.6h0.7v0.7h-0.7zM388.2 206.6h0.7v0.7h-0.7zM385.5 202.4h0.7v0.7h-0.7zM388.4 204.1h0.7v0.7h-0.7zM380.3 204.7h0.7v0.7h-0.7zM395.8 206.3h0.7v0.7h-0.7zM378.1 205.3h0.7v0.7h-0.7zM390.4 206.5h0.7v0.7h-0.7zM387.8 207.9h0.7v0.7h-0.7zM411.7 222.3h0.7v0.7h-0.7zM373.4 192h0.7v0.7h-0.7zM403.7 211.8h0.7v0.7h-0.7zM382.4 180.5h0.7v0.7h-0.7zM396.1 189.5h0.7v0.7h-0.7zM375.1 185.4h0.7v0.7h-0.7zM373.3 185.5h0.7v0.7h-0.7zM413.1 217.6h0.7v0.7h-0.7zM393.1 198.7h0.7v0.7h-0.7zM379.2 207.4h0.7v0.7h-0.7zM404.7 209.4h0.7v0.7h-0.7zM376 198.4h0.7v0.7h-0.7zM412.7 214.5h0.7v0.7h-0.7zM385.6 179.4h0.7v0.7h-0.7zM402.4 198.4h0.7v0.7h-0.7zM383.4 192.7h0.7v0.7h-0.7zM406.5 191.8h0.7v0.7h-0.7zM373.5 198.2h0.7v0.7h-0.7zM404.7 215.1h0.7v0.7h-0.7zM398 210.3h0.7v0.7h-0.7zM398.3 200h0.7v0.7h-0.7zM415.3 214.9h0.7v0.7h-0.7zM396.7 205.3h0.7v0.7h-0.7zM392.7 204.7h0.7v0.7h-0.7zM400.7 220.5h0.7v0.7h-0.7zM391.8 189.5h0.7v0.7h-0.7zM384.1 200.2h0.7v0.7h-0.7zM380.1 203.4h0.7v0.7h-0.7zM403.2 198.5h0.7v0.7h-0.7zM397.5 207.1h0.7v0.7h-0.7zM384.1 201h0.7v0.7h-0.7zM378 192h0.7v0.7h-0.7zM423 161.7h0.7v0.7h-0.7zM404.7 195.5h0.7v0.7h-0.7zM396.4 224.3h0.7v0.7h-0.7zM400 176.8h0.7v0.7h-0.7zM424.6 176.4h0.7v0.7h-0.7zM379 205.2h0.7v0.7h-0.7zM384.9 194.1h0.7v0.7h-0.7zM406 223.8h0.7v0.7h-0.7zM396.8 209.4h0.7v0.7h-0.7zM390.2 174h0.7v0.7h-0.7zM379.6 208.1h0.7v0.7h-0.7zM388.3 189.5h0.7v0.7h-0.7zM387.7 205.7h0.7v0.7h-0.7zM416.5 175h0.7v0.7h-0.7zM388.6 193.3h0.7v0.7h-0.7zM392.6 190.1h0.7v0.7h-0.7zM387.8 199.1h0.7v0.7h-0.7zM412.3 219h0.7v0.7h-0.7zM399 170.7h0.7v0.7h-0.7zM391.4 177.9h0.7v0.7h-0.7zM382 178.4h0.7v0.7h-0.7zM412.7 187.6h0.7v0.7h-0.7zM387.4 204.1h0.7v0.7h-0.7zM401.4 188h0.7v0.7h-0.7zM404.3 192h0.7v0.7h-0.7zM415.4 195.6h0.7v0.7h-0.7zM394.9 170.3h0.7v0.7h-0.7zM423.2 216.1h0.7v0.7h-0.7zM398.6 190.5h0.7v0.7h-0.7zM393.2 206.2h0.7v0.7h-0.7zM393.4 190.1h0.7v0.7h-0.7zM396.2 207.2h0.7v0.7h-0.7zM380.9 191.2h0.7v0.7h-0.7zM400.1 207.7h0.7v0.7h-0.7zM383.4 203.7h0.7v0.7h-0.7zM394.1 202.6h0.7v0.7h-0.7zM412.7 220.1h0.7v0.7h-0.7zM395.6 203.1h0.7v0.7h-0.7zM387.6 194h0.7v0.7h-0.7zM384 183.9h0.7v0.7h-0.7zM402.7 211.6h0.7v0.7h-0.7zM380.1 203.8h0.7v0.7h-0.7zM408.1 197.4h0.7v0.7h-0.7zM406.8 178.3h0.7v0.7h-0.7zM374.7 200.7h0.7v0.7h-0.7zM412.4 187.6h0.7v0.7h-0.7zM400.7 204.9h0.7v0.7h-0.7zM396.4 193.4h0.7v0.7h-0.7zM379.3 179.6h0.7v0.7h-0.7zM382.4 197.7h0.7v0.7h-0.7zM383.1 170.8h0.7v0.7h-0.7zM406.8 185.6h0.7v0.7h-0.7zM402.9 188.1h0.7v0.7h-0.7zM408.3 181.5h0.7v0.7h-0.7zM385.8 207.7h0.7v0.7h-0.7zM397.1 197.5h0.7v0.7h-0.7zM391.4 206.4h0.7v0.7h-0.7zM399.1 195.5h0.7v0.7h-0.7zM384.1 183.3h0.7v0.7h-0.7zM388.4 201.6h0.7v0.7h-0.7zM418.2 186.7h0.7v0.7h-0.7zM392.5 180.7h0.7v0.7h-0.7zM403.2 196.3h0.7v0.7h-0.7zM382.7 204h0.7v0.7h-0.7zM378.2 207.1h0.7v0.7h-0.7zM424.1 169h0.7v0.7h-0.7zM404.1 218.3h0.7v0.7h-0.7zM432.4 182h0.7v0.7h-0.7zM377.2 205h0.7v0.7h-0.7zM421.6 216.2h0.7v0.7h-0.7zM413 199.1h0.7v0.7h-0.7zM390.4 197.7h0.7v0.7h-0.7zM381 195.6h0.7v0.7h-0.7zM396.4 175.6h0.7v0.7h-0.7zM406 208.6h0.7v0.7h-0.7zM392.9 208.4h0.7v0.7h-0.7zM399.5 198.1h0.7v0.7h-0.7zM380.4 204.7h0.7v0.7h-0.7zM389 208.4h0.7v0.7h-0.7zM386.3 203.8h0.7v0.7h-0.7zM383.7 208.1h0.7v0.7h-0.7zM382.8 198.6h0.7v0.7h-0.7zM384.3 207.5h0.7v0.7h-0.7zM378.5 205.5h0.7v0.7h-0.7zM386.4 201.8h0.7v0.7h-0.7zM377.7 188h0.7v0.7h-0.7zM389.5 203.1h0.7v0.7h-0.7zM396.3 186h0.7v0.7h-0.7zM385.7 200.1h0.7v0.7h-0.7zM377.8 205.8h0.7v0.7h-0.7zM417.9 220.9h0.7v0.7h-0.7zM392.9 192.3h0.7v0.7h-0.7zM391.9 199.3h0.7v0.7h-0.7zM396.1 181.8h0.7v0.7h-0.7zM378.4 179.9h0.7v0.7h-0.7zM376.2 193.8h0.7v0.7h-0.7zM405.9 225.1h0.7v0.7h-0.7zM386.3 205.1h0.7v0.7h-0.7zM416.1 213.4h0.7v0.7h-0.7zM406.1 219.5h0.7v0.7h-0.7zM410.3 217.4h0.7v0.7h-0.7zM386.4 179.7h0.7v0.7h-0.7zM388.4 187.7h0.7v0.7h-0.7zM409.4 215.5h0.7v0.7h-0.7zM395.8 175.2h0.7v0.7h-0.7zM414 175.8h0.7v0.7h-0.7zM373.4 195.1h0.7v0.7h-0.7zM397.3 180.6h0.7v0.7h-0.7zM401.2 186.5h0.7v0.7h-0.7zM377.2 199.3h0.7v0.7h-0.7zM386.4 198h0.7v0.7h-0.7zM410 219.2h0.7v0.7h-0.7zM409.3 214h0.7v0.7h-0.7zM384.3 176.8h0.7v0.7h-0.7zM380.1 205h0.7v0.7h-0.7zM402.2 219.9h0.7v0.7h-0.7zM400.5 189.1h0.7v0.7h-0.7zM412.3 146.8h0.7v0.7h-0.7zM391.5 207.9h0.7v0.7h-0.7zM385.4 192.9h0.7v0.7h-0.7zM415.8 191.9h0.7v0.7h-0.7zM401.7 220h0.7v0.7h-0.7zM388 184.6h0.7v0.7h-0.7zM387 197.7h0.7v0.7h-0.7zM387.6 206h0.7v0.7h-0.7zM401.5 180.1h0.7v0.7h-0.7zM402.7 198.6h0.7v0.7h-0.7zM421.2 213.7h0.7v0.7h-0.7zM409 203.6h0.7v0.7h-0.7zM411.3 177.6h0.7v0.7h-0.7zM408 197.6h0.7v0.7h-0.7zM381.5 180.8h0.7v0.7h-0.7zM391.6 206.5h0.7v0.7h-0.7zM384.8 205.8h0.7v0.7h-0.7zM384.4 202.1h0.7v0.7h-0.7zM390.5 206.2h0.7v0.7h-0.7zM384.4 195.1h0.7v0.7h-0.7zM384.9 200.2h0.7v0.7h-0.7zM384.9 207.7h0.7v0.7h-0.7zM376.3 203.6h0.7v0.7h-0.7zM408.8 220.1h0.7v0.7h-0.7zM384.7 198.9h0.7v0.7h-0.7zM384.8 196.9h0.7v0.7h-0.7zM408.6 189.5h0.7v0.7h-0.7zM380.5 202.4h0.7v0.7h-0.7zM388.8 190h0.7v0.7h-0.7zM382.1 187.3h0.7v0.7h-0.7zM381 192.2h0.7v0.7h-0.7zM405 212.8h0.7v0.7h-0.7zM394.8 196.6h0.7v0.7h-0.7zM391.7 207.4h0.7v0.7h-0.7zM401.3 180.2h0.7v0.7h-0.7zM390.8 199.8h0.7v0.7h-0.7zM400.9 188.3h0.7v0.7h-0.7zM407.9 212.1h0.7v0.7h-0.7zM385.9 183.8h0.7v0.7h-0.7zM378.6 206.3h0.7v0.7h-0.7zM381.9 206.3h0.7v0.7h-0.7zM403.1 193.6h0.7v0.7h-0.7zM390.8 207.5h0.7v0.7h-0.7zM379.4 206.5h0.7v0.7h-0.7zM406.3 195.2h0.7v0.7h-0.7zM394.6 188.8h0.7v0.7h-0.7zM389.6 193.9h0.7v0.7h-0.7zM402.8 188.5h0.7v0.7h-0.7zM388.9 181.5h0.7v0.7h-0.7zM381.2 196.5h0.7v0.7h-0.7zM378.1 191.5h0.7v0.7h-0.7zM410.6 185.3h0.7v0.7h-0.7zM409.2 219.5h0.7v0.7h-0.7zM397.8 189.8h0.7v0.7h-0.7zM399.3 209.3h0.7v0.7h-0.7zM383 200.7h0.7v0.7h-0.7zM391.8 202.4h0.7v0.7h-0.7zM411.5 210.9h0.7v0.7h-0.7zM376.6 202.3h0.7v0.7h-0.7zM393 198.5h0.7v0.7h-0.7zM387.2 206.3h0.7v0.7h-0.7zM396.7 180h0.7v0.7h-0.7zM388.5 165.1h0.7v0.7h-0.7zM395.2 207.6h0.7v0.7h-0.7zM420.1 208.8h0.7v0.7h-0.7zM395.8 202h0.7v0.7h-0.7zM378.6 204.4h0.7v0.7h-0.7zM383.8 195.5h0.7v0.7h-0.7zM390 206.1h0.7v0.7h-0.7zM397.8 193.7h0.7v0.7h-0.7zM376.1 197.8h0.7v0.7h-0.7zM412.6 187h0.7v0.7h-0.7zM412.6 209.2h0.7v0.7h-0.7zM386.5 192h0.7v0.7h-0.7zM403.7 222.2h0.7v0.7h-0.7zM403.8 217.7h0.7v0.7h-0.7zM386.7 194.9h0.7v0.7h-0.7zM424.6 220.8h0.7v0.7h-0.7zM381.1 202.3h0.7v0.7h-0.7zM392.1 208.6h0.7v0.7h-0.7zM380.8 195.9h0.7v0.7h-0.7zM391.1 204.5h0.7v0.7h-0.7zM382 186.5h0.7v0.7h-0.7zM406.5 219.5h0.7v0.7h-0.7zM386.5 199.2h0.7v0.7h-0.7zM391.7 209.4h0.7v0.7h-0.7zM388 207.6h0.7v0.7h-0.7zM379 196.4h0.7v0.7h-0.7zM392.3 170.4h0.7v0.7h-0.7zM406.9 198.3h0.7v0.7h-0.7zM376.4 197.9h0.7v0.7h-0.7zM389.5 198h0.7v0.7h-0.7zM408.7 215h0.7v0.7h-0.7zM416.4 207.4h0.7v0.7h-0.7zM375.9 207.3h0.7v0.7h-0.7zM390 203.3h0.7v0.7h-0.7zM419.8 171.6h0.7v0.7h-0.7zM374.8 205.9h0.7v0.7h-0.7zM410.1 213.7h0.7v0.7h-0.7zM412.8 215.6h0.7v0.7h-0.7zM402.5 210.1h0.7v0.7h-0.7zM390.2 198.4h0.7v0.7h-0.7zM404.3 179.5h0.7v0.7h-0.7zM381.4 182.8h0.7v0.7h-0.7zM411.2 207h0.7v0.7h-0.7zM409 211.3h0.7v0.7h-0.7zM395.6 192.3h0.7v0.7h-0.7zM385.4 201.7h0.7v0.7h-0.7zM420.4 180.9h0.7v0.7h-0.7zM406.1 179h0.7v0.7h-0.7zM381.6 203.2h0.7v0.7h-0.7zM390.6 191.4h0.7v0.7h-0.7zM391.7 203.8h0.7v0.7h-0.7zM391.8 208h0.7v0.7h-0.7zM393.9 196.1h0.7v0.7h-0.7zM405 187.8h0.7v0.7h-0.7zM401.7 189.4h0.7v0.7h-0.7zM399.2 191.6h0.7v0.7h-0.7zM387.6 195.3h0.7v0.7h-0.7zM392.2 185.1h0.7v0.7h-0.7zM386.7 205.7h0.7v0.7h-0.7zM384.7 202.8h0.7v0.7h-0.7zM377.6 206.9h0.7v0.7h-0.7zM403.8 217.6h0.7v0.7h-0.7zM377.4 204.1h0.7v0.7h-0.7zM386.8 226h0.7v0.7h-0.7zM400.5 198.1h0.7v0.7h-0.7zM391.1 208.7h0.7v0.7h-0.7zM406.5 202.7h0.7v0.7h-0.7zM415.5 210h0.7v0.7h-0.7zM393 196h0.7v0.7h-0.7zM393.5 177.7h0.7v0.7h-0.7zM383.8 192.4h0.7v0.7h-0.7zM397.5 204.4h0.7v0.7h-0.7zM405 183.4h0.7v0.7h-0.7zM383.1 201.8h0.7v0.7h-0.7zM389.9 208.6h0.7v0.7h-0.7zM395 202.4h0.7v0.7h-0.7zM404.6 188.1h0.7v0.7h-0.7zM397.7 173.4h0.7v0.7h-0.7zM407.8 215.8h0.7v0.7h-0.7zM382.7 207.7h0.7v0.7h-0.7zM399.1 194.4h0.7v0.7h-0.7zM407.2 199.1h0.7v0.7h-0.7zM398.4 187h0.7v0.7h-0.7zM393.6 193.2h0.7v0.7h-0.7zM393.5 206.3h0.7v0.7h-0.7zM386.5 193h0.7v0.7h-0.7zM403.1 203.8h0.7v0.7h-0.7zM389.3 176.4h0.7v0.7h-0.7zM401.5 170.7h0.7v0.7h-0.7zM378 194.7h0.7v0.7h-0.7zM408.6 201.1h0.7v0.7h-0.7zM386.7 190.8h0.7v0.7h-0.7zM405.8 209.5h0.7v0.7h-0.7zM380 202.3h0.7v0.7h-0.7zM392.5 195h0.7v0.7h-0.7zM408.5 204.7h0.7v0.7h-0.7zM397.7 205.8h0.7v0.7h-0.7zM376.7 208.3h0.7v0.7h-0.7zM383.1 203.5h0.7v0.7h-0.7zM385 199.8h0.7v0.7h-0.7zM410.9 218.8h0.7v0.7h-0.7zM404 218.6h0.7v0.7h-0.7zM385.5 162.7h0.7v0.7h-0.7zM379.6 203.4h0.7v0.7h-0.7zM425.6 215.2h0.7v0.7h-0.7zM414.6 200h0.7v0.7h-0.7zM422.1 216.4h0.7v0.7h-0.7zM396.6 192.8h0.7v0.7h-0.7zM377.9 198h0.7v0.7h-0.7zM392.9 193.3h0.7v0.7h-0.7zM383.2 201.1h0.7v0.7h-0.7zM382.9 204.8h0.7v0.7h-0.7zM409 219.2h0.7v0.7h-0.7zM373.7 197.9h0.7v0.7h-0.7zM403.9 182.8h0.7v0.7h-0.7zM381.6 206.2h0.7v0.7h-0.7zM413 218.1h0.7v0.7h-0.7zM397.1 195.2h0.7v0.7h-0.7zM389.3 207.8h0.7v0.7h-0.7zM394.2 208h0.7v0.7h-0.7zM385.4 177.2h0.7v0.7h-0.7zM382.3 203.6h0.7v0.7h-0.7zM386.8 207.6h0.7v0.7h-0.7zM392 199.7h0.7v0.7h-0.7zM394.2 197.8h0.7v0.7h-0.7zM401.5 197h0.7v0.7h-0.7zM392.6 187.7h0.7v0.7h-0.7zM378.4 179.6h0.7v0.7h-0.7zM390.4 203.3h0.7v0.7h-0.7zM382.7 195.6h0.7v0.7h-0.7zM388.1 203.7h0.7v0.7h-0.7zM417.1 192.5h0.7v0.7h-0.7zM400.2 205.2h0.7v0.7h-0.7zM399 189.1h0.7v0.7h-0.7zM400.5 197.7h0.7v0.7h-0.7zM375.6 202.4h0.7v0.7h-0.7zM386.8 200.9h0.7v0.7h-0.7zM387.2 197.3h0.7v0.7h-0.7zM409.7 215.8h0.7v0.7h-0.7zM382.6 181h0.7v0.7h-0.7zM410 219.2h0.7v0.7h-0.7zM391.1 203.1h0.7v0.7h-0.7zM400.2 189.1h0.7v0.7h-0.7zM410.2 194.6h0.7v0.7h-0.7zM403.5 155h0.7v0.7h-0.7zM408.9 213.9h0.7v0.7h-0.7zM406.5 164.5h0.7v0.7h-0.7zM394.5 184.6h0.7v0.7h-0.7zM408.5 217.3h0.7v0.7h-0.7zM358.2 178.2h0.7v0.7h-0.7zM382 197.9h0.7v0.7h-0.7zM389 195.7h0.7v0.7h-0.7zM389.9 200h0.7v0.7h-0.7zM400.9 220.1h0.7v0.7h-0.7zM401.9 196.6h0.7v0.7h-0.7zM398.3 202.7h0.7v0.7h-0.7zM380 198.6h0.7v0.7h-0.7zM385.4 204h0.7v0.7h-0.7zM388.4 205.1h0.7v0.7h-0.7zM395.5 204.8h0.7v0.7h-0.7zM377.9 200.1h0.7v0.7h-0.7zM406.4 214.6h0.7v0.7h-0.7zM402.9 219.5h0.7v0.7h-0.7zM389.7 223.2h0.7v0.7h-0.7zM383.5 204.8h0.7v0.7h-0.7zM403.7 189.6h0.7v0.7h-0.7zM386.1 198.8h0.7v0.7h-0.7zM407 211.4h0.7v0.7h-0.7zM385 203.4h0.7v0.7h-0.7zM388.9 208.8h0.7v0.7h-0.7zM395.7 193.8h0.7v0.7h-0.7zM412.2 206.9h0.7v0.7h-0.7zM382.7 206.6h0.7v0.7h-0.7zM395.6 205.4h0.7v0.7h-0.7zM386.7 179.5h0.7v0.7h-0.7zM410.2 179.6h0.7v0.7h-0.7zM383.9 175.6h0.7v0.7h-0.7zM414.5 216.7h0.7v0.7h-0.7zM391.3 200.9h0.7v0.7h-0.7zM393.4 197.4h0.7v0.7h-0.7zM396.2 193h0.7v0.7h-0.7zM395.3 196.5h0.7v0.7h-0.7zM393.1 196h0.7v0.7h-0.7zM386.1 194.3h0.7v0.7h-0.7zM379 202.9h0.7v0.7h-0.7zM383.4 208h0.7v0.7h-0.7zM381.6 197.8h0.7v0.7h-0.7zM384.1 198.6h0.7v0.7h-0.7zM393.3 201.5h0.7v0.7h-0.7zM383.4 180.8h0.7v0.7h-0.7zM401.8 219.6h0.7v0.7h-0.7zM387.7 204.1h0.7v0.7h-0.7zM410 186.9h0.7v0.7h-0.7zM403.2 211.6h0.7v0.7h-0.7zM388.2 204.8h0.7v0.7h-0.7zM408.8 204.8h0.7v0.7h-0.7zM392.1 206.5h0.7v0.7h-0.7zM401 207.8h0.7v0.7h-0.7zM438.7 182.5h0.7v0.7h-0.7zM390.8 202.2h0.7v0.7h-0.7zM386 199.5h0.7v0.7h-0.7zM408.1 220.6h0.7v0.7h-0.7zM379.9 168.9h0.7v0.7h-0.7zM391.8 183.7h0.7v0.7h-0.7zM403.7 183h0.7v0.7h-0.7zM399 191.8h0.7v0.7h-0.7zM376.6 188.4h0.7v0.7h-0.7zM384.1 200.9h0.7v0.7h-0.7zM379.9 194.4h0.7v0.7h-0.7zM387.1 191.7h0.7v0.7h-0.7zM409.6 213.1h0.7v0.7h-0.7zM395.9 198.5h0.7v0.7h-0.7zM398 209.7h0.7v0.7h-0.7zM389.7 175h0.7v0.7h-0.7zM386 186.2h0.7v0.7h-0.7zM409.2 215.7h0.7v0.7h-0.7zM400.4 194.1h0.7v0.7h-0.7zM386.1 199.7h0.7v0.7h-0.7zM381.1 191.7h0.7v0.7h-0.7zM376.7 207.1h0.7v0.7h-0.7zM403.7 192.6h0.7v0.7h-0.7zM395.4 185.2h0.7v0.7h-0.7zM380.6 200.1h0.7v0.7h-0.7zM395.9 179.7h0.7v0.7h-0.7zM382.2 205.3h0.7v0.7h-0.7zM395.1 169.6h0.7v0.7h-0.7zM408.8 218h0.7v0.7h-0.7zM398.3 196.5h0.7v0.7h-0.7zM405.1 185.4h0.7v0.7h-0.7zM387.3 203.3h0.7v0.7h-0.7zM385.5 227.7h0.7v0.7h-0.7zM379.3 202.2h0.7v0.7h-0.7zM404 181.8h0.7v0.7h-0.7zM391.1 194.3h0.7v0.7h-0.7zM376.6 205.4h0.7v0.7h-0.7zM378.3 205.9h0.7v0.7h-0.7zM377.3 203.2h0.7v0.7h-0.7zM382.2 208.5h0.7v0.7h-0.7zM388.1 178.6h0.7v0.7h-0.7zM401.1 190h0.7v0.7h-0.7zM383.8 207h0.7v0.7h-0.7zM378.9 207.4h0.7v0.7h-0.7zM390 206.3h0.7v0.7h-0.7zM391 190.8h0.7v0.7h-0.7zM390.3 202.7h0.7v0.7h-0.7zM400.6 210.1h0.7v0.7h-0.7zM383.8 203.8h0.7v0.7h-0.7zM406.1 188.2h0.7v0.7h-0.7zM392.2 196.5h0.7v0.7h-0.7zM380.2 202.4h0.7v0.7h-0.7zM376.8 207.1h0.7v0.7h-0.7zM402.6 209.1h0.7v0.7h-0.7zM391.8 178.1h0.7v0.7h-0.7zM397.5 182.4h0.7v0.7h-0.7zM388.5 199.5h0.7v0.7h-0.7zM378.2 193.1h0.7v0.7h-0.7zM381.3 185.4h0.7v0.7h-0.7zM387.2 204.2h0.7v0.7h-0.7zM380.1 200.7h0.7v0.7h-0.7zM391.4 195.7h0.7v0.7h-0.7zM388 178.3h0.7v0.7h-0.7zM380.6 200.5h0.7v0.7h-0.7zM411.1 218.1h0.7v0.7h-0.7zM401.1 183.1h0.7v0.7h-0.7zM384.8 201.5h0.7v0.7h-0.7zM394.9 176h0.7v0.7h-0.7zM382.5 204.2h0.7v0.7h-0.7zM418.9 217.8h0.7v0.7h-0.7zM409.5 225.7h0.7v0.7h-0.7zM382.1 206.8h0.7v0.7h-0.7zM396.6 183.2h0.7v0.7h-0.7zM382.6 198.1h0.7v0.7h-0.7zM388.4 197.1h0.7v0.7h-0.7zM386.3 184.8h0.7v0.7h-0.7zM391.9 199.7h0.7v0.7h-0.7zM388.7 201.8h0.7v0.7h-0.7zM384.4 189.6h0.7v0.7h-0.7zM384.7 196.1h0.7v0.7h-0.7zM387.6 189.5h0.7v0.7h-0.7zM403.4 198.1h0.7v0.7h-0.7zM395 204.6h0.7v0.7h-0.7zM392.1 187.5h0.7v0.7h-0.7zM382.3 200.9h0.7v0.7h-0.7zM380.6 205.3h0.7v0.7h-0.7zM375.9 190.1h0.7v0.7h-0.7zM402.9 191.2h0.7v0.7h-0.7zM405.3 223.7h0.7v0.7h-0.7zM386.6 203.8h0.7v0.7h-0.7zM388.5 194.6h0.7v0.7h-0.7zM385.3 202.8h0.7v0.7h-0.7zM404.1 181.9h0.7v0.7h-0.7zM386.4 208.1h0.7v0.7h-0.7zM378.7 201.8h0.7v0.7h-0.7zM395 187.2h0.7v0.7h-0.7zM396 209.5h0.7v0.7h-0.7zM380.9 201.6h0.7v0.7h-0.7zM389.6 190.9h0.7v0.7h-0.7zM400.3 168.7h0.7v0.7h-0.7zM385.8 190.4h0.7v0.7h-0.7zM388.2 205.2h0.7v0.7h-0.7zM406.9 186.4h0.7v0.7h-0.7zM384.3 205.4h0.7v0.7h-0.7zM375.4 165.7h0.7v0.7h-0.7zM386.3 201.3h0.7v0.7h-0.7zM405 183.4h0.7v0.7h-0.7zM397.2 205.7h0.7v0.7h-0.7zM379.2 195.4h0.7v0.7h-0.7zM394.1 202h0.7v0.7h-0.7zM403.9 211.3h0.7v0.7h-0.7zM391.9 204.7h0.7v0.7h-0.7zM412.7 215.9h0.7v0.7h-0.7zM386 198h0.7v0.7h-0.7zM379.8 205.3h0.7v0.7h-0.7zM399.6 181.5h0.7v0.7h-0.7zM382.4 194.5h0.7v0.7h-0.7zM378.4 200.5h0.7v0.7h-0.7zM385.8 201.5h0.7v0.7h-0.7zM377.7 205h0.7v0.7h-0.7zM397.3 223.3h0.7v0.7h-0.7zM402.2 203.2h0.7v0.7h-0.7zM389.8 160.7h0.7v0.7h-0.7zM389.8 166.8h0.7v0.7h-0.7zM388.2 208.3h0.7v0.7h-0.7zM382.8 207.8h0.7v0.7h-0.7zM391.5 188h0.7v0.7h-0.7zM419.4 216.7h0.7v0.7h-0.7zM381.7 195h0.7v0.7h-0.7zM397.1 181.1h0.7v0.7h-0.7zM382.5 197.3h0.7v0.7h-0.7zM382.8 194.5h0.7v0.7h-0.7zM411 194h0.7v0.7h-0.7zM400.5 172.2h0.7v0.7h-0.7zM385.8 203.7h0.7v0.7h-0.7zM389.9 194.9h0.7v0.7h-0.7zM385.5 195.8h0.7v0.7h-0.7zM393 194.7h0.7v0.7h-0.7zM386.6 195.1h0.7v0.7h-0.7zM416 212.1h0.7v0.7h-0.7zM400.3 194.5h0.7v0.7h-0.7zM420.1 177.5h0.7v0.7h-0.7zM380.9 174.2h0.7v0.7h-0.7zM394.2 206.7h0.7v0.7h-0.7zM396.2 191.9h0.7v0.7h-0.7zM383.3 202.7h0.7v0.7h-0.7zM405.3 207.3h0.7v0.7h-0.7zM400.4 210.3h0.7v0.7h-0.7zM387.9 200.5h0.7v0.7h-0.7zM405.2 215.1h0.7v0.7h-0.7zM407.1 195.6h0.7v0.7h-0.7zM382.6 185.2h0.7v0.7h-0.7zM384.4 201.7h0.7v0.7h-0.7zM399.9 181.8h0.7v0.7h-0.7zM375.8 202.5h0.7v0.7h-0.7zM387.7 202.8h0.7v0.7h-0.7zM384.2 201.4h0.7v0.7h-0.7zM401.4 184.6h0.7v0.7h-0.7zM395.7 196.4h0.7v0.7h-0.7zM378.3 201.7h0.7v0.7h-0.7zM380.5 207.4h0.7v0.7h-0.7zM385.1 199.3h0.7v0.7h-0.7zM381.8 206.9h0.7v0.7h-0.7zM389.2 206.6h0.7v0.7h-0.7zM408.5 195.1h0.7v0.7h-0.7zM409.2 214.8h0.7v0.7h-0.7zM386.4 189.2h0.7v0.7h-0.7zM385.7 207h0.7v0.7h-0.7zM391.2 191h0.7v0.7h-0.7zM378.2 202.9h0.7v0.7h-0.7zM400.2 209.3h0.7v0.7h-0.7zM393.5 202.5h0.7v0.7h-0.7zM380.3 204.3h0.7v0.7h-0.7zM407.4 212.3h0.7v0.7h-0.7zM378.3 206.2h0.7v0.7h-0.7zM377 195.4h0.7v0.7h-0.7zM375.6 197h0.7v0.7h-0.7zM383 201.1h0.7v0.7h-0.7zM377.5 201.5h0.7v0.7h-0.7zM401.3 203.9h0.7v0.7h-0.7zM392.9 185.4h0.7v0.7h-0.7zM389.7 208.3h0.7v0.7h-0.7zM419.2 211.7h0.7v0.7h-0.7zM411.3 217.8h0.7v0.7h-0.7zM389.7 202h0.7v0.7h-0.7zM383.8 223.6h0.7v0.7h-0.7zM376.3 192.8h0.7v0.7h-0.7zM377 204.4h0.7v0.7h-0.7zM377 198.1h0.7v0.7h-0.7zM375.7 188.5h0.7v0.7h-0.7zM424.8 187h0.7v0.7h-0.7zM383.7 183.3h0.7v0.7h-0.7zM407.3 211.8h0.7v0.7h-0.7zM393 208.1h0.7v0.7h-0.7zM385.2 180.7h0.7v0.7h-0.7zM422.6 173.5h0.7v0.7h-0.7zM383.3 197.5h0.7v0.7h-0.7zM386.8 184.9h0.7v0.7h-0.7zM405.2 188.1h0.7v0.7h-0.7zM405.7 214.5h0.7v0.7h-0.7zM381.6 195.6h0.7v0.7h-0.7zM388.2 202h0.7v0.7h-0.7zM390.2 197h0.7v0.7h-0.7zM393.2 194.2h0.7v0.7h-0.7zM383.5 200.4h0.7v0.7h-0.7zM388.5 179.8h0.7v0.7h-0.7zM390.3 164.2h0.7v0.7h-0.7zM404.3 220.5h0.7v0.7h-0.7zM380.5 208.2h0.7v0.7h-0.7zM388.8 155.9h0.7v0.7h-0.7zM388.2 207.9h0.7v0.7h-0.7zM410.1 212.7h0.7v0.7h-0.7zM386.9 208.1h0.7v0.7h-0.7zM403.3 213.7h0.7v0.7h-0.7zM404.2 172.8h0.7v0.7h-0.7zM375 198.3h0.7v0.7h-0.7zM381.3 179.9h0.7v0.7h-0.7zM382.7 195.8h0.7v0.7h-0.7zM400.7 194.4h0.7v0.7h-0.7zM407.9 192.6h0.7v0.7h-0.7zM404.4 217.8h0.7v0.7h-0.7zM387.9 206.4h0.7v0.7h-0.7zM378.8 186.7h0.7v0.7h-0.7zM388.6 205.3h0.7v0.7h-0.7zM389.3 199.6h0.7v0.7h-0.7zM404.7 210.2h0.7v0.7h-0.7zM382.9 207.6h0.7v0.7h-0.7zM420.3 217.7h0.7v0.7h-0.7zM411 221h0.7v0.7h-0.7zM397.6 202h0.7v0.7h-0.7zM385.2 194.7h0.7v0.7h-0.7zM400.3 196.1h0.7v0.7h-0.7zM399.5 189.5h0.7v0.7h-0.7zM391.9 223h0.7v0.7h-0.7zM398.7 207.6h0.7v0.7h-0.7zM397.3 204h0.7v0.7h-0.7zM385.1 185.2h0.7v0.7h-0.7zM380.7 194.5h0.7v0.7h-0.7zM384.4 202.3h0.7v0.7h-0.7zM387.5 191.2h0.7v0.7h-0.7zM397.2 203.1h0.7v0.7h-0.7zM387.9 203h0.7v0.7h-0.7zM383.3 199.3h0.7v0.7h-0.7zM391.5 206h0.7v0.7h-0.7zM393.6 195.4h0.7v0.7h-0.7zM402.8 181.4h0.7v0.7h-0.7zM380.4 192.3h0.7v0.7h-0.7zM394.8 175.8h0.7v0.7h-0.7zM388.2 206.1h0.7v0.7h-0.7zM383.8 208.2h0.7v0.7h-0.7zM387 204.7h0.7v0.7h-0.7zM383.3 199.8h0.7v0.7h-0.7zM391.8 208.7h0.7v0.7h-0.7zM386.9 204.3h0.7v0.7h-0.7zM385.1 205.6h0.7v0.7h-0.7zM384.5 202.7h0.7v0.7h-0.7zM399 210.2h0.7v0.7h-0.7zM404.4 198.8h0.7v0.7h-0.7zM387.4 204.8h0.7v0.7h-0.7zM416.4 194.2h0.7v0.7h-0.7zM412.8 193.3h0.7v0.7h-0.7zM390.4 186.4h0.7v0.7h-0.7zM373.6 199.3h0.7v0.7h-0.7zM377.6 205h0.7v0.7h-0.7zM381.6 199h0.7v0.7h-0.7zM389.8 205.1h0.7v0.7h-0.7zM383.9 208.2h0.7v0.7h-0.7zM390.3 208.5h0.7v0.7h-0.7zM401.9 220.1h0.7v0.7h-0.7zM382.4 207.8h0.7v0.7h-0.7zM387 187.5h0.7v0.7h-0.7zM393.3 196.3h0.7v0.7h-0.7zM398.4 194h0.7v0.7h-0.7zM385.6 197.1h0.7v0.7h-0.7zM383.2 206.1h0.7v0.7h-0.7zM384.8 202.6h0.7v0.7h-0.7zM411.2 193.9h0.7v0.7h-0.7zM384.6 193.9h0.7v0.7h-0.7zM425.2 209.5h0.7v0.7h-0.7zM385.6 206.9h0.7v0.7h-0.7zM385.2 196.6h0.7v0.7h-0.7zM380.5 200.9h0.7v0.7h-0.7zM383.3 205.1h0.7v0.7h-0.7zM379.8 204.7h0.7v0.7h-0.7zM403.7 214.5h0.7v0.7h-0.7zM379.4 204.2h0.7v0.7h-0.7zM409.1 219.7h0.7v0.7h-0.7zM391.9 192.1h0.7v0.7h-0.7zM402.9 222.4h0.7v0.7h-0.7zM398.9 184.3h0.7v0.7h-0.7zM399.5 181.2h0.7v0.7h-0.7zM400 210.5h0.7v0.7h-0.7zM383.3 196.1h0.7v0.7h-0.7zM399.7 185.3h0.7v0.7h-0.7zM380.3 184.8h0.7v0.7h-0.7zM381.6 198.1h0.7v0.7h-0.7zM409.6 215.9h0.7v0.7h-0.7zM396.9 196h0.7v0.7h-0.7zM379.1 207.3h0.7v0.7h-0.7zM380.6 195.6h0.7v0.7h-0.7zM419.4 221.1h0.7v0.7h-0.7zM399.5 184.4h0.7v0.7h-0.7zM402.2 195.3h0.7v0.7h-0.7zM396.8 200.5h0.7v0.7h-0.7zM384.5 192.1h0.7v0.7h-0.7zM400.9 219.9h0.7v0.7h-0.7zM386.1 200h0.7v0.7h-0.7zM374.1 201.9h0.7v0.7h-0.7zM392.3 194h0.7v0.7h-0.7zM386.9 208.2h0.7v0.7h-0.7zM385.6 193.9h0.7v0.7h-0.7zM385.7 192h0.7v0.7h-0.7zM388.9 197.3h0.7v0.7h-0.7zM396.8 151.4h0.7v0.7h-0.7zM407.1 218.6h0.7v0.7h-0.7zM405.6 217.2h0.7v0.7h-0.7zM381 206.2h0.7v0.7h-0.7zM401.8 190.3h0.7v0.7h-0.7zM407.5 218.5h0.7v0.7h-0.7zM384.4 201.8h0.7v0.7h-0.7zM397.2 202.2h0.7v0.7h-0.7zM406.7 207.6h0.7v0.7h-0.7zM377.9 206.9h0.7v0.7h-0.7zM378.6 183.2h0.7v0.7h-0.7zM397 190.8h0.7v0.7h-0.7zM422 193.1h0.7v0.7h-0.7zM400.4 181.3h0.7v0.7h-0.7zM379 189.6h0.7v0.7h-0.7zM407.1 179.6h0.7v0.7h-0.7zM378.8 187.2h0.7v0.7h-0.7zM401.7 176.2h0.7v0.7h-0.7zM396.8 169.8h0.7v0.7h-0.7zM415.8 218.4h0.7v0.7h-0.7zM384.7 204.8h0.7v0.7h-0.7zM381.7 206h0.7v0.7h-0.7zM383.9 184.9h0.7v0.7h-0.7zM379.4 195.3h0.7v0.7h-0.7zM407.5 204.7h0.7v0.7h-0.7zM396.8 167.8h0.7v0.7h-0.7zM381.3 202.3h0.7v0.7h-0.7zM384.4 194.4h0.7v0.7h-0.7zM381.7 194.5h0.7v0.7h-0.7zM404.2 193.7h0.7v0.7h-0.7zM388.4 181.4h0.7v0.7h-0.7zM388.9 203.2h0.7v0.7h-0.7zM405.3 189.4h0.7v0.7h-0.7zM395.4 191.3h0.7v0.7h-0.7zM389.7 206.8h0.7v0.7h-0.7zM392.7 183.6h0.7v0.7h-0.7zM383 203.6h0.7v0.7h-0.7zM380.9 205.2h0.7v0.7h-0.7zM403.4 170.3h0.7v0.7h-0.7zM391.3 196.4h0.7v0.7h-0.7zM390.4 177.8h0.7v0.7h-0.7zM401.9 211.7h0.7v0.7h-0.7zM406.1 220.5h0.7v0.7h-0.7zM398.6 191.1h0.7v0.7h-0.7zM379.9 201.2h0.7v0.7h-0.7zM406.1 213.8h0.7v0.7h-0.7zM384.9 165.8h0.7v0.7h-0.7zM378.1 199.7h0.7v0.7h-0.7zM408.3 174.7h0.7v0.7h-0.7zM382.1 206.2h0.7v0.7h-0.7zM383.1 199.8h0.7v0.7h-0.7zM411.1 221.1h0.7v0.7h-0.7zM377.2 203.2h0.7v0.7h-0.7zM412.9 185.3h0.7v0.7h-0.7zM380.3 190.1h0.7v0.7h-0.7zM398.1 183.5h0.7v0.7h-0.7zM403.5 193.3h0.7v0.7h-0.7zM396.5 206.7h0.7v0.7h-0.7zM411.2 211h0.7v0.7h-0.7zM398.8 201.9h0.7v0.7h-0.7zM399.6 185.2h0.7v0.7h-0.7zM398.8 199.4h0.7v0.7h-0.7zM378.5 198.1h0.7v0.7h-0.7zM405.5 179.9h0.7v0.7h-0.7zM393.6 192.2h0.7v0.7h-0.7zM402.8 219h0.7v0.7h-0.7zM398.3 185.3h0.7v0.7h-0.7zM417.5 218.6h0.7v0.7h-0.7zM380.2 194.2h0.7v0.7h-0.7zM382.3 203.2h0.7v0.7h-0.7zM385.1 202.9h0.7v0.7h-0.7zM417.3 217h0.7v0.7h-0.7zM397.9 208.9h0.7v0.7h-0.7zM408.8 187.7h0.7v0.7h-0.7zM404.3 208.7h0.7v0.7h-0.7zM380.3 202.3h0.7v0.7h-0.7zM407.6 180.6h0.7v0.7h-0.7zM405.8 225.8h0.7v0.7h-0.7zM378.5 207.8h0.7v0.7h-0.7zM381.8 203.5h0.7v0.7h-0.7zM381.5 205h0.7v0.7h-0.7zM409.8 213.3h0.7v0.7h-0.7zM407.5 213.7h0.7v0.7h-0.7zM395.2 198.9h0.7v0.7h-0.7zM378.6 206.1h0.7v0.7h-0.7zM383 185.4h0.7v0.7h-0.7zM389.9 192.8h0.7v0.7h-0.7zM395.6 203.4h0.7v0.7h-0.7zM384.4 207.9h0.7v0.7h-0.7zM399 180.1h0.7v0.7h-0.7zM386.2 208.3h0.7v0.7h-0.7zM397.4 186.8h0.7v0.7h-0.7zM396.7 210.2h0.7v0.7h-0.7zM380.9 188.9h0.7v0.7h-0.7zM381.2 190.4h0.7v0.7h-0.7zM383 199.8h0.7v0.7h-0.7zM375.5 202.2h0.7v0.7h-0.7zM389.8 196.9h0.7v0.7h-0.7zM394.2 199.2h0.7v0.7h-0.7zM407.1 192.3h0.7v0.7h-0.7zM382.2 198.3h0.7v0.7h-0.7zM376.8 204.5h0.7v0.7h-0.7zM387.7 190.5h0.7v0.7h-0.7zM411.4 216.1h0.7v0.7h-0.7zM410.4 170.9h0.7v0.7h-0.7zM376.3 208.4h0.7v0.7h-0.7zM382.4 202.4h0.7v0.7h-0.7zM392 205.6h0.7v0.7h-0.7zM383 197.2h0.7v0.7h-0.7zM385.8 183.2h0.7v0.7h-0.7zM415.6 192.4h0.7v0.7h-0.7zM389.5 198.3h0.7v0.7h-0.7zM412.5 220.3h0.7v0.7h-0.7zM416.8 218.6h0.7v0.7h-0.7zM383.8 199.9h0.7v0.7h-0.7zM397 189.4h0.7v0.7h-0.7zM392.4 205.4h0.7v0.7h-0.7zM385.3 204h0.7v0.7h-0.7zM390 173.6h0.7v0.7h-0.7zM387.8 188.5h0.7v0.7h-0.7zM399.1 201.9h0.7v0.7h-0.7zM400.3 169.5h0.7v0.7h-0.7zM387.5 222.5h0.7v0.7h-0.7zM380.4 176.8h0.7v0.7h-0.7zM389.8 194.9h0.7v0.7h-0.7zM397.5 206.3h0.7v0.7h-0.7zM403.8 201.6h0.7v0.7h-0.7zM388.3 195.3h0.7v0.7h-0.7zM389.4 200.8h0.7v0.7h-0.7zM378.8 190.5h0.7v0.7h-0.7zM385.5 203.6h0.7v0.7h-0.7zM391 202.1h0.7v0.7h-0.7zM388 200.8h0.7v0.7h-0.7zM393.6 198.2h0.7v0.7h-0.7zM399.2 181.9h0.7v0.7h-0.7zM386.5 208.3h0.7v0.7h-0.7zM417.2 209.9h0.7v0.7h-0.7zM386.2 190.1h0.7v0.7h-0.7zM393.6 222.4h0.7v0.7h-0.7zM404.2 213.6h0.7v0.7h-0.7zM379.6 202.4h0.7v0.7h-0.7zM381.9 185.7h0.7v0.7h-0.7zM402.7 188.8h0.7v0.7h-0.7zM385.9 205.3h0.7v0.7h-0.7zM378.3 203.9h0.7v0.7h-0.7zM392.6 188.4h0.7v0.7h-0.7zM383.6 204.3h0.7v0.7h-0.7zM387.1 195h0.7v0.7h-0.7zM385 185.9h0.7v0.7h-0.7zM394.9 205.4h0.7v0.7h-0.7zM384.1 204.5h0.7v0.7h-0.7zM383.2 197.8h0.7v0.7h-0.7zM376.7 206h0.7v0.7h-0.7zM400.5 175.8h0.7v0.7h-0.7zM385 203.7h0.7v0.7h-0.7zM408.5 214.4h0.7v0.7h-0.7zM379.3 202.7h0.7v0.7h-0.7zM376.5 205.9h0.7v0.7h-0.7zM401.4 193.6h0.7v0.7h-0.7zM398.2 210.5h0.7v0.7h-0.7zM384 186.2h0.7v0.7h-0.7zM403.4 194.5h0.7v0.7h-0.7zM388.7 205.8h0.7v0.7h-0.7zM411.9 163.6h0.7v0.7h-0.7zM414.7 191.7h0.7v0.7h-0.7zM391.3 208.8h0.7v0.7h-0.7zM396.1 206.6h0.7v0.7h-0.7zM379.4 207h0.7v0.7h-0.7zM409.9 172.6h0.7v0.7h-0.7zM381.4 200.3h0.7v0.7h-0.7zM403.5 204h0.7v0.7h-0.7zM389.4 187.3h0.7v0.7h-0.7zM380.3 189.3h0.7v0.7h-0.7zM391.4 205.9h0.7v0.7h-0.7zM386.1 195h0.7v0.7h-0.7zM390.4 198.6h0.7v0.7h-0.7zM385.9 196h0.7v0.7h-0.7zM397.3 179.1h0.7v0.7h-0.7zM404.4 190.3h0.7v0.7h-0.7zM391.8 170h0.7v0.7h-0.7zM378.3 202.1h0.7v0.7h-0.7zM381.7 199.9h0.7v0.7h-0.7zM400.7 206.1h0.7v0.7h-0.7zM381.5 201.7h0.7v0.7h-0.7zM387.8 194.6h0.7v0.7h-0.7zM399.8 165.9h0.7v0.7h-0.7zM380.5 192.2h0.7v0.7h-0.7zM400.6 197.3h0.7v0.7h-0.7zM376.8 206.2h0.7v0.7h-0.7zM379.4 200.3h0.7v0.7h-0.7zM409.3 205.5h0.7v0.7h-0.7zM385.9 202.1h0.7v0.7h-0.7zM405.7 185.5h0.7v0.7h-0.7zM407.1 212.9h0.7v0.7h-0.7zM382.6 202.3h0.7v0.7h-0.7zM398 185.8h0.7v0.7h-0.7zM388.6 179.7h0.7v0.7h-0.7zM403.6 217.4h0.7v0.7h-0.7zM386.5 173.8h0.7v0.7h-0.7zM395.9 179.2h0.7v0.7h-0.7zM424.6 213.7h0.7v0.7h-0.7zM385.3 204h0.7v0.7h-0.7zM393 189h0.7v0.7h-0.7zM385.6 195.3h0.7v0.7h-0.7zM412 212.9h0.7v0.7h-0.7zM392.6 208.7h0.7v0.7h-0.7zM376.1 191.1h0.7v0.7h-0.7zM416.1 212.7h0.7v0.7h-0.7zM411.8 210h0.7v0.7h-0.7zM391.5 182.3h0.7v0.7h-0.7zM374.3 180.5h0.7v0.7h-0.7zM383.4 200.7h0.7v0.7h-0.7zM386.7 181.4h0.7v0.7h-0.7zM417.8 183.6h0.7v0.7h-0.7zM385.9 206.5h0.7v0.7h-0.7zM392.2 190.3h0.7v0.7h-0.7zM382.2 189.6h0.7v0.7h-0.7zM373.7 196.5h0.7v0.7h-0.7zM397.7 184.3h0.7v0.7h-0.7zM401.2 190.7h0.7v0.7h-0.7zM396.5 200.2h0.7v0.7h-0.7zM376.8 198.8h0.7v0.7h-0.7zM384.2 197h0.7v0.7h-0.7zM379.7 179.8h0.7v0.7h-0.7zM403.6 220.2h0.7v0.7h-0.7zM409.6 214.3h0.7v0.7h-0.7zM386.9 203.1h0.7v0.7h-0.7zM402 219.8h0.7v0.7h-0.7zM379.2 205.1h0.7v0.7h-0.7zM384.3 200.7h0.7v0.7h-0.7zM398.6 203.5h0.7v0.7h-0.7zM398.2 200h0.7v0.7h-0.7zM389.7 191.4h0.7v0.7h-0.7zM400.1 198.5h0.7v0.7h-0.7zM391.3 198.5h0.7v0.7h-0.7zM389.7 194.1h0.7v0.7h-0.7zM383.4 172.6h0.7v0.7h-0.7zM395.7 201.7h0.7v0.7h-0.7zM405.3 217.1h0.7v0.7h-0.7zM390.3 182.4h0.7v0.7h-0.7zM377.9 197.3h0.7v0.7h-0.7zM382.8 207.3h0.7v0.7h-0.7zM382.5 203.7h0.7v0.7h-0.7zM384.7 199.7h0.7v0.7h-0.7zM385.9 205.8h0.7v0.7h-0.7zM404.7 185.1h0.7v0.7h-0.7zM401.5 201.8h0.7v0.7h-0.7zM387.5 185.7h0.7v0.7h-0.7zM407.1 202.6h0.7v0.7h-0.7zM392 184.2h0.7v0.7h-0.7zM386.1 193.2h0.7v0.7h-0.7zM391.7 188.1h0.7v0.7h-0.7zM411.9 216.2h0.7v0.7h-0.7zM403.3 205.9h0.7v0.7h-0.7zM393.7 197.9h0.7v0.7h-0.7zM373.6 193.2h0.7v0.7h-0.7zM385.7 204.5h0.7v0.7h-0.7zM379.5 208.2h0.7v0.7h-0.7zM391.3 201h0.7v0.7h-0.7zM394.7 205.4h0.7v0.7h-0.7zM382.2 190.2h0.7v0.7h-0.7zM393.2 178.4h0.7v0.7h-0.7zM395.8 174.5h0.7v0.7h-0.7zM404.5 217.7h0.7v0.7h-0.7zM383.4 197.2h0.7v0.7h-0.7zM382.4 203.8h0.7v0.7h-0.7zM391.2 177.6h0.7v0.7h-0.7zM390.3 200.3h0.7v0.7h-0.7zM419.1 211.7h0.7v0.7h-0.7zM378.6 200.1h0.7v0.7h-0.7zM385.9 204.6h0.7v0.7h-0.7zM381.1 194.4h0.7v0.7h-0.7zM386.7 205h0.7v0.7h-0.7zM383.4 195.3h0.7v0.7h-0.7zM387.7 194.7h0.7v0.7h-0.7zM374.5 182.8h0.7v0.7h-0.7zM377.8 183.7h0.7v0.7h-0.7zM395.4 202.3h0.7v0.7h-0.7zM419.4 210h0.7v0.7h-0.7zM385.3 196.5h0.7v0.7h-0.7zM386.4 174.9h0.7v0.7h-0.7zM401.2 188.1h0.7v0.7h-0.7zM392.8 207.5h0.7v0.7h-0.7zM390.8 186.7h0.7v0.7h-0.7zM375.3 205.2h0.7v0.7h-0.7zM381.7 208h0.7v0.7h-0.7zM399.3 171h0.7v0.7h-0.7zM393.3 203.9h0.7v0.7h-0.7zM392.2 222.7h0.7v0.7h-0.7zM396.5 224.6h0.7v0.7h-0.7zM376.8 199.3h0.7v0.7h-0.7zM382.9 204h0.7v0.7h-0.7zM396 178.9h0.7v0.7h-0.7zM397 198.1h0.7v0.7h-0.7zM384.2 208.2h0.7v0.7h-0.7zM382.8 205.1h0.7v0.7h-0.7zM400.6 183h0.7v0.7h-0.7zM375.8 199.7h0.7v0.7h-0.7zM389.2 202.7h0.7v0.7h-0.7zM426.9 144.7h0.7v0.7h-0.7zM378.7 201.9h0.7v0.7h-0.7zM381.9 197.9h0.7v0.7h-0.7zM393 185h0.7v0.7h-0.7zM385.2 198.5h0.7v0.7h-0.7zM390.3 192h0.7v0.7h-0.7zM390.7 189.2h0.7v0.7h-0.7zM379.5 206.4h0.7v0.7h-0.7zM387.5 206.6h0.7v0.7h-0.7zM386.9 195.3h0.7v0.7h-0.7zM406.5 192.1h0.7v0.7h-0.7zM379.2 203.8h0.7v0.7h-0.7zM380.5 189.1h0.7v0.7h-0.7zM407.5 213.8h0.7v0.7h-0.7zM403.9 184.6h0.7v0.7h-0.7zM394.8 196h0.7v0.7h-0.7zM395.9 194.9h0.7v0.7h-0.7zM388 189.1h0.7v0.7h-0.7zM383.1 200.8h0.7v0.7h-0.7zM399.6 182.5h0.7v0.7h-0.7zM379.2 202.7h0.7v0.7h-0.7zM401.3 189.4h0.7v0.7h-0.7zM408.7 204.7h0.7v0.7h-0.7zM384.1 204.1h0.7v0.7h-0.7zM378.4 197.8h0.7v0.7h-0.7z" fill="#707070"/>
<path d="M364.1 188.5 364.5 188.5 365 188.9 365.7 191 366.1 194.5 366.6 201.5 366.6 204.8 365.7 211 365.4 217.8 365.8 218.5 366.5 218.9 371.8 219.4 373 219.8 374 220.2 374.1 220.5 374 221 372.5 221.8 369.2 222.2 364.2 222.3 362.9 221.7 362.2 220.8 362.4 217.8 362.1 214 362 205.5 362.4 196.2 363 190.8 363.5 189.2Z" fill="#333" fill-rule="evenodd"/>
<path d="M363.9 192.8 364.2 192.7 364.5 193.1 364.9 194.8 365.6 203.2 365.6 206.2 364.7 218 365 218.8 366 219.5 370.1 220 371.3 220.5 371.4 220.8 371.2 221 370 221.4 364.5 221.6 363.5 221.3 362.9 220.5 363.1 218 362.6 214 362.6 204 363.2 195.8 363.5 193.7Z" fill="#000" fill-rule="evenodd"/>
<path d="M364.8 159.2 366 159 367.2 159.1 368.5 159.6 369.8 160.6 370.8 161.8 371.9 163.5 373.2 167.2 373.7 169.8 373.8 172.5 373.3 181 373.3 189 373.5 195.2 374 200.5 374.5 202.5 375.2 204.3 376 205.1 376.8 205.4 380.5 205.9 386.1 207.8 396.5 209.8 399.2 210.7 401.5 211.7 402.7 212.5 403.7 213.5 404.4 214.5 404.6 215.5 404.5 216.5 404.1 217.5 403.3 218.5 402 219.5 398.8 220.9 394 221.9 384.2 223.1 377.2 224.5 374.2 224.7 367 224.9 364 225.5 363.2 225.4 362.2 224.9 359 223 357.8 221.8 357.5 220.8 357.6 220 358 219.2 359.5 217.7 359.8 216.2 359.6 212.2 358.8 205 359.1 185.2 359.1 179.5 358.6 173.2 358.7 170 359.5 166.2 360.8 163 362.5 160.7 363.5 159.9ZM365 160.5 366.5 160.3 367.8 160.6 369 161.4 370.3 162.8 371.4 164.5 372.2 166.5 372.8 169 373 171.5 373 174 372.5 180 372.5 189.2 372.8 197.2 373.4 205.3 373.4 207.8 372.9 209.8 372 211.2 370.8 212.4 368.8 213.5 368.2 213.9 367.8 215.2 367.9 216.2 368.2 216.5 369.2 216.6 372.1 216.2 373 215.8 374.5 214 376 212.8 378 211.8 380.5 211 386 210 390.8 209.9 394.2 210.4 397.8 211.3 400 212.3 401.6 213.5 402.5 214.8 402.7 216.2 401.9 217.8 400.4 219 398.2 220 395.5 220.7 391.2 221.4 383.5 222.2 377 223.9 373 224.3 366.8 224.5 364.3 224.9 363.2 224.9 362.2 224.4 359.5 222.8 358.5 221.8 358.2 220.8 358.3 220 359.8 218 360.2 216.5 359.4 204.5 359.9 182 359.8 178.8 359.3 173.5 359.5 170.2 360.1 166.8 361.4 163.8 363 161.7 364 161ZM366 161.2 367.2 161.4 368.5 162 369.5 162.9 370.5 164.2 371.4 166 372 167.8 372.4 169.8 372.5 172 372 179.8 372 187.5 372.1 195.8 372.6 204.2 372.5 206.5 372.2 208.5 371.3 210.2 370.2 211.4 368.2 212.9 367.8 213.5 367.4 215.2 367.6 216.5 368 216.9 369 217 373 216.7 374.2 216.2 376.2 214.6 377.5 213.8 381.8 212.1 386.5 210.9 390.8 210.7 393.8 211.1 396.8 211.9 398.9 212.8 400.3 213.8 401.2 215 401.3 216.2 400.6 217.5 399.2 218.6 397.2 219.5 394.5 220.2 390.5 220.8 383.2 221.5 377.5 223.4 373 224.1 367 224.3 363.5 224.6 362.2 224.1 360.5 223 359.5 222.2 358.9 221.5 358.7 220.2 360.2 218 360.4 216.8 359.8 204.5 360.4 181.5 359.9 173.5 360 170.2 360.7 167 362 164 363.8 162.1 364.8 161.5ZM365.8 162 367 162.1 368 162.5 369 163.2 370.1 164.5 370.9 166 371.6 168 372.1 172 371.5 181 371.6 190.5 372.1 203.5 372 206.2 371.5 208.2 370.8 209.8 370 210.8 368.2 212.1 367.8 212.8 367.2 215 367.2 216.2 367.4 216.8 368 217.1 369 217.2 374 216.9 375.3 216.5 379 214.3 383.8 212.4 387.2 211.5 390.8 211.4 393.2 211.6 396 212.3 397.8 213 399.2 214 399.9 215 400 216.2 399.5 217.2 398.2 218.3 395.8 219.3 392.2 220.1 382.8 220.9 377.5 223.1 373 223.9 363.5 224.3 362.2 223.9 361 223.1 359.9 222.2 359.3 221.5 359.1 221 359.1 220.2 360.3 218.2 360.6 216.8 360 204.2 360.3 192.2 360.8 181.2 360.3 173.5 360.4 170.5 361.1 167.2 362.2 164.6 363 163.6 364 162.8 364.8 162.3ZM365.2 162.8 366.2 162.6 367.5 162.9 368.8 163.7 369.7 164.8 370.5 166.2 371.2 168 371.6 170 371.8 172 371.2 180.8 371.2 190.3 371.6 203.2 371.6 205.8 371.2 207.8 370.5 209.2 369.8 210.3 368 211.8 367.5 212.6 367 215.5 367.2 216.9 367.8 217.3 369 217.4 373 217.4 375.5 217.1 376.8 216.6 380.8 214.4 384.5 212.8 387.5 212.1 390.5 211.9 392.8 212.1 395 212.6 397 213.4 398.2 214.2 398.9 215.2 398.9 216.2 398.3 217.2 397.2 218 394.8 219 391.5 219.7 382.5 220.3 381.5 220.7 379.4 222 377.8 222.8 375.8 223.3 373.2 223.7 363.5 224.1 362.5 223.8 361.2 223 360.2 222.2 359.6 221.5 359.4 221 359.4 220.2 360.5 218.3 360.7 217 360.3 202.5 360.6 191.5 361.2 180.5 360.6 173.8 360.7 171 361.2 168 362.2 165.5 363.6 163.8ZM365.3 163.2 366.5 163.1 367.5 163.4 368.5 164.1 369.5 165.2 370.3 166.5 370.9 168.2 371.5 172 370.8 180.5 370.9 190 371.3 203 371.2 205.5 370.9 207.2 370.3 208.8 369.5 209.9 367.8 211.5 367.3 212.5 366.9 215.5 367.1 217 367.8 217.4 368.8 217.5 374.2 217.5 377 217.3 378.2 216.8 381.8 214.8 385 213.3 387.5 212.6 390.2 212.3 392.2 212.5 394.4 213 396.2 213.8 397.2 214.5 397.8 215.2 397.8 216.2 397.3 217 396.3 217.8 394 218.7 390.8 219.3 382.2 219.6 381.2 220 379.2 221.8 377.8 222.5 375.8 223.1 373 223.6 363.5 224 361.5 223 359.9 221.5 359.6 220.8 359.7 220.2 360.7 218.2 360.8 217 360.4 202.2 360.7 192 361.5 180.5 360.9 173.8 361 171 361.5 168.2 362.5 165.8 363.8 164.2ZM365.1 164 366.2 163.8 367.2 164 368.2 164.6 369.1 165.5 369.9 166.8 370.6 168.5 371.1 172 370.4 180.5 370.8 205.2 370.5 207 369.9 208.5 369.2 209.5 367.8 211 367.2 211.9 366.9 214 366.8 216.6 367 217.2 368 217.6 377.5 217.9 379.5 218.1 380.2 218.5 380.2 219.2 379.9 220.2 378.9 221.5 377 222.6 374.5 223.2 370.8 223.6 363.8 223.8 362.5 223.4 361.1 222.5 360.2 221.5 359.9 220.8 360.1 220 360.8 218.2 361 217.2 360.6 206 360.7 200.2 361 191.2 361.9 180.5 361.3 174 361.3 171.2 361.8 168.8 362.6 166.5 363.8 164.9ZM388.8 213 391.5 213 394.4 213.8 395.4 214.2 396.2 215 396.4 215.5 396.4 216.2 395.8 217 394.5 217.8 392.5 218.4 390.2 218.8 386 218.9 382.2 218.4 380.9 218 380.8 217.5 381.2 216.8 383.3 215 386 213.7ZM365.8 164.5 366.8 164.5 367.8 165 368.5 165.6 369.2 166.6 370.3 169.2 370.7 172.5 370 180.2 370.4 205 370.1 206.8 369.6 208 367.5 210.7 367 211.8 366.7 213.8 366.6 216.8 367 217.5 367.8 217.8 374.2 218.1 377 218.4 378.4 219 378.9 219.5 379 220 378.7 221 377.9 221.8 376.8 222.4 375.2 222.8 371.5 223.4 364.2 223.7 362.8 223.3 361.4 222.5 360.5 221.5 360.2 220.5 361.1 217.5 360.8 205.5 361 196.2 361.3 189.8 362.2 183.5 362.4 180.8 362.3 178.5 361.7 173.8 361.7 171.2 362.2 168.8 363.2 166.5 364.5 165.1ZM388.9 213.8 391 213.7 393.1 214.2 394 214.8 394.5 215.2 394.6 215.8 394.5 216.2 393.8 217 392.7 217.5 391.3 217.9 389.5 218.2 386.2 217.9 384.9 217.5 384.3 217 384.2 216.5 384.4 216 385.4 215 387 214.2ZM365.9 165.5 366.7 165.6 367.5 165.9 368.2 166.5 369 167.5 369.8 169.8 370.2 172.5 369.3 180.2 369.8 204.5 369.6 206 369.2 207.3 367.5 209.7 366.9 211.2 366.5 213.5 366.4 217 366.8 217.7 367.5 218 373.5 218.3 376.2 218.8 377.6 219.5 378 220 378 220.5 377.6 221.2 377 221.8 374.5 222.7 370.8 223.2 364.2 223.4 363 223.2 362 222.6 361.1 221.8 360.6 220.8 361.4 217.5 361 206.2 361.1 199.5 361.6 190 362.8 183.2 363 180.7 363 178.5 362.3 173.8 362.4 170.8 362.9 168.8 363.7 167 364.8 166ZM389 215.8 390 215.6 390.3 215.8 390.4 216 390 216.2 389.2 216.3 388.8 216ZM365.6 166.5 366.2 166.4 367 166.6 367.8 167.1 368.3 167.8 369.3 169.8 369.6 172.5 369.5 174.5 368.8 178.2 368.6 180 369.2 204.2 368.7 206.8 367.2 209.2 366.7 210.7 366.3 214 366.2 217.2 366.8 218 367.5 218.2 372.8 218.5 375.5 219 376.9 219.8 377.3 220.5 376.9 221.2 375.8 222 374.2 222.5 372 222.9 363.8 223.1 362.8 222.8 361.9 222.2 361.2 221.5 361 220.8 361.5 217.5 361.2 205 361.6 192.2 362.1 188.5 363.4 183.2 363.7 180.5 363.6 178.5 362.8 174 362.8 171.8 363.1 169.8 363.7 168.2 364.5 167.2ZM365.4 167.5 366 167.3 366.8 167.4 367.5 167.8 368 168.4 368.8 170.2 369.1 172.5 369 174.5 368.1 178.2 367.9 180 368.7 204 368.3 206 367 208.9 366.5 210.6 366.2 212.8 366 217 366.2 217.8 367 218.3 374 218.9 375.8 219.5 376.6 220.2 376.5 221 375.6 221.8 374 222.3 372 222.7 369 222.9 363.8 222.9 362.8 222.6 362 222.1 361.5 221.5 361.2 220.8 361.7 217.8 361.4 205 361.9 192 362.4 188.2 364 183.2 364.5 180.5 364.4 178.5 363.4 174.2 363.3 171.8 363.6 170.2 364 169.1 364.7 168ZM365.9 168.2 367 168.5 367.8 169.2 368.4 170.8 368.6 172.8 368.2 175.3 366.9 179 366.7 180 367.1 184 368.1 203 367.9 205.5 366.8 208.7 366.2 211 365.9 217.2 366.2 218.1 367 218.5 373.8 219.1 375.5 219.8 376.1 220.5 376 221 375.4 221.5 373 222.3 369.8 222.7 364.5 222.9 363.5 222.7 362.5 222.2 361.8 221.5 361.4 220.8 361.9 217.8 361.5 207.5 361.6 202.5 361.9 193.8 362.4 189.5 363.1 187 365 183.2 365.7 180.2 365.6 179.2 364 174.7 363.8 173 363.8 171.5 364.1 170.2 364.6 169.2 365.2 168.6ZM366.1 170.5 366.5 170.6 367 171.1 367.4 172.5 367 174.2 366.8 174.7 366.2 175 365.5 174.5 365 172.8 365.3 171.2 365.8 170.7ZM364.3 187 365 187 365.5 187.5 366.1 189.5 366.6 193.2 367.1 201.2 367.1 204.8 365.9 211.5 365.6 217.5 366 218.3 366.8 218.7 372.5 219.3 374.2 219.8 374.9 220.2 375 220.8 374.7 221.2 372.8 222 369.5 222.4 364.2 222.5 362.7 222 362.2 221.5 361.8 220.8 362.1 217.8 361.9 214 361.8 204.5 362.3 193.8 362.6 191 363 189 363.5 187.9ZM364.1 188.5 364.5 188.5 365 188.9 365.7 191 366.1 194.5 366.6 201.5 366.6 204.8 365.7 211 365.4 217.8 365.8 218.5 366.5 218.9 371.8 219.4 373 219.8 374 220.2 374.1 220.5 374 221 372.5 221.8 369.2 222.2 364.2 222.3 362.9 221.7 362.2 220.8 362.4 217.8 362.1 214 362 205.5 362.4 196.2 363 190.8 363.5 189.2ZM363.9 191.5 364.2 191.4 364.5 191.7 365 193.5 365.8 202.8 365.8 205.8 364.9 218 365.3 218.8 366.2 219.4 370.5 219.9 372.1 220.5 372 221 370.7 221.5 368.5 221.8 364.2 221.8 363.2 221.4 362.7 220.5 362.9 218 362.5 213.8 362.5 203 363.1 194.5 363.5 192.3ZM364 195.8 364.3 196 364.8 198 365.2 202 365.3 205.2 364.7 215 364.2 217 364 217.7 363.8 217.8 363.2 216.6 362.9 214.8 362.8 206.2 363.2 198.8 363.5 197.1ZM363.7 218.5 364 218.3 365 219.4 366.2 220.1 368.8 220.4 369.2 220.5 369.3 220.8 368.2 221.1 364.8 221.3 364 221.1 363.5 220.8 363.3 220.2 363.4 219.5ZM364 201 364.2 201.3 364.5 202.5 364.7 206 364.2 213.5 364 214.8 363.8 215 363.5 214.4 363.4 213.2 363.2 206.2 363.5 202.6Z" fill="none" stroke="#1a1a1a" stroke-width="0.45" stroke-linejoin="round"/>
<path d="M367.4 208.1h0.6v0.6h-0.6zM370.1 203.4h0.6v0.6h-0.6zM367.1 186.6h0.6v0.6h-0.6zM371.2 172.1h0.6v0.6h-0.6zM363.5 162.1h0.6v0.6h-0.6zM368.4 189.8h0.6v0.6h-0.6zM364.6 186.1h0.6v0.6h-0.6zM372.6 181.4h0.6v0.6h-0.6zM358.6 194.5h0.6v0.6h-0.6zM371.8 180.9h0.6v0.6h-0.6zM357.2 197.7h0.6v0.6h-0.6zM371.5 171.4h0.6v0.6h-0.6zM358.5 173.5h0.6v0.6h-0.6zM368.9 204.8h0.6v0.6h-0.6zM358.7 187h0.6v0.6h-0.6zM370.3 207.1h0.6v0.6h-0.6zM360.8 159.3h0.6v0.6h-0.6zM358.2 205.5h0.6v0.6h-0.6zM371.8 159.1h0.6v0.6h-0.6zM366.8 196h0.6v0.6h-0.6zM371.4 187h0.6v0.6h-0.6zM370.5 162.5h0.6v0.6h-0.6zM358.6 172.2h0.6v0.6h-0.6zM358.6 181.7h0.6v0.6h-0.6zM369.2 185.9h0.6v0.6h-0.6zM371.4 182.1h0.6v0.6h-0.6zM360.1 157.5h0.6v0.6h-0.6zM372.1 209.2h0.6v0.6h-0.6zM357.4 174.8h0.6v0.6h-0.6zM370.1 194.7h0.6v0.6h-0.6zM367.7 205.7h0.6v0.6h-0.6zM363.5 208.1h0.6v0.6h-0.6zM363.5 165.8h0.6v0.6h-0.6zM362.2 203.7h0.6v0.6h-0.6zM365.1 183.4h0.6v0.6h-0.6zM365.5 191.1h0.6v0.6h-0.6zM359.8 169.2h0.6v0.6h-0.6zM357.2 163.7h0.6v0.6h-0.6zM366 187h0.6v0.6h-0.6zM360.2 204.3h0.6v0.6h-0.6zM358.7 178.4h0.6v0.6h-0.6zM361.3 207h0.6v0.6h-0.6zM359.5 193.8h0.6v0.6h-0.6zM371.7 157h0.6v0.6h-0.6zM361.9 206h0.6v0.6h-0.6zM368 162h0.6v0.6h-0.6zM357.2 167.9h0.6v0.6h-0.6zM368.2 186.1h0.6v0.6h-0.6zM373.2 206.3h0.6v0.6h-0.6zM369.8 163.2h0.6v0.6h-0.6zM370 171.9h0.6v0.6h-0.6zM364.1 158.4h0.6v0.6h-0.6zM365.1 160.7h0.6v0.6h-0.6zM372.3 179h0.6v0.6h-0.6zM361 186.8h0.6v0.6h-0.6zM365.6 183.3h0.6v0.6h-0.6zM369.4 158.5h0.6v0.6h-0.6zM362.7 178.9h0.6v0.6h-0.6zM365 179.8h0.6v0.6h-0.6zM357.6 206h0.6v0.6h-0.6zM368.6 173.5h0.6v0.6h-0.6zM359.8 189.9h0.6v0.6h-0.6zM361.4 182.1h0.6v0.6h-0.6zM360.8 197.6h0.6v0.6h-0.6zM369.2 188.3h0.6v0.6h-0.6zM363.8 209.1h0.6v0.6h-0.6zM373.9 190.1h0.6v0.6h-0.6zM370.6 174.3h0.6v0.6h-0.6zM372.7 178.5h0.6v0.6h-0.6zM368.7 201.8h0.6v0.6h-0.6zM360.9 175.7h0.6v0.6h-0.6zM362.5 205.6h0.6v0.6h-0.6zM363.2 179.6h0.6v0.6h-0.6zM360.4 206.5h0.6v0.6h-0.6zM364.9 164h0.6v0.6h-0.6zM370.4 197.9h0.6v0.6h-0.6zM365.9 179.8h0.6v0.6h-0.6zM359.8 168.1h0.6v0.6h-0.6zM369.5 187.6h0.6v0.6h-0.6zM373.4 159.2h0.6v0.6h-0.6zM365.1 166.7h0.6v0.6h-0.6zM359.4 201.3h0.6v0.6h-0.6zM369.4 184h0.6v0.6h-0.6zM366.2 174.1h0.6v0.6h-0.6zM370.7 163.7h0.6v0.6h-0.6zM367.3 164.6h0.6v0.6h-0.6zM371.8 168.3h0.6v0.6h-0.6zM357.2 180.6h0.6v0.6h-0.6zM368.1 157.1h0.6v0.6h-0.6zM367.2 167h0.6v0.6h-0.6zM370.2 178.9h0.6v0.6h-0.6zM360.7 203.2h0.6v0.6h-0.6zM367 202.3h0.6v0.6h-0.6zM361.5 206h0.6v0.6h-0.6zM369.8 168h0.6v0.6h-0.6zM358.4 162.6h0.6v0.6h-0.6zM359.7 201.4h0.6v0.6h-0.6zM373.1 193.4h0.6v0.6h-0.6zM369.5 169.2h0.6v0.6h-0.6zM361.3 179.2h0.6v0.6h-0.6zM362.3 205.5h0.6v0.6h-0.6zM364.4 199.7h0.6v0.6h-0.6zM361 206.1h0.6v0.6h-0.6zM359.4 182.4h0.6v0.6h-0.6zM373.5 166.3h0.6v0.6h-0.6zM360.6 184.8h0.6v0.6h-0.6zM369.7 162.1h0.6v0.6h-0.6zM369.2 162.3h0.6v0.6h-0.6zM369.5 160.9h0.6v0.6h-0.6zM362.2 169.5h0.6v0.6h-0.6zM360.8 164.8h0.6v0.6h-0.6zM367.5 169.8h0.6v0.6h-0.6zM373.9 193.2h0.6v0.6h-0.6zM363.6 192h0.6v0.6h-0.6zM360.7 157.4h0.6v0.6h-0.6zM365.6 202h0.6v0.6h-0.6zM360.2 199.9h0.6v0.6h-0.6zM362.9 206.5h0.6v0.6h-0.6zM369.5 167.7h0.6v0.6h-0.6zM361.1 195.1h0.6v0.6h-0.6zM364.6 185.8h0.6v0.6h-0.6zM367.9 193.8h0.6v0.6h-0.6zM359.7 204.3h0.6v0.6h-0.6zM359.5 160.3h0.6v0.6h-0.6zM373.4 201h0.6v0.6h-0.6zM371.8 201.9h0.6v0.6h-0.6zM372 190.5h0.6v0.6h-0.6zM366.7 177.5h0.6v0.6h-0.6zM365.6 185h0.6v0.6h-0.6zM358.8 163.5h0.6v0.6h-0.6zM361.1 195.9h0.6v0.6h-0.6zM358.9 185.5h0.6v0.6h-0.6zM366 186.8h0.6v0.6h-0.6zM364.4 193.9h0.6v0.6h-0.6zM359.9 161.4h0.6v0.6h-0.6zM358.7 158.5h0.6v0.6h-0.6zM366.8 162.4h0.6v0.6h-0.6zM359.4 160.3h0.6v0.6h-0.6zM357.2 198.9h0.6v0.6h-0.6zM360.8 163.1h0.6v0.6h-0.6zM370.7 176.2h0.6v0.6h-0.6zM368.2 191.1h0.6v0.6h-0.6zM365.8 169.8h0.6v0.6h-0.6zM360.8 204.8h0.6v0.6h-0.6zM364.9 204.9h0.6v0.6h-0.6zM357.2 176.9h0.6v0.6h-0.6zM362.5 187.4h0.6v0.6h-0.6zM365.1 198h0.6v0.6h-0.6zM358.6 208.5h0.6v0.6h-0.6zM366.9 193.1h0.6v0.6h-0.6zM364.5 180.1h0.6v0.6h-0.6zM357.9 158.3h0.6v0.6h-0.6zM359.5 190.3h0.6v0.6h-0.6zM365.3 191.3h0.6v0.6h-0.6zM372.2 193.1h0.6v0.6h-0.6zM358 174.6h0.6v0.6h-0.6zM366.6 202.1h0.6v0.6h-0.6zM361.8 187.7h0.6v0.6h-0.6zM363.6 176.3h0.6v0.6h-0.6zM372.7 169h0.6v0.6h-0.6zM367.7 157.6h0.6v0.6h-0.6zM361.8 194.1h0.6v0.6h-0.6zM364.7 172.9h0.6v0.6h-0.6zM373.7 201.7h0.6v0.6h-0.6zM371.7 173.2h0.6v0.6h-0.6zM364.2 172.4h0.6v0.6h-0.6zM366 197.9h0.6v0.6h-0.6zM364.8 176.3h0.6v0.6h-0.6zM359.6 208.7h0.6v0.6h-0.6zM373.5 186.3h0.6v0.6h-0.6zM360.9 206.2h0.6v0.6h-0.6zM360.7 162.5h0.6v0.6h-0.6zM358.9 158.5h0.6v0.6h-0.6zM373 156.7h0.6v0.6h-0.6zM372.6 202.9h0.6v0.6h-0.6zM367.8 181.5h0.6v0.6h-0.6zM366 195.2h0.6v0.6h-0.6zM366.9 184.1h0.6v0.6h-0.6zM363.3 207.8h0.6v0.6h-0.6zM372.1 199.3h0.6v0.6h-0.6zM366.5 181.7h0.6v0.6h-0.6zM371.6 165.7h0.6v0.6h-0.6zM368.8 176.6h0.6v0.6h-0.6zM368.5 176.9h0.6v0.6h-0.6zM368.4 175.3h0.6v0.6h-0.6zM370.2 194.2h0.6v0.6h-0.6zM370.8 200.8h0.6v0.6h-0.6zM368.6 200.4h0.6v0.6h-0.6zM362.5 166.5h0.6v0.6h-0.6zM361.5 165h0.6v0.6h-0.6zM360.3 191.9h0.6v0.6h-0.6zM371.6 195.2h0.6v0.6h-0.6zM365.3 197.9h0.6v0.6h-0.6zM357 204.3h0.6v0.6h-0.6zM367.2 174h0.6v0.6h-0.6zM371.7 159.6h0.6v0.6h-0.6zM372.6 175.8h0.6v0.6h-0.6zM373 173.3h0.6v0.6h-0.6zM371.8 161.9h0.6v0.6h-0.6zM360 192.4h0.6v0.6h-0.6zM365.8 183.4h0.6v0.6h-0.6zM369 189.4h0.6v0.6h-0.6zM367.9 202.5h0.6v0.6h-0.6zM363.1 186.8h0.6v0.6h-0.6zM357.6 203.5h0.6v0.6h-0.6zM372.2 199.6h0.6v0.6h-0.6zM370.2 184.2h0.6v0.6h-0.6zM371.7 189.1h0.6v0.6h-0.6zM363.6 181.2h0.6v0.6h-0.6zM361.2 176.7h0.6v0.6h-0.6zM371.4 195.1h0.6v0.6h-0.6zM368.1 188.2h0.6v0.6h-0.6zM368.3 175.8h0.6v0.6h-0.6zM357.6 190.9h0.6v0.6h-0.6zM358.8 184.7h0.6v0.6h-0.6zM370.1 162h0.6v0.6h-0.6zM372 195.9h0.6v0.6h-0.6zM363 182.6h0.6v0.6h-0.6zM371.8 205.7h0.6v0.6h-0.6zM360 204.1h0.6v0.6h-0.6zM366.9 162.1h0.6v0.6h-0.6zM362.9 170.2h0.6v0.6h-0.6zM366.1 193.3h0.6v0.6h-0.6zM360.3 166.7h0.6v0.6h-0.6zM363.5 200.1h0.6v0.6h-0.6zM364.8 192h0.6v0.6h-0.6zM366.8 206.9h0.6v0.6h-0.6zM360.5 174.8h0.6v0.6h-0.6zM367.3 192.8h0.6v0.6h-0.6zM360.6 188.2h0.6v0.6h-0.6zM373.6 192.5h0.6v0.6h-0.6zM361.1 206.7h0.6v0.6h-0.6zM358.9 174.9h0.6v0.6h-0.6zM361.6 168.4h0.6v0.6h-0.6zM366.7 199.1h0.6v0.6h-0.6zM364.6 164.1h0.6v0.6h-0.6zM368.2 185.5h0.6v0.6h-0.6zM358.9 205.5h0.6v0.6h-0.6zM364 201.3h0.6v0.6h-0.6zM366.5 193h0.6v0.6h-0.6z" fill="#9a9a9a"/>
<path d="M121.5 82V27.5H140.5 M121.5 56.5H140.5" fill="none" stroke="#5a5a5a" stroke-width="1.1"/>
<line x1="140.5" y1="12.5" x2="140.5" y2="115.5" stroke="#333" stroke-width="1.2"/>
<line x1="107.5" y1="82" x2="207.5" y2="82" stroke="#333" stroke-width="1.2"/>
<line x1="177.75" y1="12.5" x2="177.75" y2="55" stroke="#000" stroke-width="1.3"/>
<line x1="148.5" y1="24.4" x2="177.75" y2="24.4" stroke="#000" stroke-width="1.3"/>
<line x1="148.5" y1="34.25" x2="207.5" y2="34.25" stroke="#000" stroke-width="1.3"/>
<text x="163.4" y="22.5" font-size="9.4" font-weight="bold" stroke="#000" stroke-width="0.3" text-anchor="middle" fill="#000">0.04</text>
<text x="163.4" y="32.6" font-size="9.4" font-weight="bold" stroke="#000" stroke-width="0.3" text-anchor="middle" fill="#000">13.8</text>
<text x="192.4" y="27.2" font-size="9.4" font-weight="bold" stroke="#000" stroke-width="0.3" text-anchor="middle" fill="#000">15.7</text>
<text x="163.5" y="48.7" font-size="9.4" font-weight="bold" stroke="#000" stroke-width="0.3" text-anchor="middle" fill="#000">40.7</text>
<text x="192.4" y="48.7" font-size="9.4" font-weight="bold" stroke="#000" stroke-width="0.3" text-anchor="middle" fill="#000">29.5</text>
<text x="157.2" y="7.7" font-size="9" font-weight="bold" stroke="#000" stroke-width="0.25" text-anchor="middle" textLength="53.2" lengthAdjust="spacingAndGlyphs" fill="#000">unstimulated</text>
<path d="M239.5 82V27.5H257.5 M239.5 56.5H257.5" fill="none" stroke="#5a5a5a" stroke-width="1.1"/>
<line x1="257.5" y1="12.5" x2="257.5" y2="115.5" stroke="#333" stroke-width="1.2"/>
<line x1="225.5" y1="82" x2="324.5" y2="82" stroke="#333" stroke-width="1.2"/>
<line x1="294.5" y1="12.5" x2="294.5" y2="55" stroke="#000" stroke-width="1.3"/>
<line x1="264.5" y1="24.3" x2="294.5" y2="24.3" stroke="#000" stroke-width="1.3"/>
<line x1="264.5" y1="34.25" x2="324.5" y2="34.25" stroke="#000" stroke-width="1.3"/>
<text x="279.4" y="22.5" font-size="9.4" font-weight="bold" stroke="#000" stroke-width="0.3" text-anchor="middle" fill="#000">0.7</text>
<text x="279.6" y="32.6" font-size="9.4" font-weight="bold" stroke="#000" stroke-width="0.3" text-anchor="middle" fill="#000">12.7</text>
<text x="308.5" y="27.4" font-size="9.4" font-weight="bold" stroke="#000" stroke-width="0.3" text-anchor="middle" fill="#000">13.6</text>
<text x="280" y="48.7" font-size="9.4" font-weight="bold" stroke="#000" stroke-width="0.3" text-anchor="middle" fill="#000">47.8</text>
<text x="308.7" y="48.7" font-size="9.4" font-weight="bold" stroke="#000" stroke-width="0.3" text-anchor="middle" fill="#000">24.9</text>
<text x="275" y="7.6" font-size="9" font-weight="bold" stroke="#000" stroke-width="0.25" text-anchor="middle" textLength="18.8" lengthAdjust="spacingAndGlyphs" fill="#000">IL-21</text>
<path d="M121.5 210V155.5H140.5 M121.5 184.5H140.5" fill="none" stroke="#5a5a5a" stroke-width="1.1"/>
<line x1="140.5" y1="140.5" x2="140.5" y2="243.5" stroke="#333" stroke-width="1.2"/>
<line x1="107.5" y1="210" x2="207.5" y2="210" stroke="#333" stroke-width="1.2"/>
<line x1="175.75" y1="140.5" x2="175.75" y2="183" stroke="#000" stroke-width="1.3"/>
<line x1="144.5" y1="152.5" x2="175.75" y2="152.5" stroke="#000" stroke-width="1.3"/>
<line x1="144.5" y1="162" x2="207.5" y2="162" stroke="#000" stroke-width="1.3"/>
<text x="161" y="150.1" font-size="9.4" font-weight="bold" stroke="#000" stroke-width="0.3" text-anchor="middle" fill="#000">0.75</text>
<text x="161" y="160.1" font-size="9.4" font-weight="bold" stroke="#000" stroke-width="0.3" text-anchor="middle" fill="#000">12.8</text>
<text x="191.75" y="155.1" font-size="9.4" font-weight="bold" stroke="#000" stroke-width="0.3" text-anchor="middle" fill="#000">13.1</text>
<text x="160.25" y="176.2" font-size="9.4" font-weight="bold" stroke="#000" stroke-width="0.3" text-anchor="middle" fill="#000">49</text>
<text x="191.75" y="175.8" font-size="9.4" font-weight="bold" stroke="#000" stroke-width="0.3" text-anchor="middle" fill="#000">24.1</text>
<text x="157" y="135" font-size="9" font-weight="bold" stroke="#000" stroke-width="0.25" text-anchor="middle" textLength="51.2" lengthAdjust="spacingAndGlyphs" fill="#000">IL-21 + αIgM</text>
<path d="M238.9 210V155.5H257.5 M238.9 184.5H257.5" fill="none" stroke="#5a5a5a" stroke-width="1.1"/>
<line x1="257.5" y1="140.5" x2="257.5" y2="243.3" stroke="#333" stroke-width="1.2"/>
<line x1="224.5" y1="210" x2="324.5" y2="210" stroke="#333" stroke-width="1.2"/>
<line x1="292.5" y1="140.5" x2="292.5" y2="183" stroke="#000" stroke-width="1.3"/>
<line x1="261.25" y1="152" x2="292.5" y2="152" stroke="#000" stroke-width="1.3"/>
<line x1="261.25" y1="162.5" x2="324.5" y2="162.5" stroke="#000" stroke-width="1.3"/>
<text x="277.75" y="150.5" font-size="9.4" font-weight="bold" stroke="#000" stroke-width="0.3" text-anchor="middle" fill="#000">12.6</text>
<text x="277.75" y="160.5" font-size="9.4" font-weight="bold" stroke="#000" stroke-width="0.3" text-anchor="middle" fill="#000">30.6</text>
<text x="308.2" y="155.1" font-size="9.4" font-weight="bold" stroke="#000" stroke-width="0.3" text-anchor="middle" fill="#000">3</text>
<text x="277.5" y="176.2" font-size="9.4" font-weight="bold" stroke="#000" stroke-width="0.3" text-anchor="middle" fill="#000">39.3</text>
<text x="308.25" y="176.2" font-size="9.4" font-weight="bold" stroke="#000" stroke-width="0.3" text-anchor="middle" fill="#000">13.9</text>
<text x="275" y="135" font-size="9" font-weight="bold" stroke="#000" stroke-width="0.25" text-anchor="middle" textLength="57.5" lengthAdjust="spacingAndGlyphs" fill="#000">IL-21 + αCD40</text>
<path d="M356.5 209.8V155.5H374.5 M356.5 184.5H374.5" fill="none" stroke="#5a5a5a" stroke-width="1.1"/>
<line x1="374.5" y1="140.5" x2="374.5" y2="243" stroke="#333" stroke-width="1.2"/>
<line x1="342.5" y1="209.8" x2="441.5" y2="209.8" stroke="#333" stroke-width="1.2"/>
<line x1="410" y1="140.5" x2="410" y2="183" stroke="#000" stroke-width="1.3"/>
<line x1="378.75" y1="152" x2="410" y2="152" stroke="#000" stroke-width="1.3"/>
<line x1="378.75" y1="162" x2="441.5" y2="162" stroke="#000" stroke-width="1.3"/>
<text x="395" y="150.2" font-size="9.4" font-weight="bold" stroke="#000" stroke-width="0.3" text-anchor="middle" fill="#000">13.9</text>
<text x="395" y="160.2" font-size="9.4" font-weight="bold" stroke="#000" stroke-width="0.3" text-anchor="middle" fill="#000">26.7</text>
<text x="425.75" y="155.1" font-size="9.4" font-weight="bold" stroke="#000" stroke-width="0.3" text-anchor="middle" fill="#000">3.9</text>
<text x="395" y="176.1" font-size="9.4" font-weight="bold" stroke="#000" stroke-width="0.3" text-anchor="middle" fill="#000">36.2</text>
<text x="425.75" y="176.1" font-size="9.4" font-weight="bold" stroke="#000" stroke-width="0.3" text-anchor="middle" fill="#000">18.8</text>
<text x="392.75" y="135" font-size="9" font-weight="bold" stroke="#000" stroke-width="0.25" text-anchor="middle" textLength="85.5" lengthAdjust="spacingAndGlyphs" fill="#000">IL-21+ αIgM + αCD40</text>
<line x1="393" y1="26.3" x2="393" y2="90" stroke="#000" stroke-width="1.6"/>
<line x1="348.75" y1="42.5" x2="393" y2="42.5" stroke="#000" stroke-width="1.6"/>
<line x1="348.75" y1="58.75" x2="437.5" y2="58.75" stroke="#000" stroke-width="1.6"/>
<text x="371.2" y="38.9" font-size="10.6" font-weight="bold" stroke="#000" stroke-width="0.3" text-anchor="middle" textLength="15" lengthAdjust="spacingAndGlyphs" fill="#000">PC</text>
<text x="371.2" y="55.4" font-size="10.6" font-weight="bold" stroke="#000" stroke-width="0.3" text-anchor="middle" textLength="16" lengthAdjust="spacingAndGlyphs" fill="#000">GC</text>
<text x="397.5" y="47.4" font-size="10.6" font-weight="bold" stroke="#000" stroke-width="0.3" textLength="35" lengthAdjust="spacingAndGlyphs" fill="#000">preGC</text>
<text x="356.3" y="78.8" font-size="10.6" font-weight="bold" stroke="#000" stroke-width="0.3" textLength="29.2" lengthAdjust="spacingAndGlyphs" fill="#000">mem.</text>
<text x="400.8" y="78.8" font-size="10.6" font-weight="bold" stroke="#000" stroke-width="0.3" textLength="28.7" lengthAdjust="spacingAndGlyphs" fill="#000">naive</text>
<text x="1.2" y="278.8" font-size="10.5" font-weight="bold" stroke="#000" stroke-width="0.3" fill="#000">B</text>
<path d="M26.75 288.5V382 M26.15 382H166.5 M23.75 288.7H26.75 M23.75 311.9H26.75 M23.75 335.2H26.75 M23.75 358.6H26.75 M23.75 382H26.75 M35.3 382v2.5 M53 382v2.5 M70.75 382v2.5 M88.1 382v2.5 M105.3 382v2.5 M122.7 382v2.5 M140.1 382v2.5 M158 382v2.5" stroke="#000" stroke-width="1.3" fill="none"/>
<text x="22.75" y="291.1" font-size="6.7" font-weight="bold" stroke="#000" stroke-width="0.25" text-anchor="end" fill="#000">40</text>
<text x="22.75" y="314.3" font-size="6.7" font-weight="bold" stroke="#000" stroke-width="0.25" text-anchor="end" fill="#000">30</text>
<text x="22.75" y="337.6" font-size="6.7" font-weight="bold" stroke="#000" stroke-width="0.25" text-anchor="end" fill="#000">20</text>
<text x="22.75" y="361" font-size="6.7" font-weight="bold" stroke="#000" stroke-width="0.25" text-anchor="end" fill="#000">10</text>
<text x="22.75" y="384.4" font-size="6.7" font-weight="bold" stroke="#000" stroke-width="0.25" text-anchor="end" fill="#000">0</text>
<text x="42" y="277.4" font-size="9" font-weight="bold" stroke="#000" stroke-width="0.3" textLength="97.2" lengthAdjust="spacingAndGlyphs" fill="#000">germinal center B cells</text>
<text transform="translate(11.3,335.1) rotate(-90)" font-size="7.9" font-weight="bold" stroke="#000" stroke-width="0.25" text-anchor="middle" textLength="76.4" lengthAdjust="spacingAndGlyphs"><tspan>CD19</tspan><tspan dy="-3" font-size="5.6">+</tspan><tspan dy="3">CD38</tspan><tspan dy="-3" font-size="5.6">+</tspan><tspan dy="3">IgD</tspan><tspan dy="-3" font-size="5.6">-</tspan><tspan dy="3"> (%)</tspan></text>
<text x="13.25" y="393.2" font-size="7.2" font-weight="bold" stroke="#000" stroke-width="0.2" text-anchor="middle" textLength="17.2" lengthAdjust="spacingAndGlyphs" fill="#000">IL-21</text>
<text x="13.25" y="402.9" font-size="7.2" font-weight="bold" stroke="#000" stroke-width="0.2" text-anchor="middle" textLength="17.4" lengthAdjust="spacingAndGlyphs" fill="#000">αIgM</text>
<text x="13.25" y="412.7" font-size="7.2" font-weight="bold" stroke="#000" stroke-width="0.2" text-anchor="middle" textLength="24" lengthAdjust="spacingAndGlyphs" fill="#000">αCD40</text>
<path d="M33.9 390.5h2.8M50.6 390.5h4.8M53 388.1v4.8M69.35 390.5h2.8M85.7 390.5h4.8M88.1 388.1v4.8M103.9 390.5h2.8M120.3 390.5h4.8M122.7 388.1v4.8M138.7 390.5h2.8M155.6 390.5h4.8M158 388.1v4.8M33.9 400.2h2.8M51.6 400.2h2.8M68.35 400.2h4.8M70.75 397.8v4.8M85.7 400.2h4.8M88.1 397.8v4.8M103.9 400.2h2.8M121.3 400.2h2.8M137.7 400.2h4.8M140.1 397.8v4.8M155.6 400.2h4.8M158 397.8v4.8M33.9 410.5h2.8M51.6 410.5h2.8M69.35 410.5h2.8M86.7 410.5h2.8M102.9 410.5h4.8M105.3 408.1v4.8M120.3 410.5h4.8M122.7 408.1v4.8M137.7 410.5h4.8M140.1 408.1v4.8M155.6 410.5h4.8M158 408.1v4.8" stroke="#000" stroke-width="1.25" fill="none"/>
<path d="M35.9 296.7V294.3H53.2V296.7M71.35 296.7V294.3H88.3V296.7M105.9 296.7V294.3H122.9V296.7M140.7 296.7V294.3H158.2V296.7" stroke="#555" stroke-width="0.8" fill="none"/>
<text x="44.55" y="297.9" font-size="10" font-weight="bold" text-anchor="middle" fill="#000">*</text>
<text x="79.83" y="291.9" font-size="6" text-anchor="middle" textLength="8" lengthAdjust="spacingAndGlyphs" fill="#222">NS</text>
<text x="114.4" y="297.9" font-size="10" font-weight="bold" text-anchor="middle" fill="#000">*</text>
<text x="149.45" y="297.9" font-size="10" font-weight="bold" text-anchor="middle" fill="#000">**</text>
<path d="M35.3 346V365M33.1 346h4.4M33.1 365h4.4" stroke="#8c8c8c" stroke-width="0.9" fill="none"/>
<path d="M53 354V368M50.8 354h4.4M50.8 368h4.4" stroke="#8c8c8c" stroke-width="0.9" fill="none"/>
<path d="M70.75 366V374.5M68.55 366h4.4M68.55 374.5h4.4" stroke="#8c8c8c" stroke-width="0.9" fill="none"/>
<path d="M88.1 357.5V371M85.9 357.5h4.4M85.9 371h4.4" stroke="#8c8c8c" stroke-width="0.9" fill="none"/>
<path d="M105.3 366V377M103.1 366h4.4M103.1 377h4.4" stroke="#8c8c8c" stroke-width="0.9" fill="none"/>
<path d="M122.7 315.5V351.8M120.5 315.5h4.4M120.5 351.8h4.4" stroke="#8c8c8c" stroke-width="0.9" fill="none"/>
<path d="M140.1 372V379M137.9 372h4.4M137.9 379h4.4" stroke="#8c8c8c" stroke-width="0.9" fill="none"/>
<path d="M158 312.9V349.9M155.8 312.9h4.4M155.8 349.9h4.4" stroke="#8c8c8c" stroke-width="0.9" fill="none"/>
<path d="M33.45 344.75h4.1v4.1h-4.1zM30.95 350.85h4.1v4.1h-4.1zM33.05 356.85h4.1v4.1h-4.1zM33.05 363.65h4.1v4.1h-4.1zM48.55 353.55h4.1v4.1h-4.1zM51.85 353.55h4.1v4.1h-4.1zM48.55 359.55h4.1v4.1h-4.1zM53.95 368.95h4.1v4.1h-4.1zM68.45 354.95h4.1v4.1h-4.1zM65.95 364.95h4.1v4.1h-4.1zM70.75 364.95h4.1v4.1h-4.1zM68.45 376.45h4.1v4.1h-4.1zM85.95 348.15h4.1v4.1h-4.1zM85.95 356.85h4.1v4.1h-4.1zM88.95 360.25h4.1v4.1h-4.1zM85.95 364.25h4.1v4.1h-4.1zM88.95 373.75h4.1v4.1h-4.1zM103.05 351.05h4.1v4.1h-4.1zM103.05 357.15h4.1v4.1h-4.1zM103.05 363.55h4.1v4.1h-4.1zM100.25 368.15h4.1v4.1h-4.1zM103.05 378.05h4.1v4.1h-4.1zM120.55 303.55h4.1v4.1h-4.1zM124.05 312.65h4.1v4.1h-4.1zM120.85 316.95h4.1v4.1h-4.1zM120.85 341.45h4.1v4.1h-4.1zM120.85 352.45h4.1v4.1h-4.1zM135.15 363.55h4.1v4.1h-4.1zM137.95 368.45h4.1v4.1h-4.1zM136.45 374.45h4.1v4.1h-4.1zM139.45 375.45h4.1v4.1h-4.1zM137.95 376.95h4.1v4.1h-4.1zM158.95 306.15h4.1v4.1h-4.1zM155.45 309.15h4.1v4.1h-4.1zM155.75 319.55h4.1v4.1h-4.1zM158.95 325.75h4.1v4.1h-4.1zM155.75 334.45h4.1v4.1h-4.1z" fill="#000"/>
<g fill="#fff" stroke="#000" stroke-width="1.05"><circle cx="38.5" cy="349.5" r="1.75"/><circle cx="37.8" cy="369" r="1.75"/><circle cx="35" cy="373.7" r="1.75"/><circle cx="56.6" cy="358.9" r="1.75"/><circle cx="53" cy="366" r="1.75"/><circle cx="53" cy="373.7" r="1.75"/><circle cx="67.4" cy="373.7" r="1.75"/><circle cx="72.8" cy="375" r="1.75"/><circle cx="70" cy="373.7" r="1.75"/><circle cx="84.9" cy="363.6" r="1.75"/><circle cx="84.9" cy="372.8" r="1.75"/><circle cx="88" cy="376.4" r="1.75"/><circle cx="102.3" cy="374.9" r="1.75"/><circle cx="108.1" cy="377.5" r="1.75"/><circle cx="121.2" cy="327.4" r="1.75"/><circle cx="122.9" cy="366.2" r="1.75"/><circle cx="136.9" cy="374.4" r="1.75"/><circle cx="141" cy="374" r="1.75"/><circle cx="157.5" cy="329.5" r="1.75"/><circle cx="160.4" cy="354.8" r="1.75"/><circle cx="157.5" cy="357.4" r="1.75"/></g>
<path d="M29.7 355.3h11.2M47.4 359.9h11.2M65.15 370.1h11.2M82.5 364.3h11.2M99.7 371.4h11.2M117.1 327.4h11.2M134.5 375.7h11.2M152.4 328.6h11.2" stroke="#000" stroke-width="1.1" fill="none"/>
<path d="M204.5 288.5V331.5 M204.5 338V381.3 M203.9 381.3H341.5 M201.5 288.6H204.5 M201.5 301.2H204.5 M201.5 313.8H204.5 M201.5 326.3H204.5 M201.5 338.6H204.5 M201.5 352.6H204.5 M201.5 366.8H204.5 M201.5 381.2H204.5 M212.3 381.3v2.5 M230.1 381.3v2.5 M247.8 381.3v2.5 M265.4 381.3v2.5 M282.6 381.3v2.5 M300.3 381.3v2.5 M317.7 381.3v2.5 M335.2 381.3v2.5" stroke="#000" stroke-width="1.3" fill="none"/>
<text x="200.5" y="291" font-size="6.7" font-weight="bold" stroke="#000" stroke-width="0.25" text-anchor="end" fill="#000">40</text>
<text x="200.5" y="303.6" font-size="6.7" font-weight="bold" stroke="#000" stroke-width="0.25" text-anchor="end" fill="#000">30</text>
<text x="200.5" y="316.2" font-size="6.7" font-weight="bold" stroke="#000" stroke-width="0.25" text-anchor="end" fill="#000">20</text>
<text x="200.5" y="328.7" font-size="6.7" font-weight="bold" stroke="#000" stroke-width="0.25" text-anchor="end" fill="#000">10</text>
<text x="200.5" y="341" font-size="6.7" font-weight="bold" stroke="#000" stroke-width="0.25" text-anchor="end" fill="#000">3</text>
<text x="200.5" y="355" font-size="6.7" font-weight="bold" stroke="#000" stroke-width="0.25" text-anchor="end" fill="#000">2</text>
<text x="200.5" y="369.2" font-size="6.7" font-weight="bold" stroke="#000" stroke-width="0.25" text-anchor="end" fill="#000">1</text>
<text x="200.5" y="383.6" font-size="6.7" font-weight="bold" stroke="#000" stroke-width="0.25" text-anchor="end" fill="#000">0</text>
<text x="250.6" y="276.8" font-size="9" font-weight="bold" stroke="#000" stroke-width="0.3" textLength="54" lengthAdjust="spacingAndGlyphs" fill="#000">Plasma cells</text>
<text transform="translate(188.3,334.8) rotate(-90)" font-size="7.9" font-weight="bold" stroke="#000" stroke-width="0.25" text-anchor="middle" textLength="90.5" lengthAdjust="spacingAndGlyphs"><tspan>CD19</tspan><tspan dy="-3" font-size="5.6">+</tspan><tspan dy="3">IgD</tspan><tspan dy="-3" font-size="5.6">-</tspan><tspan dy="3">CD38</tspan><tspan dy="-3" font-size="5.6">++</tspan><tspan dy="3"> PC (%)</tspan></text>
<text x="191" y="392.5" font-size="7.2" font-weight="bold" stroke="#000" stroke-width="0.2" text-anchor="middle" textLength="17.2" lengthAdjust="spacingAndGlyphs" fill="#000">IL-21</text>
<text x="191" y="402.8" font-size="7.2" font-weight="bold" stroke="#000" stroke-width="0.2" text-anchor="middle" textLength="17.4" lengthAdjust="spacingAndGlyphs" fill="#000">αIgM</text>
<text x="191" y="412.7" font-size="7.2" font-weight="bold" stroke="#000" stroke-width="0.2" text-anchor="middle" textLength="24" lengthAdjust="spacingAndGlyphs" fill="#000">αCD40</text>
<path d="M210.9 389.8h2.8M227.7 389.8h4.8M230.1 387.4v4.8M246.4 389.8h2.8M263 389.8h4.8M265.4 387.4v4.8M281.2 389.8h2.8M297.9 389.8h4.8M300.3 387.4v4.8M316.3 389.8h2.8M332.8 389.8h4.8M335.2 387.4v4.8M210.9 400.1h2.8M228.7 400.1h2.8M245.4 400.1h4.8M247.8 397.7v4.8M263 400.1h4.8M265.4 397.7v4.8M281.2 400.1h2.8M298.9 400.1h2.8M315.3 400.1h4.8M317.7 397.7v4.8M332.8 400.1h4.8M335.2 397.7v4.8M210.9 410.5h2.8M228.7 410.5h2.8M246.4 410.5h2.8M264 410.5h2.8M280.2 410.5h4.8M282.6 408.1v4.8M297.9 410.5h4.8M300.3 408.1v4.8M315.3 410.5h4.8M317.7 408.1v4.8M332.8 410.5h4.8M335.2 408.1v4.8" stroke="#000" stroke-width="1.25" fill="none"/>
<path d="M212.9 296.1V293.7H230.3V296.1M248.4 296.1V293.7H265.6V296.1M283.2 296.1V293.7H300.5V296.1M318.3 296.1V293.7H335.4V296.1" stroke="#555" stroke-width="0.8" fill="none"/>
<text x="221.6" y="291.3" font-size="6" text-anchor="middle" textLength="8" lengthAdjust="spacingAndGlyphs" fill="#222">NS</text>
<text x="257" y="291.3" font-size="6" text-anchor="middle" textLength="8" lengthAdjust="spacingAndGlyphs" fill="#222">NS</text>
<text x="291.85" y="297.3" font-size="10" font-weight="bold" text-anchor="middle" fill="#000">**</text>
<text x="326.85" y="297.3" font-size="10" font-weight="bold" text-anchor="middle" fill="#000">**</text>
<path d="M212.3 372V379.5M210.1 372h4.4M210.1 379.5h4.4" stroke="#8c8c8c" stroke-width="0.9" fill="none"/>
<path d="M230.1 370V378M227.9 370h4.4M227.9 378h4.4" stroke="#8c8c8c" stroke-width="0.9" fill="none"/>
<path d="M247.8 374V381M245.6 374h4.4M245.6 381h4.4" stroke="#8c8c8c" stroke-width="0.9" fill="none"/>
<path d="M265.4 373V379.5M263.2 373h4.4M263.2 379.5h4.4" stroke="#8c8c8c" stroke-width="0.9" fill="none"/>
<path d="M282.6 370V380M280.4 370h4.4M280.4 380h4.4" stroke="#8c8c8c" stroke-width="0.9" fill="none"/>
<path d="M300.3 321.6V327.5M298.1 321.6h4.4M298.1 327.5h4.4" stroke="#8c8c8c" stroke-width="0.9" fill="none"/>
<path d="M317.7 374.5V380M315.5 374.5h4.4M315.5 380h4.4" stroke="#8c8c8c" stroke-width="0.9" fill="none"/>
<path d="M335.2 312V328.6M333 312h4.4M333 328.6h4.4" stroke="#8c8c8c" stroke-width="0.9" fill="none"/>
<path d="M208.05 371.95h4.1v4.1h-4.1zM211.65 374.15h4.1v4.1h-4.1zM213.45 370.45h4.1v4.1h-4.1zM207.45 376.45h4.1v4.1h-4.1zM225.35 370.55h4.1v4.1h-4.1zM231.85 369.05h4.1v4.1h-4.1zM228.95 374.15h4.1v4.1h-4.1zM225.45 374.95h4.1v4.1h-4.1zM245.55 369.75h4.1v4.1h-4.1zM245.55 374.15h4.1v4.1h-4.1zM242.95 376.95h4.1v4.1h-4.1zM247.95 377.45h4.1v4.1h-4.1zM263.65 371.95h4.1v4.1h-4.1zM260.95 375.45h4.1v4.1h-4.1zM265.95 375.95h4.1v4.1h-4.1zM280.75 365.35h4.1v4.1h-4.1zM277.85 368.15h4.1v4.1h-4.1zM280.75 372.85h4.1v4.1h-4.1zM277.85 377.15h4.1v4.1h-4.1zM298.25 307.35h4.1v4.1h-4.1zM295.25 312.65h4.1v4.1h-4.1zM298.75 316.15h4.1v4.1h-4.1zM295.45 324.45h4.1v4.1h-4.1zM300.45 324.75h4.1v4.1h-4.1zM312.75 371.05h4.1v4.1h-4.1zM313.45 375.95h4.1v4.1h-4.1zM317.45 376.45h4.1v4.1h-4.1zM315.65 377.95h4.1v4.1h-4.1zM333.15 298.65h4.1v4.1h-4.1zM333.15 308.75h4.1v4.1h-4.1zM333.15 322.75h4.1v4.1h-4.1zM332.45 328.65h4.1v4.1h-4.1zM335.95 328.65h4.1v4.1h-4.1z" fill="#000"/>
<g fill="#fff" stroke="#000" stroke-width="1.05"><circle cx="213" cy="361.7" r="1.75"/><circle cx="211" cy="379" r="1.75"/><circle cx="214.5" cy="379.5" r="1.75"/><circle cx="230.6" cy="351.6" r="1.75"/><circle cx="233.9" cy="379.8" r="1.75"/><circle cx="229" cy="379" r="1.75"/><circle cx="245" cy="366.1" r="1.75"/><circle cx="249.5" cy="379.5" r="1.75"/><circle cx="265.7" cy="357.1" r="1.75"/><circle cx="267" cy="379.5" r="1.75"/><circle cx="262.5" cy="379" r="1.75"/><circle cx="282.8" cy="360" r="1.75"/><circle cx="282.8" cy="378.5" r="1.75"/><circle cx="285" cy="378" r="1.75"/><circle cx="300.8" cy="329.5" r="1.75"/><circle cx="303" cy="328.6" r="1.75"/><circle cx="298" cy="328.5" r="1.75"/><circle cx="317.7" cy="374.9" r="1.75"/><circle cx="320.5" cy="376.5" r="1.75"/><circle cx="335.2" cy="316.9" r="1.75"/><circle cx="332.2" cy="323" r="1.75"/><circle cx="332.2" cy="325.1" r="1.75"/></g>
<path d="M206.7 376.3h11.2M224.5 374h11.2M242.2 378.3h11.2M259.8 376.5h11.2M277 375.7h11.2M294.7 326.5h11.2M312.1 377.5h11.2M329.6 323h11.2" stroke="#000" stroke-width="1.1" fill="none"/>
<path d="M378.5 288.3V381.6 M377.9 381.6H518.8 M375.5 288.6H378.5 M375.5 319.5H378.5 M375.5 350.5H378.5 M375.5 381.6H378.5 M387.6 381.6v2.5 M405.5 381.6v2.5 M422.5 381.6v2.5 M440.1 381.6v2.5 M457.5 381.6v2.5 M475 381.6v2.5 M492.5 381.6v2.5 M510 381.6v2.5" stroke="#000" stroke-width="1.3" fill="none"/>
<text x="374.5" y="291" font-size="6.7" font-weight="bold" stroke="#000" stroke-width="0.25" text-anchor="end" fill="#000">30</text>
<text x="374.5" y="321.9" font-size="6.7" font-weight="bold" stroke="#000" stroke-width="0.25" text-anchor="end" fill="#000">20</text>
<text x="374.5" y="352.9" font-size="6.7" font-weight="bold" stroke="#000" stroke-width="0.25" text-anchor="end" fill="#000">10</text>
<text x="374.5" y="384" font-size="6.7" font-weight="bold" stroke="#000" stroke-width="0.25" text-anchor="end" fill="#000">0</text>
<text x="393.3" y="277.6" font-size="9" font-weight="bold" stroke="#000" stroke-width="0.3" textLength="112.3" lengthAdjust="spacingAndGlyphs" fill="#000">pregerminal center B cells</text>
<text transform="translate(363.1,335.6) rotate(-90)" font-size="7.9" font-weight="bold" stroke="#000" stroke-width="0.25" text-anchor="middle" textLength="74.8" lengthAdjust="spacingAndGlyphs"><tspan>CD19</tspan><tspan dy="-3" font-size="5.6">+</tspan><tspan dy="3">CD38</tspan><tspan dy="-3" font-size="5.6">+</tspan><tspan dy="3">IgD</tspan><tspan dy="-3" font-size="5.6">+</tspan><tspan dy="3"> (%)</tspan></text>
<text x="365" y="393" font-size="7.2" font-weight="bold" stroke="#000" stroke-width="0.2" text-anchor="middle" textLength="17.2" lengthAdjust="spacingAndGlyphs" fill="#000">IL-21</text>
<text x="365" y="403" font-size="7.2" font-weight="bold" stroke="#000" stroke-width="0.2" text-anchor="middle" textLength="17.4" lengthAdjust="spacingAndGlyphs" fill="#000">αIgM</text>
<text x="365" y="412.7" font-size="7.2" font-weight="bold" stroke="#000" stroke-width="0.2" text-anchor="middle" textLength="24" lengthAdjust="spacingAndGlyphs" fill="#000">αCD40</text>
<path d="M386.2 390.3h2.8M403.1 390.3h4.8M405.5 387.9v4.8M421.1 390.3h2.8M437.7 390.3h4.8M440.1 387.9v4.8M456.1 390.3h2.8M472.6 390.3h4.8M475 387.9v4.8M491.1 390.3h2.8M507.6 390.3h4.8M510 387.9v4.8M386.2 400.3h2.8M404.1 400.3h2.8M420.1 400.3h4.8M422.5 397.9v4.8M437.7 400.3h4.8M440.1 397.9v4.8M456.1 400.3h2.8M473.6 400.3h2.8M490.1 400.3h4.8M492.5 397.9v4.8M507.6 400.3h4.8M510 397.9v4.8M386.2 410.5h2.8M404.1 410.5h2.8M421.1 410.5h2.8M438.7 410.5h2.8M455.1 410.5h4.8M457.5 408.1v4.8M472.6 410.5h4.8M475 408.1v4.8M490.1 410.5h4.8M492.5 408.1v4.8M507.6 410.5h4.8M510 408.1v4.8" stroke="#000" stroke-width="1.25" fill="none"/>
<path d="M388.2 295.9V293.5H405.7V295.9M423.1 295.9V293.5H440.3V295.9M458.1 295.9V293.5H475.2V295.9M493.1 295.9V293.5H510.2V295.9" stroke="#555" stroke-width="0.8" fill="none"/>
<text x="396.95" y="291.1" font-size="6" text-anchor="middle" textLength="8" lengthAdjust="spacingAndGlyphs" fill="#222">NS</text>
<text x="431.7" y="291.1" font-size="6" text-anchor="middle" textLength="8" lengthAdjust="spacingAndGlyphs" fill="#222">NS</text>
<text x="466.65" y="297.1" font-size="10" font-weight="bold" text-anchor="middle" fill="#000">*</text>
<text x="501.65" y="291.1" font-size="6" text-anchor="middle" textLength="8" lengthAdjust="spacingAndGlyphs" fill="#222">NS</text>
<path d="M387.6 333V350.5M385.4 333h4.4M385.4 350.5h4.4" stroke="#8c8c8c" stroke-width="0.9" fill="none"/>
<path d="M405.5 340V352M403.3 340h4.4M403.3 352h4.4" stroke="#8c8c8c" stroke-width="0.9" fill="none"/>
<path d="M422.5 343.5V359.5M420.3 343.5h4.4M420.3 359.5h4.4" stroke="#8c8c8c" stroke-width="0.9" fill="none"/>
<path d="M440.1 345.5V357M437.9 345.5h4.4M437.9 357h4.4" stroke="#8c8c8c" stroke-width="0.9" fill="none"/>
<path d="M457.5 338.2V358.3M455.3 338.2h4.4M455.3 358.3h4.4" stroke="#8c8c8c" stroke-width="0.9" fill="none"/>
<path d="M475 366V376M472.8 366h4.4M472.8 376h4.4" stroke="#8c8c8c" stroke-width="0.9" fill="none"/>
<path d="M492.5 345.2V367.9M490.3 345.2h4.4M490.3 367.9h4.4" stroke="#8c8c8c" stroke-width="0.9" fill="none"/>
<path d="M510 351V370.2M507.8 351h4.4M507.8 370.2h4.4" stroke="#8c8c8c" stroke-width="0.9" fill="none"/>
<path d="M385.55 324.65h4.1v4.1h-4.1zM385.55 331.35h4.1v4.1h-4.1zM383.35 338.75h4.1v4.1h-4.1zM385.55 343.95h4.1v4.1h-4.1zM400.35 334.35h4.1v4.1h-4.1zM403.35 334.35h4.1v4.1h-4.1zM406.35 337.75h4.1v4.1h-4.1zM403.35 341.25h4.1v4.1h-4.1zM400.35 349.85h4.1v4.1h-4.1zM420.45 321.95h4.1v4.1h-4.1zM420.45 333.85h4.1v4.1h-4.1zM420.45 342.05h4.1v4.1h-4.1zM423.65 349.15h4.1v4.1h-4.1zM420.45 353.15h4.1v4.1h-4.1zM437.95 336.25h4.1v4.1h-4.1zM435.25 339.15h4.1v4.1h-4.1zM440.95 342.15h4.1v4.1h-4.1zM437.95 345.15h4.1v4.1h-4.1zM440.95 354.05h4.1v4.1h-4.1zM455.55 314.05h4.1v4.1h-4.1zM455.55 333.55h4.1v4.1h-4.1zM455.55 344.35h4.1v4.1h-4.1zM458.35 343.15h4.1v4.1h-4.1zM476.15 355.95h4.1v4.1h-4.1zM472.95 358.35h4.1v4.1h-4.1zM472.95 368.45h4.1v4.1h-4.1zM470.85 373.75h4.1v4.1h-4.1zM474.35 373.75h4.1v4.1h-4.1zM490.05 318.75h4.1v4.1h-4.1zM487.45 342.65h4.1v4.1h-4.1zM490.95 344.95h4.1v4.1h-4.1zM490.05 363.55h4.1v4.1h-4.1zM487.45 359.75h4.1v4.1h-4.1zM504.35 350.15h4.1v4.1h-4.1zM507.55 366.35h4.1v4.1h-4.1zM504.35 369.35h4.1v4.1h-4.1zM511.05 369.35h4.1v4.1h-4.1z" fill="#000"/>
<g fill="#fff" stroke="#000" stroke-width="1.05"><circle cx="387.6" cy="309.6" r="1.75"/><circle cx="389.8" cy="343" r="1.75"/><circle cx="387.6" cy="360.8" r="1.75"/><circle cx="407.9" cy="349.7" r="1.75"/><circle cx="405.4" cy="354.6" r="1.75"/><circle cx="405.4" cy="364.5" r="1.75"/><circle cx="419.5" cy="352.2" r="1.75"/><circle cx="425.4" cy="360.1" r="1.75"/><circle cx="422.5" cy="364.8" r="1.75"/><circle cx="437" cy="357.9" r="1.75"/><circle cx="440.3" cy="358.6" r="1.75"/><circle cx="440.3" cy="368" r="1.75"/><circle cx="453.7" cy="358" r="1.75"/><circle cx="457.2" cy="358.3" r="1.75"/><circle cx="460.4" cy="356.9" r="1.75"/><circle cx="457.2" cy="368.8" r="1.75"/><circle cx="472" cy="367" r="1.75"/><circle cx="492.1" cy="360" r="1.75"/><circle cx="494.7" cy="361.8" r="1.75"/><circle cx="491.8" cy="371.9" r="1.75"/><circle cx="509.9" cy="345.7" r="1.75"/><circle cx="509.9" cy="353.9" r="1.75"/><circle cx="509.6" cy="373.1" r="1.75"/></g>
<path d="M382 341.8h11.2M399.9 346.3h11.2M416.9 351.9h11.2M434.5 351.2h11.2M451.9 351.7h11.2M469.4 372.3h11.2M486.9 360.4h11.2M504.4 370.2h11.2" stroke="#000" stroke-width="1.1" fill="none"/>
<path d="M27 447.3V540.5 M26.4 540.5H166.6 M24 447.6H27 M24 470.9H27 M24 494.1H27 M24 517.3H27 M24 540.5H27 M35.8 540.5v2.5 M53 540.5v2.5 M70.6 540.5v2.5 M88.2 540.5v2.5 M105.5 540.5v2.5 M122.8 540.5v2.5 M140.2 540.5v2.5 M158 540.5v2.5" stroke="#000" stroke-width="1.3" fill="none"/>
<text x="23" y="450" font-size="6.7" font-weight="bold" stroke="#000" stroke-width="0.25" text-anchor="end" fill="#000">80</text>
<text x="23" y="473.3" font-size="6.7" font-weight="bold" stroke="#000" stroke-width="0.25" text-anchor="end" fill="#000">60</text>
<text x="23" y="496.5" font-size="6.7" font-weight="bold" stroke="#000" stroke-width="0.25" text-anchor="end" fill="#000">40</text>
<text x="23" y="519.7" font-size="6.7" font-weight="bold" stroke="#000" stroke-width="0.25" text-anchor="end" fill="#000">20</text>
<text x="23" y="542.9" font-size="6.7" font-weight="bold" stroke="#000" stroke-width="0.25" text-anchor="end" fill="#000">0</text>
<text x="58" y="436.2" font-size="9" font-weight="bold" stroke="#000" stroke-width="0.3" textLength="65.8" lengthAdjust="spacingAndGlyphs" fill="#000">memory B cells</text>
<text transform="translate(10.9,493.9) rotate(-90)" font-size="7.9" font-weight="bold" stroke="#000" stroke-width="0.25" text-anchor="middle" textLength="73.3" lengthAdjust="spacingAndGlyphs"><tspan>CD19</tspan><tspan dy="-3" font-size="5.6">+</tspan><tspan dy="3">CD38</tspan><tspan dy="-3" font-size="5.6">-</tspan><tspan dy="3">IgD</tspan><tspan dy="-3" font-size="5.6">-</tspan><tspan dy="3"> (%)</tspan></text>
<text x="13.5" y="552" font-size="7.2" font-weight="bold" stroke="#000" stroke-width="0.2" text-anchor="middle" textLength="17.2" lengthAdjust="spacingAndGlyphs" fill="#000">IL-21</text>
<text x="13.5" y="562.2" font-size="7.2" font-weight="bold" stroke="#000" stroke-width="0.2" text-anchor="middle" textLength="17.4" lengthAdjust="spacingAndGlyphs" fill="#000">αIgM</text>
<text x="13.5" y="571.5" font-size="7.2" font-weight="bold" stroke="#000" stroke-width="0.2" text-anchor="middle" textLength="24" lengthAdjust="spacingAndGlyphs" fill="#000">αCD40</text>
<path d="M34.4 549.3h2.8M50.6 549.3h4.8M53 546.9v4.8M69.2 549.3h2.8M85.8 549.3h4.8M88.2 546.9v4.8M104.1 549.3h2.8M120.4 549.3h4.8M122.8 546.9v4.8M138.8 549.3h2.8M155.6 549.3h4.8M158 546.9v4.8M34.4 559.5h2.8M51.6 559.5h2.8M68.2 559.5h4.8M70.6 557.1v4.8M85.8 559.5h4.8M88.2 557.1v4.8M104.1 559.5h2.8M121.4 559.5h2.8M137.8 559.5h4.8M140.2 557.1v4.8M155.6 559.5h4.8M158 557.1v4.8M34.4 569.3h2.8M51.6 569.3h2.8M69.2 569.3h2.8M86.8 569.3h2.8M103.1 569.3h4.8M105.5 566.9v4.8M120.4 569.3h4.8M122.8 566.9v4.8M137.8 569.3h4.8M140.2 566.9v4.8M155.6 569.3h4.8M158 566.9v4.8" stroke="#000" stroke-width="1.25" fill="none"/>
<path d="M36.4 455.3V452.9H53.2V455.3M71.2 455.3V452.9H88.4V455.3M106.1 455.3V452.9H123V455.3M140.8 455.3V452.9H158.2V455.3" stroke="#555" stroke-width="0.8" fill="none"/>
<text x="44.8" y="456.5" font-size="10" font-weight="bold" text-anchor="middle" fill="#000">*</text>
<text x="79.8" y="456.5" font-size="10" font-weight="bold" text-anchor="middle" fill="#000">**</text>
<text x="114.55" y="450.5" font-size="6" text-anchor="middle" textLength="8" lengthAdjust="spacingAndGlyphs" fill="#222">NS</text>
<text x="149.5" y="450.5" font-size="6" text-anchor="middle" textLength="8" lengthAdjust="spacingAndGlyphs" fill="#222">NS</text>
<path d="M35.8 485.1V498.2M33.6 485.1h4.4M33.6 498.2h4.4" stroke="#8c8c8c" stroke-width="0.9" fill="none"/>
<path d="M53 479V486.9M50.8 479h4.4M50.8 486.9h4.4" stroke="#8c8c8c" stroke-width="0.9" fill="none"/>
<path d="M70.6 486V500M68.4 486h4.4M68.4 500h4.4" stroke="#8c8c8c" stroke-width="0.9" fill="none"/>
<path d="M88.2 473V487M86 473h4.4M86 487h4.4" stroke="#8c8c8c" stroke-width="0.9" fill="none"/>
<path d="M105.5 490V511.3M103.3 490h4.4M103.3 511.3h4.4" stroke="#8c8c8c" stroke-width="0.9" fill="none"/>
<path d="M122.8 482V493M120.6 482h4.4M120.6 493h4.4" stroke="#8c8c8c" stroke-width="0.9" fill="none"/>
<path d="M140.2 488V503M138 488h4.4M138 503h4.4" stroke="#8c8c8c" stroke-width="0.9" fill="none"/>
<path d="M158 490.7V498.2M155.8 490.7h4.4M155.8 498.2h4.4" stroke="#8c8c8c" stroke-width="0.9" fill="none"/>
<path d="M33.45 478.75h4.1v4.1h-4.1zM33.45 484.85h4.1v4.1h-4.1zM30.85 490.45h4.1v4.1h-4.1zM34.25 492.65h4.1v4.1h-4.1zM36.05 497.95h4.1v4.1h-4.1zM51.25 474.35h4.1v4.1h-4.1zM48.25 480.95h4.1v4.1h-4.1zM51.25 480.45h4.1v4.1h-4.1zM54.05 485.15h4.1v4.1h-4.1zM50.85 491.45h4.1v4.1h-4.1zM71.45 489.75h4.1v4.1h-4.1zM69.15 492.65h4.1v4.1h-4.1zM65.75 496.75h4.1v4.1h-4.1zM71.45 500.55h4.1v4.1h-4.1zM68.35 502.65h4.1v4.1h-4.1zM83.15 472.95h4.1v4.1h-4.1zM87.85 477.85h4.1v4.1h-4.1zM83.15 480.95h4.1v4.1h-4.1zM85.75 483.95h4.1v4.1h-4.1zM88.95 483.95h4.1v4.1h-4.1zM103.45 494.95h4.1v4.1h-4.1zM100.25 500.15h4.1v4.1h-4.1zM106.05 497.95h4.1v4.1h-4.1zM105.55 512.45h4.1v4.1h-4.1zM103.05 516.55h4.1v4.1h-4.1zM117.35 485.15h4.1v4.1h-4.1zM124.05 485.75h4.1v4.1h-4.1zM121.75 487.95h4.1v4.1h-4.1zM124.05 491.45h4.1v4.1h-4.1zM120.55 496.75h4.1v4.1h-4.1zM140.95 485.15h4.1v4.1h-4.1zM134.85 497.45h4.1v4.1h-4.1zM137.95 499.15h4.1v4.1h-4.1zM140.45 497.95h4.1v4.1h-4.1zM138.65 502.25h4.1v4.1h-4.1zM158.95 487.45h4.1v4.1h-4.1zM152.25 492.65h4.1v4.1h-4.1zM158.35 493.25h4.1v4.1h-4.1zM154.95 496.15h4.1v4.1h-4.1zM156.15 507.15h4.1v4.1h-4.1z" fill="#000"/>
<g fill="#fff" stroke="#000" stroke-width="1.05"><circle cx="38.6" cy="483.7" r="1.75"/><circle cx="38.1" cy="493.5" r="1.75"/><circle cx="35.5" cy="504" r="1.75"/><circle cx="53.3" cy="462.8" r="1.75"/><circle cx="56.1" cy="483.4" r="1.75"/><circle cx="52.9" cy="483.7" r="1.75"/><circle cx="70.4" cy="469.8" r="1.75"/><circle cx="70.4" cy="484.3" r="1.75"/><circle cx="67.8" cy="493.5" r="1.75"/><circle cx="88.2" cy="457.2" r="1.75"/><circle cx="88.2" cy="472.6" r="1.75"/><circle cx="105.5" cy="460.4" r="1.75"/><circle cx="105.5" cy="487.2" r="1.75"/><circle cx="105.5" cy="504.3" r="1.75"/><circle cx="122.6" cy="476.8" r="1.75"/><circle cx="126.1" cy="476.8" r="1.75"/><circle cx="121.2" cy="486" r="1.75"/><circle cx="140" cy="458.1" r="1.75"/><circle cx="136.9" cy="488.3" r="1.75"/><circle cx="140" cy="492.5" r="1.75"/><circle cx="157.5" cy="484.8" r="1.75"/><circle cx="158.2" cy="491.8" r="1.75"/></g>
<path d="M30.2 493.9h11.2M47.4 483h11.2M65 494.4h11.2M82.6 479h11.2M99.9 502.2h11.2M117.2 487.8h11.2M134.6 496.1h11.2M152.4 494.7h11.2" stroke="#000" stroke-width="1.1" fill="none"/>
<path d="M204.6 447.3V540.5 M204 540.5H343.6 M201.6 447.6H204.6 M201.6 470.9H204.6 M201.6 494.1H204.6 M201.6 517.3H204.6 M201.6 540.5H204.6 M213 540.5v2.5 M230.6 540.5v2.5 M248 540.5v2.5 M265.8 540.5v2.5 M282.8 540.5v2.5 M300.3 540.5v2.5 M317.7 540.5v2.5 M335.2 540.5v2.5" stroke="#000" stroke-width="1.3" fill="none"/>
<text x="200.6" y="450" font-size="6.7" font-weight="bold" stroke="#000" stroke-width="0.25" text-anchor="end" fill="#000">80</text>
<text x="200.6" y="473.3" font-size="6.7" font-weight="bold" stroke="#000" stroke-width="0.25" text-anchor="end" fill="#000">60</text>
<text x="200.6" y="496.5" font-size="6.7" font-weight="bold" stroke="#000" stroke-width="0.25" text-anchor="end" fill="#000">40</text>
<text x="200.6" y="519.7" font-size="6.7" font-weight="bold" stroke="#000" stroke-width="0.25" text-anchor="end" fill="#000">20</text>
<text x="200.6" y="542.9" font-size="6.7" font-weight="bold" stroke="#000" stroke-width="0.25" text-anchor="end" fill="#000">0</text>
<text x="241.8" y="436.2" font-size="9" font-weight="bold" stroke="#000" stroke-width="0.3" textLength="53.2" lengthAdjust="spacingAndGlyphs" fill="#000">naive B cells</text>
<text transform="translate(187.9,494) rotate(-90)" font-size="7.9" font-weight="bold" stroke="#000" stroke-width="0.25" text-anchor="middle" textLength="76" lengthAdjust="spacingAndGlyphs"><tspan>CD19</tspan><tspan dy="-3" font-size="5.6">+</tspan><tspan dy="3">CD38</tspan><tspan dy="-3" font-size="5.6">-</tspan><tspan dy="3">IgD</tspan><tspan dy="-3" font-size="5.6">+</tspan><tspan dy="3"> (%)</tspan></text>
<text x="191.1" y="552" font-size="7.2" font-weight="bold" stroke="#000" stroke-width="0.2" text-anchor="middle" textLength="17.2" lengthAdjust="spacingAndGlyphs" fill="#000">IL-21</text>
<text x="191.1" y="562.2" font-size="7.2" font-weight="bold" stroke="#000" stroke-width="0.2" text-anchor="middle" textLength="17.4" lengthAdjust="spacingAndGlyphs" fill="#000">αIgM</text>
<text x="191.1" y="571.5" font-size="7.2" font-weight="bold" stroke="#000" stroke-width="0.2" text-anchor="middle" textLength="24" lengthAdjust="spacingAndGlyphs" fill="#000">αCD40</text>
<path d="M211.6 549.3h2.8M228.2 549.3h4.8M230.6 546.9v4.8M246.6 549.3h2.8M263.4 549.3h4.8M265.8 546.9v4.8M281.4 549.3h2.8M297.9 549.3h4.8M300.3 546.9v4.8M316.3 549.3h2.8M332.8 549.3h4.8M335.2 546.9v4.8M211.6 559.5h2.8M229.2 559.5h2.8M245.6 559.5h4.8M248 557.1v4.8M263.4 559.5h4.8M265.8 557.1v4.8M281.4 559.5h2.8M298.9 559.5h2.8M315.3 559.5h4.8M317.7 557.1v4.8M332.8 559.5h4.8M335.2 557.1v4.8M211.6 569.3h2.8M229.2 569.3h2.8M246.6 569.3h2.8M264.4 569.3h2.8M280.4 569.3h4.8M282.8 566.9v4.8M297.9 569.3h4.8M300.3 566.9v4.8M315.3 569.3h4.8M317.7 566.9v4.8M332.8 569.3h4.8M335.2 566.9v4.8" stroke="#000" stroke-width="1.25" fill="none"/>
<path d="M213.6 455.3V452.9H230.8V455.3M248.6 455.3V452.9H266V455.3M283.4 455.3V452.9H300.5V455.3M318.3 455.3V452.9H335.4V455.3" stroke="#555" stroke-width="0.8" fill="none"/>
<text x="222.2" y="456.5" font-size="10" font-weight="bold" text-anchor="middle" fill="#000">*</text>
<text x="257.3" y="456.5" font-size="10" font-weight="bold" text-anchor="middle" fill="#000">**</text>
<text x="291.95" y="456.5" font-size="10" font-weight="bold" text-anchor="middle" fill="#000">**</text>
<text x="326.85" y="456.5" font-size="10" font-weight="bold" text-anchor="middle" fill="#000">**</text>
<path d="M213 500.8V510M210.8 500.8h4.4M210.8 510h4.4" stroke="#8c8c8c" stroke-width="0.9" fill="none"/>
<path d="M230.6 503V512M228.4 503h4.4M228.4 512h4.4" stroke="#8c8c8c" stroke-width="0.9" fill="none"/>
<path d="M248 485.5V501.7M245.8 485.5h4.4M245.8 501.7h4.4" stroke="#8c8c8c" stroke-width="0.9" fill="none"/>
<path d="M265.8 503V514M263.6 503h4.4M263.6 514h4.4" stroke="#8c8c8c" stroke-width="0.9" fill="none"/>
<path d="M282.8 479V497.4M280.6 479h4.4M280.6 497.4h4.4" stroke="#8c8c8c" stroke-width="0.9" fill="none"/>
<path d="M300.3 518V526.7M298.1 518h4.4M298.1 526.7h4.4" stroke="#8c8c8c" stroke-width="0.9" fill="none"/>
<path d="M317.7 476.8V497.4M315.5 476.8h4.4M315.5 497.4h4.4" stroke="#8c8c8c" stroke-width="0.9" fill="none"/>
<path d="M335.2 517.4V525.6M333 517.4h4.4M333 525.6h4.4" stroke="#8c8c8c" stroke-width="0.9" fill="none"/>
<path d="M211.05 497.05h4.1v4.1h-4.1zM211.05 503.15h4.1v4.1h-4.1zM214.05 503.15h4.1v4.1h-4.1zM211.05 507.55h4.1v4.1h-4.1zM231.45 495.65h4.1v4.1h-4.1zM225.75 504.35h4.1v4.1h-4.1zM228.55 505.45h4.1v4.1h-4.1zM232.05 507.95h4.1v4.1h-4.1zM228.55 508.95h4.1v4.1h-4.1zM245.95 470.55h4.1v4.1h-4.1zM245.95 483.95h4.1v4.1h-4.1zM242.85 489.75h4.1v4.1h-4.1zM246.65 489.75h4.1v4.1h-4.1zM248.95 502.65h4.1v4.1h-4.1zM266.35 499.65h4.1v4.1h-4.1zM261.15 502.65h4.1v4.1h-4.1zM263.75 504.95h4.1v4.1h-4.1zM266.35 510.65h4.1v4.1h-4.1zM280.75 459.05h4.1v4.1h-4.1zM277.85 480.45h4.1v4.1h-4.1zM280.75 480.95h4.1v4.1h-4.1zM284.25 486.25h4.1v4.1h-4.1zM280.75 499.15h4.1v4.1h-4.1zM298.25 507.85h4.1v4.1h-4.1zM298.25 514.55h4.1v4.1h-4.1zM296.15 523.55h4.1v4.1h-4.1zM298.75 524.65h4.1v4.1h-4.1zM295.75 527.05h4.1v4.1h-4.1zM298.25 528.15h4.1v4.1h-4.1zM312.75 468.25h4.1v4.1h-4.1zM315.65 471.25h4.1v4.1h-4.1zM312.75 483.45h4.1v4.1h-4.1zM319.15 485.75h4.1v4.1h-4.1zM315.65 497.95h4.1v4.1h-4.1zM330.15 514.55h4.1v4.1h-4.1zM333.15 515.95h4.1v4.1h-4.1zM329.65 521.45h4.1v4.1h-4.1zM335.35 521.85h4.1v4.1h-4.1zM335.95 524.95h4.1v4.1h-4.1z" fill="#000"/>
<g fill="#fff" stroke="#000" stroke-width="1.05"><circle cx="210.3" cy="496" r="1.75"/><circle cx="216.1" cy="495.3" r="1.75"/><circle cx="213.1" cy="497.7" r="1.75"/><circle cx="210.3" cy="506.4" r="1.75"/><circle cx="230.6" cy="500.8" r="1.75"/><circle cx="233.5" cy="510.4" r="1.75"/><circle cx="230.6" cy="514.8" r="1.75"/><circle cx="251" cy="491.8" r="1.75"/><circle cx="248" cy="507.8" r="1.75"/><circle cx="265.5" cy="500" r="1.75"/><circle cx="262.7" cy="513.4" r="1.75"/><circle cx="265.5" cy="516.9" r="1.75"/><circle cx="282.8" cy="476.4" r="1.75"/><circle cx="282.8" cy="490.7" r="1.75"/><circle cx="282.8" cy="512.2" r="1.75"/><circle cx="300.3" cy="502.2" r="1.75"/><circle cx="303" cy="529.1" r="1.75"/><circle cx="318.8" cy="483.7" r="1.75"/><circle cx="317.7" cy="487.8" r="1.75"/><circle cx="317.7" cy="512.7" r="1.75"/><circle cx="335.2" cy="505.7" r="1.75"/><circle cx="334.5" cy="521.8" r="1.75"/><circle cx="335.2" cy="527" r="1.75"/></g>
<path d="M207.4 505.2h11.2M225 508.2h11.2M242.4 491.8h11.2M260.2 509.6h11.2M277.2 486h11.2M294.7 526.7h11.2M312.1 487.2h11.2M329.6 522.1h11.2" stroke="#000" stroke-width="1.1" fill="none"/>
<circle cx="425" cy="483.1" r="2.25" fill="#fff" stroke="#000" stroke-width="1.9"/>
<rect x="422.1" y="495.6" width="5.8" height="5.8" fill="#000"/>
<text x="440.4" y="485.7" font-size="10.3" textLength="38.1" lengthAdjust="spacingAndGlyphs" fill="#000">Controls</text>
<text x="440.4" y="502.3" font-size="10.3" textLength="15.4" lengthAdjust="spacingAndGlyphs" fill="#000">ITP</text>
</svg>
</body></html>
